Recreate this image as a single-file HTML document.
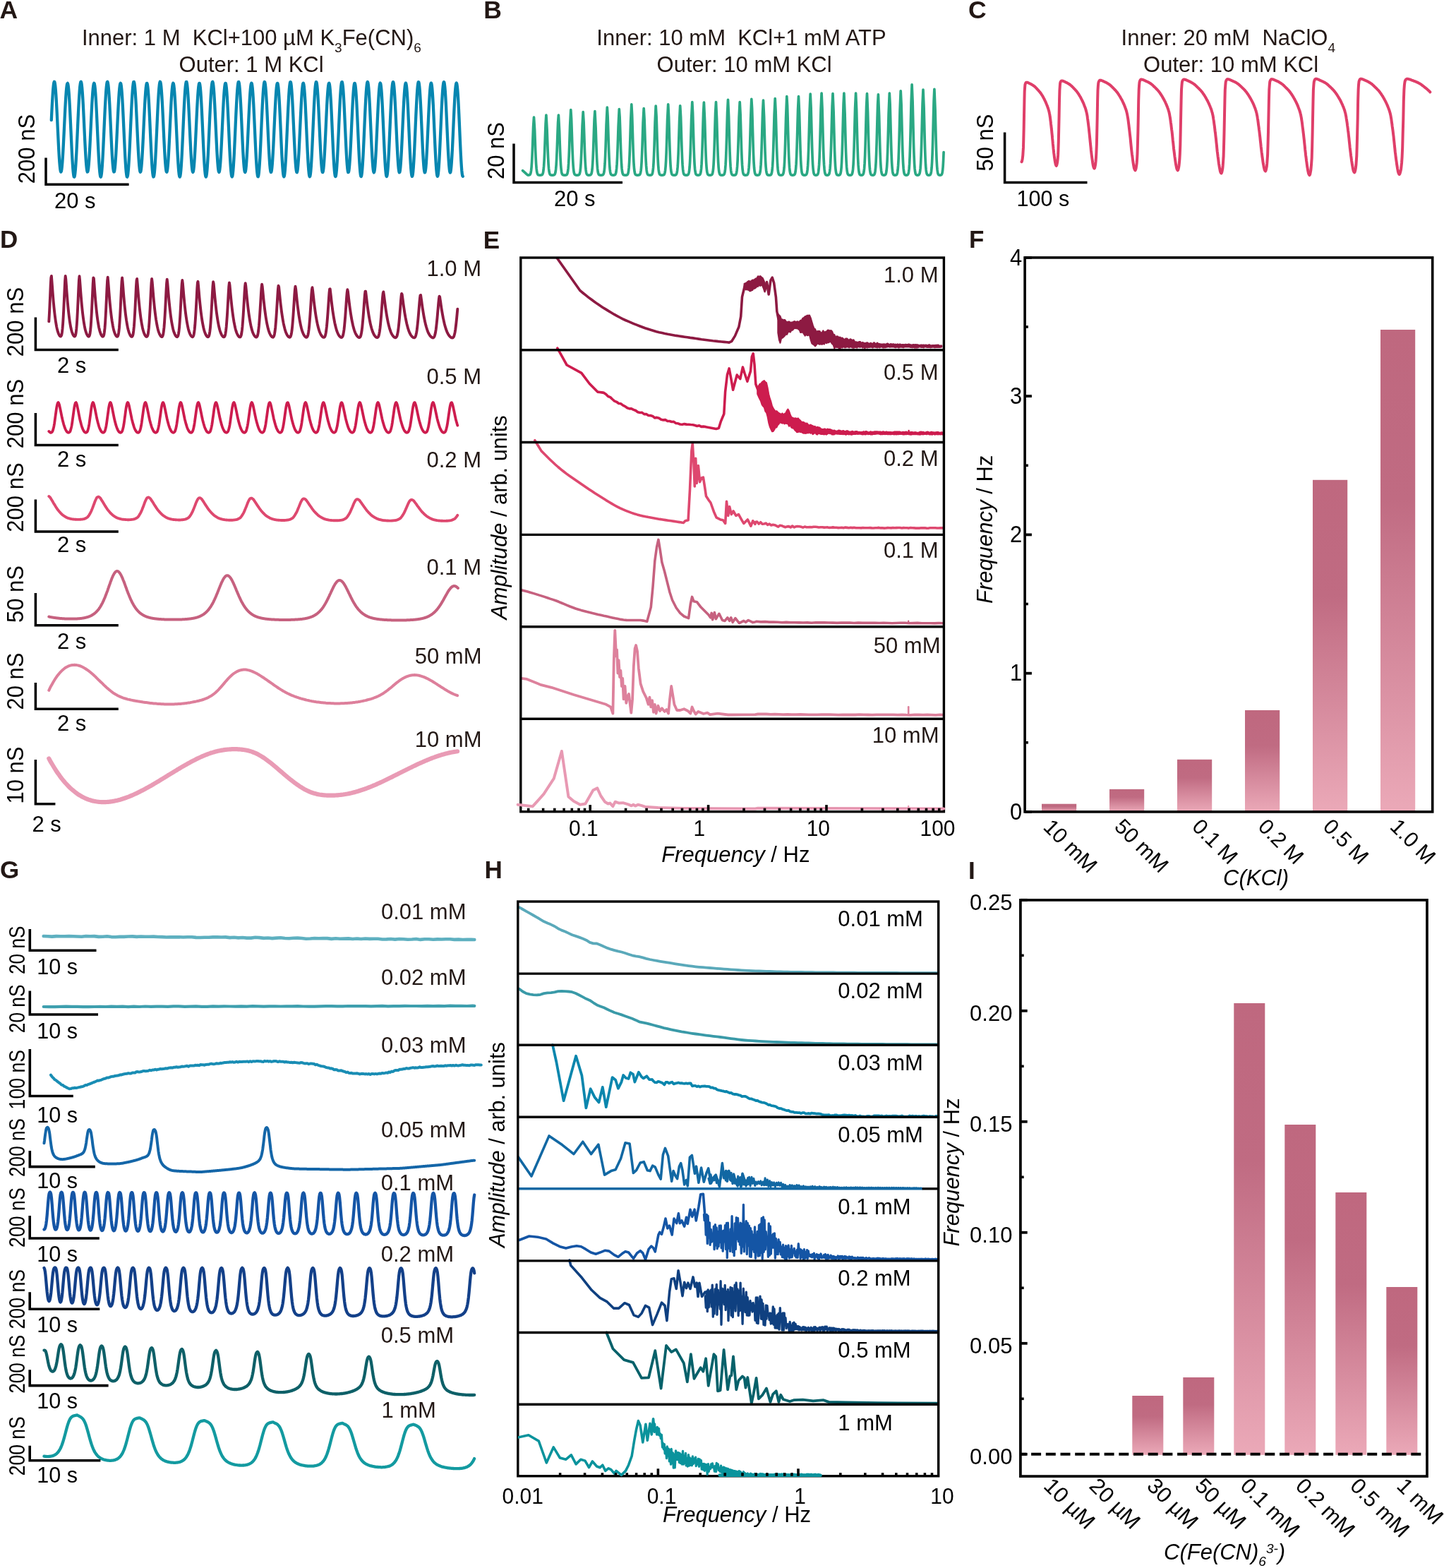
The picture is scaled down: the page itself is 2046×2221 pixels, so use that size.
<!DOCTYPE html>
<html lang="en"><head><meta charset="utf-8"><title>Figure</title>
<style>
html,body{margin:0;padding:0;background:#fff;}
svg{display:block;}
svg text{font-family:"Liberation Sans",Arial,Helvetica,sans-serif;}
</style></head><body>
<svg width="2046" height="2221" viewBox="0 0 2046 2221">
<defs>
<linearGradient id="bg" x1="0" y1="0" x2="0" y2="1"><stop offset="0" stop-color="#bf687f"/><stop offset="0.35" stop-color="#c06b82"/><stop offset="1" stop-color="#eba9b8"/></linearGradient>
</defs>
<rect width="2046" height="2221" fill="#fff"/>
<text x="-0.5" y="26.2" font-size="35.5" text-anchor="start" fill="#231815" font-weight="bold">A</text>
<text x="356.4" y="63.9" font-size="31" text-anchor="middle" fill="#231815" xml:space="preserve">Inner: 1 M  KCl+100 µM K<tspan font-size="19" dy="10.5">3</tspan><tspan dy="-10.5">Fe(CN)</tspan><tspan font-size="19" dy="10.5">6</tspan></text>
<text x="356.1" y="101.5" font-size="31" text-anchor="middle" fill="#231815">Outer: 1 M KCl</text>
<polyline points="72.8,170.1 73.3,159.4 73.8,149.4 74.3,140.3 74.8,132.3 75.3,125.7 75.8,120.7 76.3,117.4 76.8,115.8 77.3,116.0 77.8,118.1 78.3,121.8 78.8,127.2 79.3,134.1 79.8,142.3 80.3,151.5 80.8,161.4 81.3,171.9 81.8,182.6 82.3,193.2 82.8,203.4 83.3,213.0 83.8,221.6 84.3,229.1 84.8,235.1 85.3,239.6 85.8,242.4 86.3,243.5 86.8,242.8 87.3,240.4 87.8,236.2 88.3,230.5 88.8,223.4 89.3,215.0 89.8,205.7 90.3,195.7 90.8,185.3 91.3,174.7 91.8,164.3 92.3,154.3 92.8,145.1 93.3,136.9 93.8,130.0 94.3,124.5 94.8,120.6 95.3,118.4 95.8,117.9 96.3,119.3 96.8,122.4 97.3,127.3 97.8,133.7 98.3,141.5 98.8,150.4 99.3,160.3 99.8,170.9 100.3,181.8 100.8,192.9 101.3,203.6 101.8,213.9 102.3,223.3 102.8,231.7 103.3,238.8 103.8,244.3 104.3,248.3 104.8,250.4 105.3,250.7 105.8,249.2 106.3,245.9 106.8,240.9 107.3,234.4 107.8,226.4 108.3,217.2 108.8,207.2 109.3,196.4 109.8,185.4 110.3,174.2 110.8,163.3 111.3,153.0 111.8,143.5 112.3,135.1 112.8,127.9 113.3,122.3 113.8,118.4 114.3,116.2 114.8,115.8 115.3,117.2 115.8,120.4 116.3,125.3 116.8,131.7 117.3,139.5 117.8,148.4 118.3,158.2 118.8,168.6 119.3,179.3 119.8,190.0 120.3,200.4 120.8,210.2 121.3,219.2 121.8,227.0 122.3,233.5 122.8,238.5 123.3,241.9 123.8,243.5 124.3,243.3 124.8,241.3 125.3,237.6 125.8,232.3 126.3,225.5 126.8,217.4 127.3,208.3 127.8,198.4 128.3,188.0 128.8,177.4 129.3,166.9 129.8,156.8 130.3,147.3 130.8,138.8 131.3,131.5 131.8,125.6 132.3,121.3 132.8,118.7 133.3,117.8 133.8,118.8 134.3,121.6 134.8,126.1 135.3,132.2 135.8,139.7 136.3,148.5 136.8,158.2 137.3,168.7 137.8,179.6 138.3,190.7 138.8,201.6 139.3,212.0 139.8,221.6 140.3,230.2 140.8,237.6 141.3,243.4 141.8,247.6 142.3,250.1 142.8,250.7 143.3,249.5 143.8,246.5 144.3,241.7 144.8,235.4 145.3,227.6 145.8,218.5 146.3,208.6 146.8,197.9 147.3,186.8 147.8,175.6 148.3,164.7 148.8,154.2 149.3,144.6 149.8,136.0 150.3,128.7 150.8,122.9 151.3,118.7 151.8,116.3 152.3,115.8 152.8,117.0 153.3,120.1 153.8,124.8 154.3,131.1 154.8,138.8 155.3,147.7 155.8,157.5 156.3,167.9 156.8,178.6 157.3,189.3 157.8,199.8 158.3,209.7 158.8,218.8 159.3,226.7 159.8,233.3 160.3,238.4 160.8,241.8 161.3,243.5 161.8,243.4 162.3,241.4 162.8,237.8 163.3,232.5 163.8,225.7 164.3,217.6 164.8,208.5 165.3,198.6 165.8,188.2 166.3,177.5 166.8,167.0 167.3,156.8 167.8,147.3 168.3,138.8 168.8,131.5 169.3,125.6 169.8,121.2 170.3,118.6 170.8,117.8 171.3,118.8 171.8,121.7 172.3,126.2 172.8,132.4 173.3,140.0 173.8,148.8 174.3,158.6 174.8,169.2 175.3,180.2 175.8,191.2 176.3,202.1 176.8,212.5 177.3,222.2 177.8,230.7 178.3,238.0 178.8,243.7 179.3,247.8 179.8,250.2 180.3,250.6 180.8,249.3 181.3,246.1 181.8,241.1 182.3,234.6 182.8,226.6 183.3,217.5 183.8,207.4 184.3,196.6 184.8,185.4 185.3,174.3 185.8,163.3 186.3,152.9 186.8,143.4 187.3,134.9 187.8,127.8 188.3,122.2 188.8,118.3 189.3,116.1 189.8,115.9 190.3,117.4 190.8,120.7 191.3,125.8 191.8,132.4 192.3,140.3 192.8,149.4 193.3,159.3 193.8,169.8 194.3,180.6 194.8,191.4 195.3,201.8 195.8,211.6 196.3,220.5 196.8,228.2 197.3,234.5 197.8,239.3 198.3,242.4 198.8,243.7 199.3,243.2 199.8,240.9 200.3,236.8 200.8,231.1 201.3,224.0 201.8,215.7 202.3,206.3 202.8,196.2 203.3,185.6 203.8,174.9 204.3,164.4 204.8,154.3 205.3,145.0 205.8,136.8 206.3,129.8 206.8,124.3 207.3,120.4 207.8,118.2 208.3,117.9 208.8,119.4 209.3,122.7 209.8,127.8 210.3,134.4 210.8,142.4 211.3,151.6 211.8,161.7 212.3,172.4 212.8,183.5 213.3,194.6 213.8,205.4 214.3,215.6 214.8,224.9 215.3,233.1 215.8,240.0 216.3,245.2 216.8,248.7 217.3,250.5 217.8,250.3 218.3,248.3 218.8,244.5 219.3,238.9 219.8,231.9 220.3,223.4 220.8,213.9 221.3,203.5 221.8,192.5 222.3,181.3 222.8,170.1 223.3,159.3 223.8,149.1 224.3,140.0 224.8,132.0 225.3,125.4 225.8,120.4 226.3,117.2 226.8,115.8 227.3,116.3 227.8,118.6 228.3,122.7 228.8,128.4 229.3,135.6 229.8,144.1 230.3,153.6 230.8,163.8 231.3,174.5 231.8,185.4 232.3,196.1 232.8,206.3 233.3,215.7 233.8,224.2 234.3,231.3 234.8,237.0 235.3,241.0 235.8,243.3 236.3,243.8 236.8,242.4 237.3,239.2 237.8,234.4 238.3,228.0 238.8,220.2 239.3,211.3 239.8,201.5 240.3,191.1 240.8,180.4 241.3,169.7 241.8,159.3 242.3,149.6 242.8,140.7 243.3,133.0 243.8,126.7 244.3,122.0 244.8,119.0 245.3,117.8 245.8,118.4 246.3,120.9 246.8,125.2 247.3,131.1 247.8,138.5 248.3,147.2 248.8,157.0 249.3,167.5 249.8,178.5 250.3,189.6 250.8,200.6 251.3,211.2 251.8,221.0 252.3,229.7 252.8,237.2 253.3,243.1 253.8,247.4 254.3,249.9 254.8,250.5 255.3,249.3 255.8,246.2 256.3,241.3 256.8,234.8 257.3,226.8 257.8,217.7 258.3,207.5 258.8,196.7 259.3,185.5 259.8,174.3 260.3,163.2 260.8,152.8 261.3,143.2 261.8,134.7 262.3,127.6 262.8,122.0 263.3,118.2 263.8,116.1 264.3,115.9 264.8,117.6 265.3,121.1 265.8,126.3 266.3,133.1 266.8,141.2 267.3,150.4 267.8,160.5 268.3,171.1 268.8,182.0 269.3,192.8 269.8,203.3 270.3,213.0 270.8,221.8 271.3,229.4 271.8,235.5 272.3,240.1 272.8,242.9 273.3,243.9 273.8,243.0 274.3,240.4 274.8,235.9 275.3,229.9 275.8,222.5 276.3,213.8 276.8,204.2 277.3,193.9 277.8,183.2 278.3,172.4 278.8,161.9 279.3,151.9 279.8,142.8 280.3,134.8 280.8,128.1 281.3,123.0 281.8,119.5 282.3,117.9 282.8,118.1 283.3,120.2 283.8,124.1 284.3,129.7 284.8,136.8 285.3,145.3 285.8,154.9 286.3,165.3 286.8,176.2 287.3,187.4 287.8,198.5 288.3,209.2 288.8,219.2 289.3,228.2 289.8,235.9 290.3,242.1 290.8,246.7 291.3,249.5 291.8,250.5 292.3,249.5 292.8,246.7 293.3,242.1 293.8,235.8 294.3,228.0 294.8,219.0 295.3,208.9 295.8,198.2 296.3,187.0 296.8,175.7 297.3,164.6 297.8,154.0 298.3,144.3 298.8,135.6 299.3,128.3 299.8,122.6 300.3,118.5 300.8,116.3 301.3,115.9 301.8,117.4 302.3,120.8 302.8,125.8 303.3,132.5 303.8,140.5 304.3,149.7 304.8,159.8 305.3,170.4 305.8,181.3 306.3,192.2 306.8,202.7 307.3,212.6 307.8,221.4 308.3,229.1 308.8,235.4 309.3,240.0 309.8,242.9 310.3,243.9 310.8,243.2 311.3,240.5 311.8,236.1 312.3,230.1 312.8,222.7 313.3,214.0 313.8,204.3 314.3,194.0 314.8,183.3 315.3,172.5 315.8,161.9 316.3,151.9 316.8,142.7 317.3,134.7 317.8,128.0 318.3,122.9 318.8,119.5 319.3,117.9 319.8,118.1 320.3,120.3 320.8,124.2 321.3,129.9 321.8,137.1 322.3,145.6 322.8,155.3 323.3,165.8 323.8,176.8 324.3,188.0 324.8,199.1 325.3,209.8 325.8,219.8 326.3,228.7 326.8,236.3 327.3,242.5 327.8,247.0 328.3,249.6 328.8,250.4 329.3,249.3 329.8,246.3 330.3,241.5 330.8,235.0 331.3,227.1 331.8,217.9 332.3,207.7 332.8,196.8 333.3,185.6 333.8,174.2 334.3,163.2 334.8,152.7 335.3,143.0 335.8,134.5 336.3,127.4 336.8,121.9 337.3,118.1 337.8,116.1 338.3,116.0 338.8,117.8 339.3,121.5 339.8,126.9 340.3,133.8 340.8,142.1 341.3,151.5 341.8,161.7 342.3,172.4 342.8,183.4 343.3,194.3 343.8,204.7 344.3,214.4 344.8,223.1 345.3,230.6 345.8,236.5 346.3,240.8 346.8,243.3 347.3,244.0 347.8,242.8 348.3,239.8 348.8,235.0 349.3,228.6 349.8,220.8 350.3,211.9 350.8,202.0 351.3,191.5 351.8,180.6 352.3,169.8 352.8,159.3 353.3,149.5 353.8,140.5 354.3,132.8 354.8,126.5 355.3,121.8 355.8,118.8 356.3,117.7 356.8,118.5 357.3,121.2 357.8,125.6 358.3,131.8 358.8,139.4 359.3,148.4 359.8,158.3 360.3,169.0 360.8,180.2 361.3,191.4 361.8,202.5 362.3,213.0 362.8,222.7 363.3,231.2 363.8,238.5 364.3,244.1 364.8,248.0 365.3,250.0 365.8,250.2 366.3,248.4 366.8,244.7 367.3,239.3 367.8,232.3 368.3,223.9 368.8,214.3 369.3,203.8 369.8,192.7 370.3,181.3 370.8,170.0 371.3,159.1 371.8,148.9 372.3,139.6 372.8,131.6 373.3,125.0 373.8,120.2 374.3,117.1 374.8,115.9 375.3,116.6 375.8,119.2 376.3,123.5 376.8,129.6 377.3,137.2 377.8,146.0 378.3,155.8 378.8,166.3 379.3,177.2 379.8,188.3 380.3,199.0 380.8,209.2 381.3,218.5 381.8,226.7 382.3,233.5 382.8,238.8 383.3,242.3 383.8,243.9 384.3,243.7 384.8,241.7 385.3,237.8 385.8,232.2 386.3,225.1 386.8,216.7 387.3,207.2 387.8,196.9 388.3,186.2 388.8,175.3 389.3,164.5 389.8,154.3 390.3,144.8 390.8,136.4 391.3,129.4 391.8,123.8 392.3,120.0 392.8,118.0 393.3,117.9 393.8,119.7 394.3,123.3 394.8,128.7 395.3,135.7 395.8,144.1 396.3,153.7 396.8,164.1 397.3,175.1 397.8,186.4 398.3,197.6 398.8,208.4 399.3,218.6 399.8,227.7 400.3,235.5 400.8,241.9 401.3,246.5 401.8,249.3 402.3,250.3 402.8,249.3 403.3,246.4 403.8,241.6 404.3,235.2 404.8,227.3 405.3,218.1 405.8,207.9 406.3,196.9 406.8,185.6 407.3,174.2 407.8,163.1 408.3,152.5 408.8,142.8 409.3,134.3 409.8,127.2 410.3,121.7 410.8,118.0 411.3,116.1 411.8,116.1 412.3,118.1 412.8,121.9 413.3,127.4 413.8,134.5 414.3,143.0 414.8,152.6 415.3,162.9 415.8,173.8 416.3,184.9 416.8,195.8 417.3,206.2 417.8,215.9 418.3,224.5 418.8,231.7 419.3,237.5 419.8,241.5 420.3,243.7 420.8,244.1 421.3,242.5 421.8,239.1 422.3,233.9 422.8,227.2 423.3,219.1 423.8,209.8 424.3,199.7 424.8,189.0 425.3,178.1 425.8,167.2 426.3,156.8 426.8,147.0 427.3,138.3 427.8,130.9 428.3,125.0 428.8,120.7 429.3,118.3 429.8,117.7 430.3,119.1 430.8,122.3 431.3,127.4 431.8,134.1 432.3,142.2 432.8,151.6 433.3,161.9 433.8,172.9 434.3,184.2 434.8,195.5 435.3,206.4 435.8,216.7 436.3,226.1 436.8,234.2 437.3,240.8 437.8,245.8 438.3,248.9 438.8,250.2 439.3,249.5 439.8,246.9 440.3,242.4 440.8,236.2 441.3,228.4 441.8,219.4 442.3,209.2 442.8,198.4 443.3,187.0 443.8,175.6 444.3,164.4 444.8,153.7 445.3,143.9 445.8,135.2 446.3,127.9 446.8,122.2 447.3,118.3 447.8,116.2 448.3,116.1 448.8,117.9 449.3,121.5 449.8,126.9 450.3,134.0 450.8,142.4 451.3,151.9 451.8,162.2 452.3,173.1 452.8,184.2 453.3,195.2 453.8,205.7 454.3,215.4 454.8,224.1 455.3,231.5 455.8,237.3 456.3,241.5 456.8,243.8 457.3,244.1 457.8,242.6 458.3,239.3 458.8,234.1 459.3,227.4 459.8,219.3 460.3,210.0 460.8,199.8 461.3,189.1 461.8,178.1 462.3,167.2 462.8,156.7 463.3,147.0 463.8,138.2 464.3,130.8 464.8,124.9 465.3,120.6 465.8,118.2 466.3,117.7 466.8,119.1 467.3,122.5 467.8,127.6 468.3,134.3 468.8,142.6 469.3,152.0 469.8,162.4 470.3,173.4 470.8,184.8 471.3,196.1 471.8,207.1 472.3,217.3 472.8,226.6 473.3,234.7 473.8,241.2 474.3,246.0 474.8,249.1 475.3,250.1 475.8,249.3 476.3,246.4 476.8,241.8 477.3,235.4 477.8,227.5 478.3,218.2 478.8,208.0 479.3,197.0 479.8,185.6 480.3,174.2 480.8,163.0 481.3,152.3 481.8,142.6 482.3,134.1 482.8,127.0 483.3,121.5 483.8,117.9 484.3,116.1 484.8,116.2 485.3,118.4 485.8,122.3 486.3,128.0 486.8,135.3 487.3,144.0 487.8,153.7 488.3,164.2 488.8,175.2 489.3,186.4 489.8,197.3 490.3,207.7 490.8,217.3 491.3,225.8 491.8,232.9 492.3,238.4 492.8,242.2 493.3,244.1 493.8,244.0 494.3,242.1 494.8,238.3 495.3,232.8 495.8,225.7 496.3,217.2 496.8,207.7 497.3,197.3 497.8,186.5 498.3,175.4 498.8,164.6 499.3,154.2 499.8,144.6 500.3,136.2 500.8,129.1 501.3,123.6 501.8,119.8 502.3,117.9 502.8,117.9 503.3,119.9 503.8,123.7 504.3,129.3 504.8,136.6 505.3,145.2 505.8,155.0 506.3,165.7 506.8,176.9 507.3,188.3 507.8,199.5 508.3,210.3 508.8,220.4 509.3,229.3 509.8,236.9 510.3,242.9 510.8,247.2 511.3,249.6 511.8,250.0 512.3,248.4 512.8,245.0 513.3,239.6 513.8,232.7 514.3,224.2 514.8,214.6 515.3,204.0 515.8,192.8 516.3,181.3 516.8,169.9 517.3,158.8 517.8,148.5 518.3,139.2 518.8,131.1 519.3,124.6 519.8,119.9 520.3,116.9 520.8,115.9 521.3,116.9 521.8,119.8 522.3,124.5 522.8,131.0 523.3,138.9 523.8,148.0 524.3,158.2 524.8,169.0 525.3,180.1 525.8,191.3 526.3,202.1 526.8,212.2 527.3,221.4 527.8,229.3 528.3,235.7 528.8,240.4 529.3,243.4 529.8,244.4 530.3,243.4 530.8,240.6 531.3,236.0 531.8,229.6 532.3,221.8 532.8,212.8 533.3,202.7 533.8,192.0 534.3,181.0 534.8,170.0 535.3,159.3 535.8,149.2 536.3,140.2 536.8,132.3 537.3,126.0 537.8,121.3 538.3,118.5 538.8,117.6 539.3,118.7 539.8,121.7 540.3,126.5 540.8,133.0 541.3,141.1 541.8,150.4 542.3,160.8 542.8,171.8 543.3,183.2 543.8,194.6 544.3,205.7 544.8,216.1 545.3,225.6 545.8,233.8 546.3,240.5 546.8,245.6 547.3,248.8 547.8,250.0 548.3,249.2 548.8,246.5 549.3,241.9 549.8,235.6 550.3,227.6 550.8,218.4 551.3,208.1 551.8,197.1 552.3,185.6 552.8,174.1 553.3,162.8 553.8,152.2 554.3,142.4 554.8,133.9 555.3,126.8 555.8,121.4 556.3,117.8 556.8,116.1 557.3,116.4 557.8,118.6 558.3,122.8 558.8,128.7 559.3,136.2 559.8,145.0 560.3,154.9 560.8,165.5 561.3,176.7 561.8,187.9 562.3,198.9 562.8,209.3 563.3,218.8 563.8,227.1 564.3,234.0 564.8,239.3 565.3,242.8 565.8,244.3 566.3,244.0 566.8,241.7 567.3,237.5 567.8,231.6 568.3,224.1 568.8,215.3 569.3,205.5 569.8,194.9 570.3,183.8 570.8,172.7 571.3,161.9 571.8,151.6 572.3,142.2 572.8,134.1 573.3,127.3 573.8,122.2 574.3,119.0 574.8,117.6 575.3,118.3 575.8,120.8 576.3,125.3 576.8,131.5 577.3,139.3 577.8,148.4 578.3,158.6 578.8,169.5 579.3,180.9 579.8,192.4 580.3,203.6 580.8,214.2 581.3,223.9 581.8,232.4 582.3,239.4 582.8,244.8 583.3,248.3 583.8,249.9 584.3,249.4 584.8,247.0 585.3,242.7 585.8,236.5 586.3,228.8 586.8,219.7 587.3,209.5 587.8,198.5 588.3,187.1 588.8,175.5 589.3,164.1 589.8,153.4 590.3,143.5 590.8,134.7 591.3,127.5 591.8,121.8 592.3,118.0 592.8,116.2 593.3,116.3 593.8,118.4 594.3,122.4 594.8,128.2 595.3,135.6 595.8,144.3 596.3,154.2 596.8,164.9 597.3,176.0 597.8,187.2 598.3,198.3 598.8,208.8 599.3,218.4 599.8,226.8 600.3,233.8 600.8,239.2 601.3,242.7 601.8,244.4 602.3,244.1 602.8,241.8 603.3,237.7 603.8,231.8 604.3,224.3 604.8,215.5 605.3,205.6 605.8,195.0 606.3,183.9 606.8,172.8 607.3,161.9 607.8,151.5 608.3,142.1 608.8,134.0 609.3,127.2 609.8,122.2 610.3,118.9 610.8,117.6 611.3,118.3 611.8,120.9 612.3,125.5 612.8,131.8 613.3,139.6 613.8,148.8 614.3,159.1 614.8,170.1 615.3,181.6 615.8,193.0 616.3,204.3 616.8,214.9 617.3,224.5 617.8,232.9 618.3,239.9 618.8,245.1 619.3,248.4 619.8,249.8 620.3,249.2 620.8,246.6 621.3,242.0 621.8,235.7 622.3,227.8 622.8,218.6 623.3,208.2 623.8,197.1 624.3,185.6 624.8,174.0 625.3,162.7 625.8,152.0 626.3,142.2 626.8,133.6 627.3,126.6 627.8,121.2 628.3,117.7 628.8,116.1 629.3,116.5 629.8,118.9 630.3,123.3 630.8,129.3 631.3,137.0 631.8,146.0 632.3,156.1 632.8,166.9 633.3,178.1 633.8,189.4 634.3,200.4 634.8,210.8 635.3,220.2 635.8,228.4 636.3,235.1 636.8,240.2 637.3,243.3 637.8,244.6 638.3,243.8 638.8,241.1 639.3,236.5 639.8,230.2 640.3,222.4 640.8,213.3 641.3,203.1 641.8,192.3 642.3,181.2 642.8,170.0 643.3,159.2 643.8,149.0 644.3,139.9 644.8,132.0 645.3,125.7 645.8,121.1 646.3,118.3 646.8,117.6 647.3,118.8 647.8,122.0 648.3,127.1 648.8,133.9 649.3,142.2 649.8,151.8 650.3,162.3 650.8,173.6 651.3,185.1 651.8,196.6 652.3,207.7 652.8,218.0 653.3,227.3 653.8,235.3 654.3,241.7 654.8,246.4 655.3,249.1 655.8,249.8" fill="none" stroke="#0686b0" stroke-width="4.3" stroke-linejoin="round" stroke-linecap="round"/>
<path d="M65.0 223.5V261.3H182.6" fill="none" stroke="#000" stroke-width="3.5" stroke-linejoin="miter"/>
<text x="49.2" y="211.0" font-size="32.5" text-anchor="middle" fill="#000" transform="rotate(-90 49.2 211.0)" textLength="98.3" lengthAdjust="spacingAndGlyphs">200 nS</text>
<text x="77.0" y="294.6" font-size="31" text-anchor="start" fill="#000">20 s</text>
<text x="685.3" y="25.5" font-size="35.5" text-anchor="start" fill="#231815" font-weight="bold">B</text>
<text x="1050.5" y="63.9" font-size="31" text-anchor="middle" fill="#231815" xml:space="preserve">Inner: 10 mM  KCl+1 mM ATP</text>
<text x="1054.6" y="101.5" font-size="31" text-anchor="middle" fill="#231815">Outer: 10 mM KCl</text>
<polyline points="740.6,241.6 741.1,242.1 741.6,242.5 742.1,243.0 742.6,243.4 743.1,243.9 743.6,244.3 744.1,244.8 744.6,245.2 745.1,245.7 745.6,246.1 746.1,246.6 746.6,247.0 747.1,247.5 747.6,247.9 748.1,248.1 748.6,248.1 749.1,248.0 749.6,248.0 750.1,247.8 750.6,247.6 751.1,247.1 751.6,246.2 752.1,244.5 752.6,241.5 753.1,236.6 753.6,229.3 754.1,219.1 754.6,206.6 755.1,192.7 755.6,179.7 756.5,166.1 757.6,183.9 758.1,197.5 758.6,211.1 759.1,222.9 759.6,232.1 760.1,238.5 760.6,242.7 761.1,245.1 761.6,246.5 762.1,247.3 762.6,247.7 763.1,247.9 763.6,248.0 764.1,248.1 764.6,248.1 765.1,248.1 765.6,248.1 766.1,248.1 766.6,248.0 767.1,247.9 767.6,247.8 768.1,247.5 768.6,246.9 769.1,245.9 769.6,244.0 770.1,240.6 770.6,235.2 771.1,227.2 771.6,216.3 772.1,202.9 772.6,188.6 773.1,175.4 773.9,163.0 775.1,183.7 775.6,198.0 776.1,211.9 776.6,223.7 777.1,232.8 777.6,239.0 778.1,243.0 778.6,245.3 779.1,246.6 779.6,247.3 780.1,247.7 780.6,247.9 781.1,248.0 781.6,248.1 782.1,248.1 782.6,248.1 783.1,248.1 783.6,248.1 784.1,248.0 784.6,247.9 785.1,247.7 785.6,247.4 786.1,246.8 786.6,245.6 787.1,243.5 787.6,239.9 788.1,234.1 788.6,225.6 789.1,214.2 789.6,200.6 790.1,186.3 790.6,173.6 791.4,163.0 792.6,185.4 793.1,199.7 793.6,213.5 794.1,225.0 794.6,233.6 795.1,239.6 795.6,243.3 796.1,245.5 796.6,246.7 797.1,247.4 797.6,247.7 798.1,247.9 798.6,248.0 799.1,248.1 799.6,248.1 800.1,248.1 800.6,248.1 801.1,248.1 801.6,248.0 802.1,247.9 802.6,247.7 803.1,247.3 803.6,246.6 804.1,245.2 804.6,242.7 805.1,238.5 805.6,231.9 806.1,222.2 806.6,209.5 807.1,194.4 807.6,178.8 808.8,155.5 809.6,168.5 810.1,182.7 810.6,198.4 811.1,213.0 811.6,225.0 812.1,233.8 812.6,239.8 813.1,243.5 813.6,245.6 814.1,246.8 814.6,247.4 815.1,247.7 815.6,247.9 816.1,248.0 816.6,248.1 817.1,248.1 817.6,248.1 818.1,248.1 818.6,248.1 819.1,248.0 819.6,247.9 820.1,247.6 820.6,247.2 821.1,246.4 821.6,244.9 822.1,242.3 822.6,237.8 823.1,230.8 823.6,220.9 824.1,208.1 824.6,193.3 825.1,178.4 826.2,158.5 827.1,172.8 827.6,187.0 828.1,202.1 828.6,216.0 829.1,227.2 829.6,235.3 830.1,240.7 830.6,244.1 831.1,246.0 831.6,247.0 832.1,247.5 832.6,247.8 833.1,248.0 833.6,248.1 834.1,248.1 834.6,248.1 835.1,248.1 835.6,248.0 836.1,247.9 836.6,247.8 837.1,247.4 837.6,246.8 838.1,245.6 838.6,243.4 839.1,239.6 839.6,233.5 840.1,224.6 840.6,212.6 841.1,198.2 841.6,182.9 842.1,169.3 842.9,157.7 844.1,181.2 844.6,196.4 845.1,211.0 845.6,223.3 846.1,232.6 846.6,238.9 847.1,243.0 847.6,245.3 848.1,246.6 848.6,247.3 849.1,247.7 849.6,247.9 850.1,248.0 850.6,248.1 851.1,248.1 851.6,248.1 852.1,248.1 852.6,248.1 853.1,248.0 853.6,247.9 854.1,247.7 854.6,247.3 855.1,246.5 855.6,245.1 856.1,242.6 856.6,238.3 857.1,231.5 857.6,221.5 858.1,208.4 858.6,192.8 859.1,176.6 860.3,152.1 861.1,165.1 861.6,179.8 862.1,196.1 862.6,211.3 863.1,223.8 863.6,233.1 864.1,239.4 864.6,243.3 865.1,245.5 865.6,246.8 866.1,247.4 866.6,247.7 867.1,247.9 867.6,248.0 868.1,248.1 868.6,248.1 869.1,248.1 869.6,248.1 870.1,248.0 870.6,247.9 871.1,247.7 871.6,247.4 872.1,246.7 872.6,245.4 873.1,243.0 873.6,238.9 874.1,232.4 874.6,223.0 875.1,210.3 875.6,195.3 876.1,179.6 877.3,154.7 878.1,165.9 878.6,179.8 879.1,195.5 879.6,210.5 880.1,223.1 880.6,232.5 881.1,238.9 881.6,243.0 882.1,245.3 882.6,246.6 883.1,247.3 883.6,247.7 884.1,247.9 884.6,248.0 885.1,248.1 885.6,248.1 886.1,248.1 886.6,248.1 887.1,248.1 887.6,248.0 888.1,247.9 888.6,247.6 889.1,247.2 889.6,246.4 890.1,244.9 890.6,242.2 891.1,237.5 891.6,230.2 892.1,219.7 892.6,205.8 893.1,189.4 893.6,172.5 894.8,147.9 895.6,162.4 896.1,178.0 896.6,195.0 897.1,210.7 897.6,223.5 898.1,233.0 898.6,239.3 899.1,243.2 899.6,245.5 900.1,246.7 900.6,247.4 901.1,247.7 901.6,247.9 902.1,248.0 902.6,248.1 903.1,248.1 903.6,248.1 904.1,248.1 904.6,248.0 905.1,248.0 905.6,247.8 906.1,247.6 906.6,247.1 907.1,246.3 907.6,244.7 908.1,241.8 908.6,237.0 909.1,229.5 909.6,218.9 910.1,205.3 910.6,189.6 911.1,174.0 912.2,153.6 913.1,169.0 913.6,183.9 914.1,199.9 914.6,214.4 915.1,226.2 915.6,234.7 916.1,240.4 916.6,243.9 917.1,245.8 917.6,246.9 918.1,247.5 918.6,247.8 919.1,247.9 919.6,248.0 920.1,248.1 920.6,248.1 921.1,248.1 921.6,248.1 922.1,248.0 922.6,247.9 923.1,247.6 923.6,247.2 924.1,246.4 924.6,244.9 925.1,242.1 925.6,237.4 926.1,230.0 926.6,219.5 927.1,205.7 927.6,189.6 928.1,173.2 929.2,150.2 930.1,164.9 930.6,180.2 931.1,196.7 931.6,212.0 932.1,224.4 932.6,233.6 933.1,239.7 933.6,243.4 934.1,245.6 934.6,246.8 935.1,247.4 935.6,247.7 936.1,247.9 936.6,248.0 937.1,248.1 937.6,248.1 938.1,248.1 938.6,248.1 939.1,248.0 939.6,248.0 940.1,247.8 940.6,247.6 941.1,247.1 941.6,246.1 942.1,244.4 942.6,241.3 943.1,236.1 943.6,228.1 944.1,216.8 944.6,202.2 945.1,185.5 945.6,169.0 946.7,147.9 947.6,165.3 948.1,181.4 948.6,198.3 949.1,213.5 949.6,225.7 950.1,234.5 950.6,240.3 951.1,243.8 951.6,245.8 952.1,246.9 952.6,247.5 953.1,247.8 953.6,248.0 954.1,248.0 954.6,248.1 955.1,248.1 955.6,248.1 956.1,248.1 956.6,248.0 957.1,247.9 957.6,247.6 958.1,247.2 958.6,246.3 959.1,244.7 959.6,241.8 960.1,236.9 960.6,229.2 961.1,218.4 961.6,204.3 962.1,188.0 962.6,171.7 963.7,149.8 964.6,165.3 965.1,180.7 965.6,197.3 966.1,212.6 966.6,224.9 967.1,233.9 967.6,239.9 968.1,243.6 968.6,245.7 969.1,246.8 969.6,247.5 970.1,247.8 970.6,247.9 971.1,248.0 971.6,248.1 972.1,248.1 972.6,248.1 973.1,248.1 973.6,248.0 974.1,247.9 974.6,247.6 975.1,247.2 975.6,246.3 976.1,244.7 976.6,241.9 977.1,237.0 977.6,229.3 978.1,218.3 978.6,203.8 979.1,186.8 979.6,169.4 980.8,144.5 981.6,159.7 982.1,175.9 982.6,193.4 983.1,209.6 983.6,222.9 984.1,232.6 984.6,239.2 985.1,243.2 985.6,245.5 986.1,246.8 986.6,247.4 987.1,247.8 987.6,247.9 988.1,248.0 988.6,248.1 989.1,248.1 989.6,248.1 990.1,248.0 990.6,247.9 991.1,247.7 991.6,247.4 992.1,246.7 992.6,245.4 993.1,243.0 993.6,238.9 994.1,232.2 994.6,222.3 995.1,208.9 995.6,192.7 996.1,175.3 996.6,159.5 997.4,145.2 998.6,170.6 999.1,187.9 999.6,204.7 1000.1,219.0 1000.6,229.8 1001.1,237.3 1001.6,242.1 1002.1,244.8 1002.6,246.4 1003.1,247.2 1003.6,247.6 1004.1,247.9 1004.6,248.0 1005.1,248.1 1005.6,248.1 1006.1,248.1 1006.6,248.1 1007.1,248.0 1007.6,247.9 1008.1,247.7 1008.6,247.4 1009.1,246.8 1009.6,245.5 1010.1,243.2 1010.6,239.3 1011.1,232.8 1011.6,223.2 1012.1,210.1 1012.6,193.9 1013.1,176.4 1013.6,160.2 1014.5,144.5 1015.6,168.4 1016.1,185.8 1016.6,202.8 1017.1,217.5 1017.6,228.8 1018.1,236.6 1018.6,241.6 1019.1,244.6 1019.6,246.3 1020.1,247.1 1020.6,247.6 1021.1,247.9 1021.6,248.0 1022.1,248.1 1022.6,248.1 1023.1,248.1 1023.6,248.1 1024.1,248.0 1024.6,247.9 1025.1,247.8 1025.6,247.4 1026.1,246.8 1026.6,245.6 1027.1,243.4 1027.6,239.5 1028.1,233.2 1028.6,223.6 1029.1,210.4 1029.6,194.1 1030.1,176.0 1030.6,159.0 1031.5,141.4 1032.6,164.9 1033.1,182.6 1033.6,200.3 1034.1,215.7 1034.6,227.5 1035.1,235.9 1035.6,241.2 1036.1,244.4 1036.6,246.2 1037.1,247.1 1037.6,247.6 1038.1,247.9 1038.6,248.0 1039.1,248.1 1039.6,248.1 1040.1,248.1 1040.6,248.1 1041.1,248.0 1041.6,247.9 1042.1,247.6 1042.6,247.1 1043.1,246.2 1043.6,244.4 1044.1,241.2 1044.6,235.9 1045.1,227.6 1045.6,215.9 1046.1,200.9 1046.6,183.6 1047.1,166.5 1048.2,144.5 1049.1,161.7 1049.6,178.2 1050.1,195.7 1050.6,211.6 1051.1,224.4 1051.6,233.7 1052.1,239.8 1052.6,243.6 1053.1,245.7 1053.6,246.9 1054.1,247.5 1054.6,247.8 1055.1,248.0 1055.6,248.1 1056.1,248.1 1056.6,248.1 1057.1,248.1 1057.6,248.0 1058.1,247.9 1058.6,247.7 1059.1,247.3 1059.6,246.5 1060.1,245.0 1060.6,242.3 1061.1,237.7 1061.6,230.3 1062.1,219.4 1062.6,204.9 1063.1,187.6 1063.6,169.3 1064.8,140.3 1065.6,153.6 1066.1,169.7 1066.6,188.0 1067.1,205.3 1067.6,219.7 1068.1,230.5 1068.6,237.8 1069.1,242.4 1069.6,245.1 1070.1,246.5 1070.6,247.3 1071.1,247.7 1071.6,247.9 1072.1,248.0 1072.6,248.1 1073.1,248.1 1073.6,248.1 1074.1,248.0 1074.6,248.0 1075.1,247.8 1075.6,247.5 1076.1,246.8 1076.6,245.6 1077.1,243.4 1077.6,239.5 1078.1,233.2 1078.6,223.6 1079.1,210.5 1079.6,194.2 1080.1,176.3 1080.6,159.5 1081.5,142.2 1082.6,165.2 1083.1,182.8 1083.6,200.4 1084.1,215.6 1084.6,227.5 1085.1,235.8 1085.6,241.2 1086.1,244.4 1086.6,246.1 1087.1,247.1 1087.6,247.6 1088.1,247.9 1088.6,248.0 1089.1,248.1 1089.6,248.1 1090.1,248.1 1090.6,248.1 1091.1,248.0 1091.6,247.9 1092.1,247.6 1092.6,247.1 1093.1,246.1 1093.6,244.2 1094.1,240.9 1094.6,235.4 1095.1,226.8 1095.6,214.7 1096.1,198.9 1096.6,180.9 1097.1,162.9 1098.2,139.6 1099.1,157.7 1099.6,175.0 1100.1,193.3 1100.6,209.9 1101.1,223.3 1101.6,233.0 1102.1,239.4 1102.6,243.4 1103.1,245.6 1103.6,246.8 1104.1,247.5 1104.6,247.8 1105.1,248.0 1105.6,248.0 1106.1,248.1 1106.6,248.1 1107.1,248.1 1107.6,248.0 1108.1,247.9 1108.6,247.7 1109.1,247.3 1109.6,246.4 1110.1,244.9 1110.6,242.1 1111.1,237.3 1111.6,229.6 1112.1,218.3 1112.6,203.3 1113.1,185.3 1113.6,166.5 1114.8,136.5 1115.6,150.2 1116.1,166.9 1116.6,185.7 1117.1,203.7 1117.6,218.6 1118.1,229.8 1118.6,237.4 1119.1,242.2 1119.6,244.9 1120.1,246.5 1120.6,247.3 1121.1,247.7 1121.6,247.9 1122.1,248.0 1122.6,248.1 1123.1,248.1 1123.6,248.1 1124.1,248.0 1124.6,247.9 1125.1,247.8 1125.6,247.4 1126.1,246.8 1126.6,245.5 1127.1,243.2 1127.6,239.1 1128.1,232.4 1128.6,222.4 1129.1,208.6 1129.6,191.4 1130.1,172.5 1130.6,154.8 1131.5,136.5 1132.6,160.7 1133.1,179.2 1133.6,197.7 1134.1,213.9 1134.6,226.3 1135.1,235.1 1135.6,240.8 1136.1,244.2 1136.6,246.0 1137.1,247.0 1137.6,247.6 1138.1,247.8 1138.6,248.0 1139.1,248.1 1139.6,248.1 1140.1,248.1 1140.6,248.1 1141.1,248.0 1141.6,247.8 1142.1,247.6 1142.6,247.0 1143.1,246.0 1143.6,244.0 1144.1,240.5 1144.6,234.7 1145.1,225.6 1145.6,212.7 1146.1,196.0 1146.6,176.9 1147.1,157.8 1148.2,133.1 1149.1,152.4 1149.6,170.7 1150.1,190.2 1150.6,207.8 1151.1,222.0 1151.6,232.3 1152.1,239.1 1152.6,243.2 1153.1,245.6 1153.6,246.8 1154.1,247.5 1154.6,247.8 1155.1,248.0 1155.6,248.1 1156.1,248.1 1156.6,248.1 1157.1,248.0 1157.6,247.9 1158.1,247.5 1158.6,246.9 1159.1,245.8 1159.6,243.6 1160.1,239.6 1160.6,233.2 1161.1,223.3 1161.6,209.5 1162.1,192.1 1162.6,172.5 1163.1,153.6 1164.1,132.0 1165.1,154.7 1165.6,173.7 1166.1,193.2 1166.6,210.4 1167.1,224.0 1167.6,233.7 1168.1,239.9 1168.6,243.7 1169.1,245.8 1169.6,247.0 1170.1,247.6 1170.6,247.9 1171.1,248.0 1171.6,248.1 1172.1,248.1 1172.6,248.1 1173.1,248.0 1173.6,247.8 1174.1,247.5 1174.6,246.8 1175.1,245.5 1175.6,243.0 1176.1,238.7 1176.6,231.7 1177.1,221.2 1177.6,206.7 1178.1,188.9 1178.6,169.3 1179.1,151.1 1180.0,132.7 1181.1,158.4 1181.6,177.7 1182.1,196.8 1182.6,213.3 1183.1,226.1 1183.6,235.1 1184.1,240.8 1184.6,244.2 1185.1,246.1 1185.6,247.1 1186.1,247.6 1186.6,247.9 1187.1,248.0 1187.6,248.1 1188.1,248.1 1188.6,248.1 1189.1,248.0 1189.6,247.8 1190.1,247.4 1190.6,246.6 1191.1,245.1 1191.6,242.4 1192.1,237.6 1192.6,230.0 1193.1,218.7 1193.6,203.5 1194.1,185.1 1194.6,165.4 1195.1,147.6 1195.9,132.0 1197.1,161.2 1197.6,180.8 1198.1,199.7 1198.6,215.7 1199.1,227.8 1199.6,236.2 1200.1,241.4 1200.6,244.5 1201.1,246.3 1201.6,247.2 1202.1,247.6 1202.6,247.9 1203.1,248.0 1203.6,248.1 1204.1,248.1 1204.6,248.1 1205.1,248.1 1205.6,248.0 1206.1,247.8 1206.6,247.5 1207.1,246.8 1207.6,245.6 1208.1,243.4 1208.6,239.4 1209.1,232.8 1209.6,222.8 1210.1,208.9 1210.6,191.4 1211.1,171.8 1211.6,153.0 1212.6,132.0 1213.6,155.2 1214.1,174.3 1214.6,193.8 1215.1,210.9 1215.6,224.3 1216.1,233.9 1216.6,240.1 1217.1,243.8 1217.6,245.9 1218.1,247.0 1218.6,247.6 1219.1,247.9 1219.6,248.0 1220.1,248.1 1220.6,248.1 1221.1,248.1 1221.6,248.0 1222.1,247.8 1222.6,247.4 1223.1,246.7 1223.6,245.4 1224.1,242.9 1224.6,238.5 1225.1,231.4 1225.6,220.8 1226.1,206.3 1226.6,188.3 1227.1,168.7 1227.6,150.6 1228.5,132.7 1229.6,159.1 1230.1,178.4 1230.6,197.5 1231.1,213.9 1231.6,226.5 1232.1,235.3 1232.6,241.0 1233.1,244.3 1233.6,246.2 1234.1,247.1 1234.6,247.7 1235.1,247.9 1235.6,248.0 1236.1,248.1 1236.6,248.1 1237.1,248.1 1237.6,248.0 1238.1,247.8 1238.6,247.4 1239.1,246.6 1239.6,245.1 1240.1,242.3 1240.6,237.6 1241.1,230.0 1241.6,218.7 1242.1,203.6 1242.6,185.4 1243.1,166.0 1243.6,148.7 1244.4,133.9 1245.6,163.1 1246.1,182.4 1246.6,201.0 1247.1,216.6 1247.6,228.5 1248.1,236.6 1248.6,241.7 1249.1,244.7 1249.6,246.4 1250.1,247.3 1250.6,247.7 1251.1,247.9 1251.6,248.1 1252.1,248.1 1252.6,248.1 1253.1,248.1 1253.6,247.9 1254.1,247.7 1254.6,247.2 1255.1,246.4 1255.6,244.7 1256.1,241.6 1256.6,236.3 1257.1,228.0 1257.6,215.9 1258.1,199.9 1258.6,181.0 1259.1,161.4 1260.3,132.0 1261.1,147.4 1261.6,165.1 1262.1,184.8 1262.6,203.3 1263.1,218.6 1263.6,229.9 1264.1,237.5 1264.6,242.3 1265.1,245.1 1265.6,246.6 1266.1,247.4 1266.6,247.8 1267.1,248.0 1267.6,248.1 1268.1,248.1 1268.6,248.1 1269.1,248.0 1269.6,247.9 1270.1,247.6 1270.6,247.1 1271.1,246.1 1271.6,244.1 1272.1,240.6 1272.6,234.7 1273.1,225.5 1273.6,212.4 1274.1,195.3 1274.6,175.6 1275.1,155.7 1276.2,128.9 1277.1,147.5 1277.6,166.2 1278.1,186.4 1278.6,204.9 1279.1,219.9 1279.6,230.9 1280.1,238.2 1280.6,242.7 1281.1,245.3 1281.6,246.7 1282.1,247.4 1282.6,247.8 1283.1,248.0 1283.6,248.1 1284.1,248.1 1284.6,248.1 1285.1,248.0 1285.6,247.8 1286.1,247.5 1286.6,246.9 1287.1,245.7 1287.6,243.3 1288.1,239.2 1288.6,232.4 1289.1,221.8 1289.6,206.9 1290.1,187.9 1290.6,166.4 1291.1,145.3 1292.1,119.9 1293.1,144.0 1293.6,164.9 1294.1,186.6 1294.6,205.8 1295.1,220.9 1295.6,231.8 1296.1,238.9 1296.6,243.1 1297.1,245.5 1297.6,246.8 1298.1,247.5 1298.6,247.8 1299.1,248.0 1299.6,248.1 1300.1,248.1 1300.6,248.1 1301.1,248.0 1301.6,247.8 1302.1,247.4 1302.6,246.7 1303.1,245.4 1303.6,242.9 1304.1,238.5 1304.6,231.3 1305.1,220.4 1305.6,205.4 1306.1,186.8 1306.6,166.3 1307.1,147.0 1308.0,127.1 1309.1,152.8 1309.6,172.9 1310.1,193.1 1310.6,210.7 1311.1,224.3 1311.6,234.0 1312.1,240.2 1312.6,243.9 1313.1,245.9 1313.6,247.0 1314.1,247.6 1314.6,247.9 1315.1,248.0 1315.6,248.1 1316.1,248.1 1316.6,248.1 1317.1,248.0 1317.6,247.8 1318.1,247.4 1318.6,246.6 1319.1,245.1 1319.6,242.3 1320.1,237.5 1320.6,229.7 1321.1,218.1 1321.6,202.4 1322.1,183.2 1322.6,162.5 1323.1,143.6 1323.9,126.3 1325.1,155.8 1325.6,176.3 1326.1,196.3 1326.6,213.3 1327.1,226.3 1327.6,235.3 1328.1,241.0 1328.6,244.3 1329.1,246.2 1329.6,247.2 1330.1,247.7 1330.6,247.9 1331.1,248.0 1331.6,248.1 1332.1,248.1 1332.6,248.1 1333.1,247.9 1333.6,247.7 1334.1,247.3 1334.6,246.4 1335.1,244.7 1335.6,241.6 1336.1,236.3 1336.6,227.9 1337.1,215.5" fill="none" stroke="#2aa883" stroke-width="3.7" stroke-linejoin="round" stroke-linecap="round"/>
<path d="M728.0 203.5V258.6H882.0" fill="none" stroke="#000" stroke-width="3.5" stroke-linejoin="miter"/>
<text x="714.0" y="213.5" font-size="32.5" text-anchor="middle" fill="#000" transform="rotate(-90 714.0 213.5)" textLength="81.0" lengthAdjust="spacingAndGlyphs">20 nS</text>
<text x="785.0" y="291.8" font-size="31" text-anchor="start" fill="#000">20 s</text>
<text x="1372.0" y="25.6" font-size="35.5" text-anchor="start" fill="#231815" font-weight="bold">C</text>
<text x="1740.3" y="63.9" font-size="31" text-anchor="middle" fill="#231815" xml:space="preserve">Inner: 20 mM  NaClO<tspan font-size="19" dy="10.5">4</tspan></text>
<text x="1744.1" y="101.5" font-size="31" text-anchor="middle" fill="#231815">Outer: 10 mM KCl</text>
<polyline points="1447.5,229.2 1447.9,228.7 1448.2,227.4 1448.6,225.7 1448.9,223.5 1449.3,220.1 1449.6,215.2 1450.0,208.9 1450.3,197.6 1450.7,181.0 1451.0,163.8 1451.4,143.2 1451.7,129.5 1452.1,123.8 1452.4,120.1 1452.8,118.7 1453.1,117.9 1453.5,117.3 1453.8,116.9 1454.2,116.7 1454.5,116.7 1454.9,116.7 1455.3,116.7 1455.6,116.8 1456.0,116.9 1456.3,117.0 1456.7,117.2 1457.0,117.3 1457.4,117.5 1457.7,117.7 1458.1,117.8 1458.4,118.0 1458.8,118.2 1459.1,118.4 1459.5,118.5 1459.8,118.7 1460.2,118.9 1460.5,119.0 1460.9,119.2 1461.2,119.4 1461.6,119.5 1461.9,119.7 1462.3,120.1 1462.6,120.3 1463.0,120.5 1463.3,120.7 1463.7,120.9 1464.0,121.2 1464.4,121.4 1464.8,121.6 1465.1,121.9 1465.5,122.2 1465.8,122.4 1466.2,122.7 1466.5,123.0 1466.9,123.4 1467.2,123.7 1467.6,124.0 1467.9,124.4 1468.3,124.8 1468.6,125.1 1469.0,125.5 1469.3,125.9 1469.7,126.3 1470.0,126.7 1470.4,127.0 1470.7,127.4 1471.1,127.8 1471.4,128.2 1471.8,128.6 1472.1,129.0 1472.5,129.4 1472.8,129.8 1473.2,130.2 1473.5,130.6 1473.9,131.1 1474.2,131.6 1474.6,132.0 1475.0,132.5 1475.3,133.0 1475.7,133.6 1476.0,134.1 1476.4,134.7 1476.7,135.2 1477.1,135.8 1477.4,136.4 1477.8,137.0 1478.1,137.7 1478.5,138.3 1478.8,139.0 1479.2,139.6 1479.5,140.3 1479.9,141.0 1480.2,141.7 1480.6,142.4 1480.9,143.1 1481.3,143.9 1481.6,144.7 1482.0,145.5 1482.3,146.3 1482.7,147.1 1483.0,148.0 1483.4,148.9 1483.7,149.8 1484.1,150.8 1484.4,151.8 1484.8,152.8 1485.2,153.8 1485.5,154.9 1485.9,156.1 1486.2,157.4 1486.6,158.8 1486.9,160.4 1487.3,162.2 1487.6,164.4 1488.0,166.9 1488.3,169.6 1488.7,172.4 1489.0,175.4 1489.4,178.5 1489.7,181.6 1490.1,184.8 1490.4,188.2 1490.8,191.9 1491.1,195.7 1491.5,199.6 1491.8,203.4 1492.2,207.1 1492.5,210.4 1492.9,213.6 1493.2,216.7 1493.6,219.6 1493.9,222.4 1494.3,225.0 1494.6,227.2 1495.0,229.5 1495.4,231.4 1495.7,232.9 1496.1,233.8 1496.4,234.5 1496.8,234.8 1497.1,234.3 1497.5,233.0 1497.9,231.1 1498.3,228.8 1498.7,225.1 1499.1,219.9 1499.4,213.2 1499.8,201.0 1500.2,183.3 1500.6,164.9 1501.0,142.8 1501.4,128.1 1501.8,122.1 1502.1,118.1 1502.5,116.5 1502.9,115.7 1503.3,115.1 1503.7,114.7 1504.1,114.4 1504.4,114.4 1504.8,114.4 1505.2,114.5 1505.6,114.6 1506.0,114.7 1506.4,114.8 1506.7,114.9 1507.1,115.1 1507.5,115.3 1507.9,115.5 1508.3,115.6 1508.7,115.8 1509.1,116.0 1509.4,116.2 1509.8,116.4 1510.2,116.6 1510.6,116.7 1511.0,116.9 1511.4,117.1 1511.7,117.3 1512.1,117.5 1512.5,117.7 1512.9,118.0 1513.3,118.2 1513.7,118.4 1514.0,118.6 1514.4,118.9 1514.8,119.1 1515.2,119.4 1515.6,119.6 1516.0,119.9 1516.4,120.2 1516.7,120.5 1517.1,120.8 1517.5,121.1 1517.9,121.4 1518.3,121.8 1518.7,122.1 1519.0,122.5 1519.4,122.9 1519.8,123.3 1520.2,123.7 1520.6,124.1 1521.0,124.5 1521.3,124.9 1521.7,125.3 1522.1,125.7 1522.5,126.1 1522.9,126.5 1523.3,126.9 1523.7,127.3 1524.0,127.8 1524.4,128.2 1524.8,128.6 1525.2,129.1 1525.6,129.6 1526.0,130.0 1526.3,130.5 1526.7,131.1 1527.1,131.6 1527.5,132.2 1527.9,132.7 1528.3,133.3 1528.6,133.9 1529.0,134.5 1529.4,135.2 1529.8,135.8 1530.2,136.5 1530.6,137.1 1531.0,137.8 1531.3,138.5 1531.7,139.2 1532.1,140.0 1532.5,140.7 1532.9,141.5 1533.3,142.2 1533.6,143.0 1534.0,143.8 1534.4,144.7 1534.8,145.5 1535.2,146.4 1535.6,147.3 1535.9,148.3 1536.3,149.2 1536.7,150.3 1537.1,151.3 1537.5,152.3 1537.9,153.4 1538.3,154.6 1538.6,155.9 1539.0,157.2 1539.4,158.7 1539.8,160.4 1540.2,162.3 1540.6,164.6 1540.9,167.2 1541.3,170.0 1541.7,173.0 1542.1,176.2 1542.5,179.4 1542.9,182.7 1543.2,186.0 1543.6,189.6 1544.0,193.5 1544.4,197.5 1544.8,201.6 1545.2,205.6 1545.6,209.4 1545.9,213.0 1546.3,216.3 1546.7,219.5 1547.1,222.6 1547.5,225.6 1547.9,228.2 1548.2,230.6 1548.6,233.0 1549.0,235.0 1549.4,236.6 1549.8,237.5 1550.2,238.3 1550.5,238.6 1551.0,238.1 1551.4,236.7 1551.8,234.7 1552.2,232.3 1552.6,228.5 1553.0,223.1 1553.4,216.1 1553.9,203.6 1554.3,185.1 1554.7,166.0 1555.1,143.1 1555.5,127.9 1555.9,121.6 1556.3,117.5 1556.8,115.8 1557.2,115.0 1557.6,114.4 1558.0,113.9 1558.4,113.7 1558.8,113.6 1559.2,113.7 1559.7,113.7 1560.1,113.8 1560.5,113.9 1560.9,114.1 1561.3,114.2 1561.7,114.4 1562.1,114.5 1562.6,114.7 1563.0,114.9 1563.4,115.1 1563.8,115.3 1564.2,115.5 1564.6,115.7 1565.0,115.9 1565.4,116.1 1565.9,116.2 1566.3,116.4 1566.7,116.6 1567.1,116.8 1567.5,117.0 1567.9,117.3 1568.3,117.5 1568.8,117.8 1569.2,118.0 1569.6,118.2 1570.0,118.5 1570.4,118.8 1570.8,119.0 1571.2,119.3 1571.7,119.6 1572.1,119.9 1572.5,120.2 1572.9,120.5 1573.3,120.9 1573.7,121.2 1574.1,121.6 1574.6,122.0 1575.0,122.4 1575.4,122.8 1575.8,123.2 1576.2,123.6 1576.6,124.0 1577.0,124.4 1577.5,124.8 1577.9,125.3 1578.3,125.7 1578.7,126.1 1579.1,126.5 1579.5,126.9 1579.9,127.4 1580.4,127.8 1580.8,128.3 1581.2,128.7 1581.6,129.2 1582.0,129.7 1582.4,130.2 1582.8,130.8 1583.2,131.3 1583.7,131.9 1584.1,132.5 1584.5,133.1 1584.9,133.7 1585.3,134.3 1585.7,135.0 1586.1,135.6 1586.6,136.3 1587.0,137.0 1587.4,137.7 1587.8,138.4 1588.2,139.2 1588.6,139.9 1589.0,140.7 1589.5,141.4 1589.9,142.2 1590.3,143.0 1590.7,143.9 1591.1,144.7 1591.5,145.6 1591.9,146.5 1592.4,147.5 1592.8,148.4 1593.2,149.4 1593.6,150.5 1594.0,151.6 1594.4,152.6 1594.8,153.8 1595.3,155.0 1595.7,156.2 1596.1,157.6 1596.5,159.2 1596.9,160.9 1597.3,162.9 1597.7,165.2 1598.2,167.9 1598.6,170.8 1599.0,173.9 1599.4,177.1 1599.8,180.4 1600.2,183.8 1600.6,187.2 1601.0,190.9 1601.5,194.9 1601.9,199.0 1602.3,203.2 1602.7,207.3 1603.1,211.3 1603.5,214.9 1603.9,218.3 1604.4,221.6 1604.8,224.8 1605.2,227.8 1605.6,230.6 1606.0,233.1 1606.4,235.5 1606.8,237.6 1607.3,239.2 1607.7,240.1 1608.1,240.9 1608.5,241.3 1608.9,240.7 1609.4,239.3 1609.8,237.3 1610.2,234.8 1610.7,230.9 1611.1,225.3 1611.5,218.1 1611.9,205.1 1612.4,186.2 1612.8,166.5 1613.2,142.9 1613.7,127.2 1614.1,120.7 1614.5,116.5 1615.0,114.8 1615.4,113.9 1615.8,113.2 1616.2,112.8 1616.7,112.5 1617.1,112.5 1617.5,112.5 1618.0,112.6 1618.4,112.7 1618.8,112.8 1619.3,112.9 1619.7,113.1 1620.1,113.3 1620.5,113.4 1621.0,113.6 1621.4,113.8 1621.8,114.0 1622.3,114.2 1622.7,114.4 1623.1,114.6 1623.6,114.8 1624.0,115.0 1624.4,115.2 1624.8,115.4 1625.3,115.6 1625.7,115.8 1626.1,116.0 1626.6,116.2 1627.0,116.4 1627.4,116.7 1627.9,116.9 1628.3,117.2 1628.7,117.4 1629.1,117.7 1629.6,117.9 1630.0,118.2 1630.4,118.5 1630.9,118.8 1631.3,119.1 1631.7,119.4 1632.2,119.8 1632.6,120.2 1633.0,120.5 1633.5,120.9 1633.9,121.3 1634.3,121.7 1634.7,122.2 1635.2,122.6 1635.6,123.0 1636.0,123.4 1636.5,123.8 1636.9,124.2 1637.3,124.6 1637.8,125.1 1638.2,125.5 1638.6,125.9 1639.0,126.4 1639.5,126.8 1639.9,127.3 1640.3,127.7 1640.8,128.2 1641.2,128.7 1641.6,129.2 1642.1,129.8 1642.5,130.3 1642.9,130.9 1643.3,131.5 1643.8,132.1 1644.2,132.7 1644.6,133.4 1645.1,134.0 1645.5,134.7 1645.9,135.4 1646.4,136.1 1646.8,136.8 1647.2,137.5 1647.6,138.3 1648.1,139.0 1648.5,139.8 1648.9,140.6 1649.4,141.4 1649.8,142.2 1650.2,143.0 1650.7,143.9 1651.1,144.8 1651.5,145.7 1651.9,146.6 1652.4,147.6 1652.8,148.6 1653.2,149.7 1653.7,150.8 1654.1,151.8 1654.5,153.0 1655.0,154.2 1655.4,155.5 1655.8,156.9 1656.3,158.4 1656.7,160.2 1657.1,162.2 1657.5,164.5 1658.0,167.2 1658.4,170.1 1658.8,173.3 1659.3,176.5 1659.7,179.9 1660.1,183.3 1660.6,186.7 1661.0,190.5 1661.4,194.5 1661.8,198.7 1662.3,202.9 1662.7,207.0 1663.1,211.0 1663.6,214.7 1664.0,218.1 1664.4,221.5 1664.9,224.7 1665.3,227.7 1665.7,230.5 1666.1,233.0 1666.6,235.4 1667.0,237.6 1667.4,239.1 1667.9,240.1 1668.3,240.9 1668.7,241.3 1669.2,240.7 1669.6,239.3 1670.1,237.3 1670.5,234.8 1670.9,230.9 1671.4,225.3 1671.8,218.1 1672.3,205.1 1672.7,186.2 1673.1,166.5 1673.6,142.9 1674.0,127.2 1674.5,120.7 1674.9,116.5 1675.3,114.8 1675.8,113.9 1676.2,113.2 1676.7,112.8 1677.1,112.5 1677.5,112.5 1678.0,112.5 1678.4,112.6 1678.9,112.7 1679.3,112.8 1679.8,112.9 1680.2,113.1 1680.6,113.3 1681.1,113.4 1681.5,113.6 1682.0,113.8 1682.4,114.0 1682.8,114.2 1683.3,114.4 1683.7,114.6 1684.2,114.8 1684.6,115.0 1685.0,115.2 1685.5,115.4 1685.9,115.6 1686.4,115.8 1686.8,116.0 1687.2,116.3 1687.7,116.6 1688.1,116.8 1688.6,117.0 1689.0,117.3 1689.5,117.6 1689.9,117.8 1690.3,118.1 1690.8,118.4 1691.2,118.7 1691.7,119.0 1692.1,119.3 1692.5,119.7 1693.0,120.0 1693.4,120.4 1693.9,120.8 1694.3,121.2 1694.7,121.6 1695.2,122.0 1695.6,122.5 1696.1,122.9 1696.5,123.3 1697.0,123.8 1697.4,124.2 1697.8,124.6 1698.3,125.0 1698.7,125.5 1699.2,125.9 1699.6,126.3 1700.0,126.8 1700.5,127.3 1700.9,127.7 1701.4,128.2 1701.8,128.7 1702.2,129.2 1702.7,129.8 1703.1,130.3 1703.6,130.9 1704.0,131.5 1704.4,132.1 1704.9,132.7 1705.3,133.4 1705.8,134.0 1706.2,134.7 1706.7,135.4 1707.1,136.1 1707.5,136.8 1708.0,137.6 1708.4,138.3 1708.9,139.1 1709.3,139.9 1709.7,140.7 1710.2,141.5 1710.6,142.3 1711.1,143.1 1711.5,144.0 1711.9,144.9 1712.4,145.8 1712.8,146.8 1713.3,147.7 1713.7,148.8 1714.2,149.8 1714.6,150.9 1715.0,152.0 1715.5,153.1 1715.9,154.3 1716.4,155.5 1716.8,156.9 1717.2,158.3 1717.7,159.9 1718.1,161.7 1718.6,163.8 1719.0,166.2 1719.4,169.0 1719.9,172.0 1720.3,175.2 1720.8,178.6 1721.2,182.1 1721.6,185.6 1722.1,189.1 1722.5,193.0 1723.0,197.1 1723.4,201.4 1723.9,205.8 1724.3,210.1 1724.7,214.2 1725.2,218.0 1725.6,221.5 1726.1,225.0 1726.5,228.3 1726.9,231.5 1727.4,234.3 1727.8,236.9 1728.3,239.4 1728.7,241.6 1729.1,243.2 1729.6,244.3 1730.0,245.1 1730.5,245.5 1730.9,244.9 1731.4,243.4 1731.8,241.3 1732.3,238.7 1732.7,234.7 1733.1,228.9 1733.6,221.5 1734.0,208.0 1734.5,188.4 1734.9,168.0 1735.4,143.6 1735.8,127.3 1736.3,120.6 1736.7,116.2 1737.2,114.5 1737.6,113.6 1738.1,112.9 1738.5,112.4 1739.0,112.2 1739.4,112.1 1739.8,112.2 1740.3,112.2 1740.7,112.3 1741.2,112.4 1741.6,112.6 1742.1,112.7 1742.5,112.9 1743.0,113.1 1743.4,113.3 1743.9,113.5 1744.3,113.7 1744.8,113.9 1745.2,114.1 1745.6,114.3 1746.1,114.5 1746.5,114.7 1747.0,114.9 1747.4,115.1 1747.9,115.3 1748.3,115.5 1748.8,115.7 1749.2,115.9 1749.7,116.1 1750.1,116.3 1750.6,116.6 1751.0,116.8 1751.5,117.1 1751.9,117.3 1752.3,117.6 1752.8,117.9 1753.2,118.2 1753.7,118.5 1754.1,118.8 1754.6,119.1 1755.0,119.5 1755.5,119.9 1755.9,120.3 1756.4,120.6 1756.8,121.1 1757.3,121.5 1757.7,121.9 1758.1,122.3 1758.6,122.7 1759.0,123.1 1759.5,123.6 1759.9,124.0 1760.4,124.4 1760.8,124.8 1761.3,125.3 1761.7,125.7 1762.2,126.1 1762.6,126.6 1763.1,127.1 1763.5,127.5 1764.0,128.0 1764.4,128.5 1764.8,129.1 1765.3,129.6 1765.7,130.2 1766.2,130.7 1766.6,131.3 1767.1,132.0 1767.5,132.6 1768.0,133.2 1768.4,133.9 1768.9,134.6 1769.3,135.3 1769.8,136.0 1770.2,136.7 1770.6,137.4 1771.1,138.2 1771.5,138.9 1772.0,139.7 1772.4,140.5 1772.9,141.3 1773.3,142.1 1773.8,143.0 1774.2,143.9 1774.7,144.8 1775.1,145.7 1775.6,146.7 1776.0,147.7 1776.5,148.7 1776.9,149.7 1777.3,150.8 1777.8,151.9 1778.2,153.1 1778.7,154.3 1779.1,155.6 1779.6,157.0 1780.0,158.6 1780.5,160.3 1780.9,162.4 1781.4,164.8 1781.8,167.5 1782.3,170.4 1782.7,173.6 1783.1,176.9 1783.6,180.3 1784.0,183.7 1784.5,187.2 1784.9,191.0 1785.4,195.1 1785.8,199.3 1786.3,203.6 1786.7,207.8 1787.2,211.8 1787.6,215.5 1788.1,219.0 1788.5,222.4 1789.0,225.6 1789.4,228.7 1789.8,231.5 1790.3,234.0 1790.7,236.5 1791.2,238.6 1791.6,240.2 1792.1,241.3 1792.5,242.0 1793.0,242.4 1793.4,241.9 1793.9,240.4 1794.3,238.4 1794.8,235.9 1795.2,231.9 1795.6,226.3 1796.1,219.0 1796.5,205.9 1797.0,186.6 1797.4,166.7 1797.9,142.8 1798.3,127.0 1798.8,120.4 1799.2,116.1 1799.7,114.4 1800.1,113.6 1800.6,112.9 1801.0,112.4 1801.5,112.2 1801.9,112.1 1802.3,112.2 1802.8,112.2 1803.2,112.3 1803.7,112.4 1804.1,112.6 1804.6,112.7 1805.0,112.9 1805.5,113.1 1805.9,113.3 1806.4,113.5 1806.8,113.7 1807.3,113.9 1807.7,114.1 1808.1,114.3 1808.6,114.5 1809.0,114.7 1809.5,114.8 1809.9,115.0 1810.4,115.2 1810.8,115.4 1811.3,115.7 1811.7,116.0 1812.2,116.3 1812.6,116.5 1813.1,116.8 1813.5,117.0 1814.0,117.3 1814.4,117.6 1814.8,117.9 1815.3,118.1 1815.7,118.4 1816.2,118.8 1816.6,119.1 1817.1,119.4 1817.5,119.8 1818.0,120.2 1818.4,120.6 1818.9,121.0 1819.3,121.4 1819.8,121.9 1820.2,122.3 1820.6,122.8 1821.1,123.2 1821.5,123.6 1822.0,124.1 1822.4,124.5 1822.9,124.9 1823.3,125.4 1823.8,125.8 1824.2,126.3 1824.7,126.7 1825.1,127.2 1825.6,127.7 1826.0,128.2 1826.5,128.7 1826.9,129.3 1827.3,129.8 1827.8,130.4 1828.2,131.0 1828.7,131.6 1829.1,132.2 1829.6,132.8 1830.0,133.5 1830.5,134.2 1830.9,134.9 1831.4,135.6 1831.8,136.3 1832.3,137.0 1832.7,137.8 1833.1,138.5 1833.6,139.3 1834.0,140.1 1834.5,140.9 1834.9,141.7 1835.4,142.6 1835.8,143.5 1836.3,144.3 1836.7,145.3 1837.2,146.2 1837.6,147.2 1838.1,148.2 1838.5,149.2 1839.0,150.3 1839.4,151.4 1839.8,152.5 1840.3,153.7 1840.7,154.9 1841.2,156.1 1841.6,157.5 1842.1,159.0 1842.5,160.6 1843.0,162.4 1843.4,164.6 1843.9,167.1 1844.3,169.9 1844.8,173.0 1845.2,176.3 1845.6,179.7 1846.1,183.3 1846.5,186.9 1847.0,190.5 1847.4,194.4 1847.9,198.7 1848.3,203.1 1848.8,207.5 1849.2,211.9 1849.7,216.1 1850.1,220.0 1850.6,223.6 1851.0,227.2 1851.5,230.6 1851.9,233.8 1852.3,236.7 1852.8,239.4 1853.2,241.9 1853.7,244.2 1854.1,245.8 1854.6,246.9 1855.0,247.7 1855.5,248.1 1855.9,247.5 1856.4,246.0 1856.8,243.8 1857.3,241.2 1857.7,237.1 1858.2,231.2 1858.7,223.6 1859.1,209.8 1859.6,189.7 1860.0,168.9 1860.5,143.9 1860.9,127.3 1861.4,120.4 1861.8,116.0 1862.3,114.2 1862.7,113.2 1863.2,112.5 1863.7,112.0 1864.1,111.8 1864.6,111.7 1865.0,111.8 1865.5,111.8 1865.9,111.9 1866.4,112.1 1866.8,112.2 1867.3,112.4 1867.7,112.5 1868.2,112.7 1868.7,112.9 1869.1,113.2 1869.6,113.4 1870.0,113.6 1870.5,113.8 1870.9,114.0 1871.4,114.2 1871.8,114.4 1872.3,114.6 1872.7,114.8 1873.2,115.0 1873.7,115.2 1874.1,115.4 1874.6,115.6 1875.0,115.8 1875.5,116.0 1875.9,116.3 1876.4,116.5 1876.8,116.8 1877.3,117.1 1877.7,117.3 1878.2,117.6 1878.7,117.9 1879.1,118.2 1879.6,118.5 1880.0,118.9 1880.5,119.2 1880.9,119.6 1881.4,120.0 1881.8,120.4 1882.3,120.8 1882.7,121.3 1883.2,121.7 1883.7,122.1 1884.1,122.5 1884.6,123.0 1885.0,123.4 1885.5,123.8 1885.9,124.2 1886.4,124.7 1886.8,125.1 1887.3,125.5 1887.7,126.0 1888.2,126.5 1888.7,126.9 1889.1,127.4 1889.6,127.9 1890.0,128.4 1890.5,129.0 1890.9,129.5 1891.4,130.1 1891.8,130.7 1892.3,131.3 1892.7,131.9 1893.2,132.6 1893.7,133.2 1894.1,133.9 1894.6,134.6 1895.0,135.3 1895.5,136.0 1895.9,136.7 1896.4,137.5 1896.8,138.3 1897.3,139.0 1897.7,139.8 1898.2,140.6 1898.7,141.4 1899.1,142.3 1899.6,143.2 1900.0,144.0 1900.5,145.0 1900.9,145.9 1901.4,146.9 1901.8,147.9 1902.3,148.9 1902.7,150.0 1903.2,151.1 1903.7,152.2 1904.1,153.4 1904.6,154.7 1905.0,156.0 1905.5,157.4 1905.9,159.0 1906.4,160.8 1906.8,162.9 1907.3,165.3 1907.7,168.1 1908.2,171.1 1908.7,174.3 1909.1,177.7 1909.6,181.1 1910.0,184.6 1910.5,188.1 1910.9,192.0 1911.4,196.1 1911.8,200.4 1912.3,204.8 1912.7,209.0 1913.2,213.1 1913.7,216.9 1914.1,220.5 1914.6,223.9 1915.0,227.2 1915.5,230.4 1915.9,233.2 1916.4,235.8 1916.8,238.3 1917.3,240.5 1917.7,242.1 1918.2,243.1 1918.7,243.9 1919.1,244.3 1919.6,243.7 1920.0,242.3 1920.5,240.2 1920.9,237.6 1921.4,233.6 1921.8,227.9 1922.3,220.5 1922.7,207.1 1923.2,187.6 1923.7,167.3 1924.1,143.0 1924.6,126.9 1925.0,120.2 1925.5,115.8 1925.9,114.1 1926.4,113.2 1926.8,112.5 1927.3,112.0 1927.7,111.8 1928.2,111.7 1928.7,111.8 1929.1,111.8 1929.6,111.9 1930.0,112.0 1930.5,112.2 1930.9,112.3 1931.4,112.5 1931.8,112.7 1932.3,112.9 1932.7,113.1 1933.2,113.3 1933.7,113.5 1934.1,113.7 1934.6,113.9 1935.0,114.1 1935.5,114.3 1935.9,114.5 1936.4,114.7 1936.8,114.9 1937.3,115.1 1937.7,115.3 1938.2,115.6 1938.7,115.9 1939.1,116.1 1939.6,116.4 1940.0,116.6 1940.5,116.9 1940.9,117.2 1941.4,117.4 1941.8,117.7 1942.3,118.0 1942.7,118.3 1943.2,118.7 1943.7,119.0 1944.1,119.4 1944.6,119.8 1945.0,120.2 1945.5,120.6 1945.9,121.0 1946.4,121.4 1946.8,121.9 1947.3,122.3 1947.7,122.8 1948.2,123.2 1948.7,123.6 1949.1,124.1 1949.6,124.5 1950.0,124.9 1950.5,125.4 1950.9,125.8 1951.4,126.3 1951.8,126.8 1952.3,127.2 1952.7,127.7 1953.2,128.2 1953.7,128.8 1954.1,129.3 1954.6,129.9 1955.0,130.5 1955.5,131.1 1955.9,131.7 1956.4,132.3 1956.8,133.0 1957.3,133.7 1957.7,134.3 1958.2,135.0 1958.7,135.8 1959.1,136.5 1959.6,137.2 1960.0,138.0 1960.5,138.8 1960.9,139.6 1961.4,140.4 1961.8,141.2 1962.3,142.0 1962.7,142.9 1963.2,143.8 1963.7,144.7 1964.1,145.6 1964.6,146.6 1965.0,147.6 1965.5,148.6 1965.9,149.7 1966.4,150.8 1966.8,151.9 1967.3,153.1 1967.7,154.2 1968.2,155.5 1968.7,156.9 1969.1,158.4 1969.6,160.0 1970.0,161.8 1970.5,163.9 1970.9,166.4 1971.4,169.2 1971.8,172.3 1972.3,175.6 1972.7,179.0 1973.2,182.5 1973.7,186.1 1974.1,189.7 1974.6,193.6 1975.0,197.8 1975.5,202.2 1975.9,206.6 1976.4,211.0 1976.8,215.2 1977.3,219.0 1977.7,222.6 1978.2,226.2 1978.7,229.5 1979.1,232.7 1979.6,235.7 1980.0,238.3 1980.5,240.8 1980.9,243.1 1981.4,244.7 1981.8,245.8 1982.3,246.6 1982.7,247.0 1983.3,246.4 1983.8,244.9 1984.4,242.7 1985.0,240.1 1985.5,236.0 1986.1,230.2 1986.6,222.6 1987.2,209.0 1987.7,189.1 1988.3,168.4 1988.8,143.6 1989.4,127.2 1989.9,120.3 1990.5,115.9 1991.0,114.1 1991.6,113.2 1992.1,112.5 1992.7,112.0 1993.2,111.8 1993.8,111.7 1994.3,111.8 1994.9,111.8 1995.4,111.9 1996.0,112.1 1996.5,112.2 1997.1,112.4 1997.6,112.5 1998.2,112.7 1998.7,112.9 1999.3,113.1 1999.9,113.4 2000.4,113.6 2001.0,113.8 2001.5,114.0 2002.1,114.2 2002.6,114.4 2003.2,114.6 2003.7,114.8 2004.3,115.0 2004.8,115.2 2005.4,115.4 2005.9,115.6 2006.5,115.9 2007.0,116.1 2007.6,116.3 2008.1,116.6 2008.7,116.9 2009.2,117.1 2009.8,117.4 2010.3,117.7 2010.9,118.0 2011.4,118.3 2012.0,118.6 2012.5,119.0 2013.1,119.3 2013.7,119.7 2014.2,120.1 2014.8,120.5 2015.3,121.0 2015.9,121.4 2016.4,121.8 2017.0,122.3 2017.5,122.7 2018.1,123.1 2018.6,123.6 2019.2,124.0 2019.7,124.4 2020.3,124.9 2020.8,125.3 2021.4,125.7 2021.9,126.2 2022.5,126.7 2023.0,127.2 2023.6,127.6 2024.1,128.2 2024.7,128.7 2025.2,129.2 2025.8,129.8 2026.3,130.4" fill="none" stroke="#df3e69" stroke-width="4.0" stroke-linejoin="round" stroke-linecap="round"/>
<path d="M1423.6 187.5V258.6H1540.5" fill="none" stroke="#000" stroke-width="3.5" stroke-linejoin="miter"/>
<text x="1407.0" y="202.0" font-size="32.5" text-anchor="middle" fill="#000" transform="rotate(-90 1407.0 202.0)" textLength="81.0" lengthAdjust="spacingAndGlyphs">50 nS</text>
<text x="1440.6" y="291.8" font-size="30.5" text-anchor="start" fill="#000">100 s</text>
<text x="0.0" y="351.0" font-size="35" text-anchor="start" fill="#231815" font-weight="bold">D</text>
<polyline points="69.3,455.3 69.9,444.6 70.5,432.2 71.1,418.5 71.7,404.1 72.3,393.6 72.9,390.9 73.5,398.6 74.1,406.7 74.7,415.0 75.3,422.3 75.9,429.2 76.5,435.5 77.1,441.2 77.7,446.4 78.3,451.1 78.9,455.2 79.5,458.9 80.1,462.3 80.7,465.2 81.3,467.6 81.9,469.7 82.5,471.5 83.1,473.0 83.7,474.2 84.3,475.2 84.9,476.0 85.5,476.4 86.1,476.5 86.7,475.8 87.3,474.4 87.9,471.1 88.5,466.0 89.1,458.8 89.7,448.8 90.3,437.6 90.9,424.3 91.5,410.8 92.1,398.0 92.7,391.0 93.3,395.6 93.9,403.7 94.5,412.3 95.1,420.0 95.7,427.2 96.3,433.8 96.9,439.7 97.5,445.1 98.1,450.0 98.7,454.4 99.3,458.2 99.9,461.7 100.5,464.8 101.1,467.3 101.7,469.5 102.3,471.3 102.9,472.9 103.5,474.2 104.1,475.2 104.7,476.0 105.3,476.4 105.9,476.6 106.5,475.9 107.1,474.5 107.7,471.1 108.3,465.9 108.9,458.5 109.5,448.2 110.1,436.6 110.7,423.1 111.3,409.2 111.9,397.1 112.5,391.2 113.1,397.3 113.7,405.2 114.3,413.6 114.9,421.0 115.5,428.0 116.1,434.4 116.7,440.2 117.3,445.4 117.9,450.3 118.5,454.5 119.1,458.2 119.7,461.7 120.3,464.7 120.9,467.3 121.5,469.4 122.1,471.2 122.7,472.8 123.3,474.1 123.9,475.1 124.5,476.0 125.1,476.5 125.7,476.7 126.3,476.2 126.9,475.1 127.5,472.5 128.1,467.8 128.7,461.6 129.3,452.3 129.9,441.6 130.5,428.9 131.1,415.8 131.7,402.1 132.3,393.5 132.9,394.3 133.5,402.2 134.1,410.4 134.7,418.2 135.3,425.3 135.9,432.0 136.5,438.0 137.1,443.4 137.7,448.4 138.3,452.9 138.9,456.8 139.5,460.4 140.1,463.6 140.7,466.3 141.3,468.6 141.9,470.5 142.5,472.2 143.1,473.7 143.7,474.8 144.3,475.7 144.9,476.4 145.5,476.7 146.1,476.6 146.7,475.8 147.3,474.1 147.9,470.3 148.5,465.0 149.1,457.1 149.7,447.0 150.3,435.4 150.9,422.3 151.5,408.8 152.1,397.7 152.7,392.8 153.3,399.3 153.9,406.8 154.5,415.0 155.1,422.1 155.7,428.8 156.3,435.0 156.9,440.6 157.5,445.8 158.1,450.4 158.7,454.6 159.3,458.2 159.9,461.6 160.5,464.6 161.1,467.2 161.7,469.3 162.3,471.1 162.9,472.7 163.5,474.0 164.1,475.1 164.7,475.9 165.3,476.5 165.9,476.8 166.5,476.7 167.1,475.7 167.7,474.0 168.3,470.2 168.9,465.0 169.5,457.2 170.1,447.3 170.7,436.0 171.3,423.3 171.9,410.1 172.5,399.0 173.1,393.5 173.7,399.1 174.3,406.5 174.9,414.4 175.5,421.5 176.1,428.1 176.7,434.3 177.3,439.8 177.9,444.9 178.5,449.6 179.1,453.8 179.7,457.4 180.3,460.8 180.9,463.9 181.5,466.5 182.1,468.7 182.7,470.6 183.3,472.2 183.9,473.6 184.5,474.7 185.1,475.7 185.7,476.4 186.3,476.8 186.9,476.9 187.5,476.4 188.1,475.3 188.7,472.7 189.3,468.3 189.9,462.4 190.5,453.8 191.1,443.9 191.7,432.1 192.3,419.8 192.9,406.7 193.5,397.4 194.1,394.9 194.7,401.7 195.3,409.0 195.9,416.6 196.5,423.4 197.1,429.7 197.7,435.7 198.3,441.0 198.9,445.9 199.5,450.4 200.1,454.4 200.7,458.0 201.3,461.2 201.9,464.2 202.5,466.7 203.1,468.8 203.7,470.7 204.3,472.3 204.9,473.7 205.5,474.8 206.1,475.7 206.7,476.4 207.3,476.8 207.9,477.0 208.5,476.6 209.1,475.6 209.7,473.5 210.3,469.4 210.9,464.2 211.5,456.4 212.1,446.9 212.7,436.0 213.3,423.9 213.9,411.4 214.5,400.7 215.1,395.0 215.7,399.6 216.3,406.7 216.9,414.2 217.5,421.1 218.1,427.5 218.7,433.5 219.3,438.9 219.9,443.9 220.5,448.5 221.1,452.7 221.7,456.3 222.3,459.6 222.9,462.7 223.5,465.4 224.1,467.8 224.7,469.7 225.3,471.4 225.9,472.9 226.5,474.1 227.1,475.1 227.7,476.0 228.3,476.6 228.9,477.0 229.5,477.1 230.1,476.5 230.7,475.4 231.3,473.0 231.9,468.9 232.5,463.5 233.1,455.5 233.7,446.2 234.3,435.4 234.9,423.6 235.5,411.4 236.1,401.2 236.7,395.8 237.3,400.5 237.9,407.5 238.5,414.9 239.1,421.8 239.7,428.1 240.3,434.0 240.9,439.4 241.5,444.3 242.1,448.9 242.7,453.0 243.3,456.6 243.9,459.9 244.5,463.0 245.1,465.7 245.7,468.0 246.3,469.9 246.9,471.6 247.5,473.0 248.1,474.3 248.7,475.3 249.3,476.1 249.9,476.7 250.5,477.1 251.1,477.2 251.7,476.6 252.3,475.5 252.9,473.1 253.5,469.0 254.1,463.6 254.7,455.7 255.3,446.5 255.9,435.8 256.5,424.2 257.1,412.1 257.7,402.1 258.3,396.9 258.9,401.5 259.5,408.3 260.1,415.6 260.7,422.2 261.3,428.4 261.9,434.2 262.5,439.5 263.1,444.3 263.7,448.7 264.3,452.8 264.9,456.4 265.5,459.7 266.1,462.7 266.7,465.4 267.3,467.7 267.9,469.6 268.5,471.3 269.1,472.8 269.7,474.0 270.3,475.1 270.9,475.9 271.5,476.6 272.1,477.0 272.7,477.3 273.3,477.0 273.9,476.1 274.5,474.6 275.1,471.2 275.7,466.7 276.3,460.3 276.9,451.8 277.5,442.4 278.1,431.3 278.7,420.1 279.3,408.3 279.9,400.4 280.5,398.8 281.1,405.3 281.7,412.0 282.3,419.1 282.9,425.4 283.5,431.3 284.1,436.8 284.7,441.9 285.3,446.5 285.9,450.8 286.5,454.6 287.1,458.0 287.7,461.1 288.3,464.0 288.9,466.5 289.5,468.6 290.1,470.4 290.7,472.0 291.3,473.4 291.9,474.6 292.5,475.5 293.1,476.3 293.7,476.9 294.3,477.2 294.9,477.3 295.5,476.8 296.1,475.8 296.7,473.6 297.3,469.7 297.9,464.8 298.5,457.5 299.1,448.7 299.7,438.7 300.3,427.5 300.9,416.1 301.5,405.4 302.1,399.2 302.7,401.6 303.3,408.1 303.9,414.8 304.5,421.4 305.1,427.3 305.7,432.9 306.3,438.2 306.9,442.9 307.5,447.3 308.1,451.4 308.7,455.0 309.3,458.3 309.9,461.3 310.5,464.0 311.1,466.5 311.7,468.5 312.3,470.3 312.9,471.9 313.5,473.2 314.1,474.4 314.7,475.4 315.3,476.2 315.9,476.8 316.5,477.2 317.1,477.4 317.7,477.2 318.3,476.5 318.9,475.1 319.5,472.3 320.1,468.2 320.7,462.7 321.3,455.1 321.9,446.6 322.5,436.6 323.1,426.0 323.7,415.0 324.3,405.7 324.9,400.4 325.5,403.8 326.1,410.1 326.7,416.8 327.3,423.2 327.9,428.9 328.5,434.4 329.1,439.5 329.7,444.1 330.3,448.4 330.9,452.3 331.5,455.9 332.1,459.0 332.7,461.9 333.3,464.6 333.9,467.0 334.5,469.0 335.1,470.7 335.7,472.2 336.3,473.5 336.9,474.7 337.5,475.6 338.1,476.4 338.7,477.0 339.3,477.3 339.9,477.5 340.5,477.3 341.1,476.4 341.7,475.0 342.3,472.0 342.9,467.8 343.5,462.2 344.1,454.4 344.7,445.9 345.3,435.8 345.9,425.3 346.5,414.3 347.1,405.6 347.7,401.1 348.3,405.1 348.9,411.2 349.5,417.6 350.1,423.8 350.7,429.3 351.3,434.6 351.9,439.5 352.5,444.0 353.1,448.1 353.7,451.9 354.3,455.4 354.9,458.5 355.5,461.4 356.1,464.0 356.7,466.4 357.3,468.4 357.9,470.2 358.5,471.7 359.1,473.1 359.7,474.2 360.3,475.2 360.9,476.0 361.5,476.7 362.1,477.2 362.7,477.5 363.3,477.6 363.9,477.2 364.5,476.3 365.1,474.7 365.7,471.6 366.3,467.6 366.9,461.9 367.5,454.5 368.1,446.3 368.7,436.7 369.3,426.8 369.9,416.3 370.5,407.7 371.1,402.7 371.7,405.7 372.3,411.7 372.9,417.9 373.5,424.1 374.1,429.5 374.7,434.7 375.3,439.6 375.9,444.1 376.5,448.2 377.1,452.0 377.7,455.5 378.3,458.6 378.9,461.4 379.5,464.0 380.1,466.4 380.7,468.4 381.3,470.1 381.9,471.7 382.5,473.0 383.1,474.2 383.7,475.2 384.3,476.0 384.9,476.7 385.5,477.3 386.1,477.6 386.7,477.7 387.3,477.4 387.9,476.6 388.5,475.1 389.1,472.3 389.7,468.4 390.3,463.2 390.9,456.1 391.5,448.2 392.1,439.0 392.7,429.2 393.3,419.0 393.9,410.0 394.5,404.6 395.1,406.3 395.7,412.1 396.3,418.0 396.9,424.0 397.5,429.4 398.1,434.5 398.7,439.3 399.3,443.7 399.9,447.7 400.5,451.5 401.1,455.0 401.7,458.1 402.3,460.8 402.9,463.4 403.5,465.8 404.1,467.9 404.7,469.7 405.3,471.3 405.9,472.7 406.5,473.9 407.1,474.9 407.7,475.8 408.3,476.5 408.9,477.1 409.5,477.5 410.1,477.7 410.7,477.7 411.3,477.2 411.9,476.3 412.5,474.3 413.1,471.1 413.7,467.1 414.3,461.3 414.9,454.1 415.5,446.2 416.1,437.0 416.7,427.6 417.3,417.6 417.9,409.9 418.5,405.6 419.1,409.0 419.7,414.7 420.3,420.6 420.9,426.4 421.5,431.6 422.1,436.5 422.7,441.1 423.3,445.4 423.9,449.3 424.5,452.9 425.1,456.2 425.7,459.2 426.3,461.9 426.9,464.4 427.5,466.6 428.1,468.6 428.7,470.3 429.3,471.8 429.9,473.1 430.5,474.3 431.1,475.3 431.7,476.1 432.3,476.8 432.9,477.3 433.5,477.7 434.1,477.9 434.7,477.7 435.3,477.1 435.9,476.1 436.5,473.9 437.1,470.5 437.7,466.3 438.3,460.2 438.9,453.0 439.5,445.0 440.1,435.8 440.7,426.5 441.3,416.8 441.9,410.1 442.5,407.2 443.1,411.5 443.7,416.7 444.3,422.3 444.9,427.7 445.5,432.5 446.1,437.1 446.7,441.5 447.3,445.5 447.9,449.2 448.5,452.6 449.1,455.8 449.7,458.7 450.3,461.3 450.9,463.7 451.5,465.9 452.1,467.9 452.7,469.7 453.3,471.1 453.9,472.5 454.5,473.7 455.1,474.7 455.7,475.6 456.3,476.3 456.9,476.9 457.5,477.4 458.1,477.7 458.7,477.9 459.3,477.8 459.9,477.3 460.5,476.4 461.1,474.5 461.7,471.6 462.3,467.9 462.9,462.7 463.5,456.2 464.1,449.0 464.7,440.7 465.3,432.0 465.9,423.0 466.5,414.6 467.1,409.4 467.7,409.3 468.3,414.4 468.9,419.5 469.5,425.1 470.1,430.2 470.7,434.9 471.3,439.4 471.9,443.5 472.5,447.4 473.1,450.9 473.7,454.2 474.3,457.3 474.9,460.0 475.5,462.5 476.1,464.8 476.7,466.9 477.3,468.8 477.9,470.4 478.5,471.8 479.1,473.1 479.7,474.2 480.3,475.2 480.9,476.0 481.5,476.6 482.1,477.2 482.7,477.7 483.3,477.9 483.9,478.0 484.5,477.8 485.1,477.1 485.7,476.1 486.3,473.8 486.9,470.7 487.5,466.8 488.1,461.1 488.7,454.5 489.3,447.3 489.9,438.9 490.5,430.5 491.1,421.5 491.7,414.5 492.3,410.3 492.9,412.5 493.5,417.6 494.1,422.7 494.7,428.0 495.3,432.7 495.9,437.2 496.5,441.4 497.1,445.3 497.7,448.9 498.3,452.3 498.9,455.4 499.5,458.3 500.1,460.9 500.7,463.2 501.3,465.4 501.9,467.5 502.5,469.3 503.1,470.8 503.7,472.1 504.3,473.3 504.9,474.4 505.5,475.3 506.1,476.1 506.7,476.7 507.3,477.3 507.9,477.7 508.5,478.0 509.1,478.1 509.7,477.9 510.3,477.3 510.9,476.4 511.5,474.4 512.1,471.4 512.7,467.9 513.3,462.7 513.9,456.4 514.5,449.7 515.1,441.8 515.7,433.6 516.3,425.1 516.9,417.4 517.5,412.6 518.1,412.7 518.7,417.6 519.3,422.4 519.9,427.6 520.5,432.4 521.1,436.8 521.7,441.0 522.3,445.0 522.9,448.6 523.5,452.0 524.1,455.1 524.7,458.0 525.3,460.6 525.9,463.0 526.5,465.2 527.1,467.2 527.7,469.0 528.3,470.6 528.9,471.9 529.5,473.2 530.1,474.3 530.7,475.2 531.3,476.0 531.9,476.7 532.5,477.3 533.1,477.7 533.7,478.0 534.3,478.2 534.9,478.1 535.5,477.6 536.1,476.8 536.7,475.2 537.3,472.6 537.9,469.3 538.5,464.8 539.1,458.9 539.7,452.4 540.3,445.0 540.9,437.0 541.5,428.9 542.1,420.7 542.7,415.3 543.3,413.4 543.9,417.3 544.5,421.9 545.1,426.8 545.7,431.6 546.3,435.9 546.9,440.0 547.5,443.9 548.1,447.5 548.7,450.8 549.3,454.0 549.9,456.9 550.5,459.5 551.1,461.9 551.7,464.1 552.3,466.1 552.9,468.0 553.5,469.7 554.1,471.1 554.7,472.4 555.3,473.5 555.9,474.5 556.5,475.4 557.1,476.2 557.7,476.8 558.3,477.4 558.9,477.8 559.5,478.1 560.1,478.3 560.7,478.2 561.3,477.8 561.9,477.1 562.5,475.9 563.1,473.6 563.7,470.7 564.3,466.9 564.9,461.7 565.5,455.7 566.1,449.2 566.7,441.8 567.3,434.3 567.9,426.4 568.5,419.9 569.1,415.9 569.7,416.9 570.3,421.4 570.9,425.7 571.5,430.5 572.1,434.8 572.7,438.9 573.3,442.7 573.9,446.3 574.5,449.7 575.1,452.7 575.7,455.7 576.3,458.4 576.9,460.8 577.5,463.0 578.1,465.1 578.7,467.0 579.3,468.8 579.9,470.3 580.5,471.7 581.1,472.8 581.7,473.9 582.3,474.9 582.9,475.7 583.5,476.4 584.1,477.0 584.7,477.5 585.3,477.9 585.9,478.2 586.5,478.3 587.1,478.3 587.7,477.9 588.3,477.3 588.9,476.1 589.5,473.9 590.1,471.1 590.7,467.6 591.3,462.7 591.9,457.1 592.5,450.9 593.1,443.9 593.7,436.7 594.3,429.2 594.9,422.5 595.5,418.3 596.1,418.1 596.7,422.2 597.3,426.3 597.9,430.9 598.5,435.2 599.1,439.0 599.7,442.8 600.3,446.3 600.9,449.6 601.5,452.6 602.1,455.5 602.7,458.1 603.3,460.6 603.9,462.8 604.5,464.8 605.1,466.7 605.7,468.4 606.3,470.0 606.9,471.4 607.5,472.6 608.1,473.6 608.7,474.6 609.3,475.5 609.9,476.2 610.5,476.8 611.1,477.3 611.7,477.8 612.3,478.1 612.9,478.3 613.5,478.5 614.1,478.3 614.7,477.8 615.3,477.1 615.9,475.6 616.5,473.3 617.1,470.5 617.7,466.7 618.3,461.8 618.9,456.3 619.5,450.2 620.1,443.3 620.7,436.5 621.3,429.2 621.9,423.4 622.5,419.6 623.1,420.4 623.7,424.5 624.3,428.4 624.9,432.7 625.5,436.7 626.1,440.4 626.7,443.9 627.3,447.2 627.9,450.4 628.5,453.2 629.1,455.9 629.7,458.5 630.3,460.8 630.9,462.9 631.5,464.8 632.1,466.7 632.7,468.3 633.3,469.9 633.9,471.3 634.5,472.4 635.1,473.5 635.7,474.4 636.3,475.3 636.9,476.0 637.5,476.7 638.1,477.2 638.7,477.7 639.3,478.1 639.9,478.3 640.5,478.5 641.1,478.5 641.7,478.3 642.3,477.7 642.9,477.0 643.5,475.3 644.1,473.0 644.7,470.3 645.3,466.5 645.9,461.7 646.5,456.5 647.1,450.7 647.7,444.2 648.3,437.8" fill="none" stroke="#8d1a42" stroke-width="3.9" stroke-linejoin="round" stroke-linecap="round"/>
<text x="682.0" y="390.8" font-size="31" text-anchor="end" fill="#231815">1.0 M</text>
<path d="M50.4 449.5V495.4H167.8" fill="none" stroke="#000" stroke-width="3.5" stroke-linejoin="miter"/>
<text x="32.7" y="456.0" font-size="32.5" text-anchor="middle" fill="#000" transform="rotate(-90 32.7 456.0)" textLength="98.3" lengthAdjust="spacingAndGlyphs">200 nS</text>
<text x="81.0" y="528.0" font-size="31" text-anchor="start" fill="#000">2 s</text>
<polyline points="69.3,610.9 69.9,611.6 70.5,612.1 71.1,612.5 71.7,612.8 72.3,612.8 72.9,612.5 73.5,612.1 74.1,611.5 74.7,610.3 75.3,608.4 75.9,606.0 76.5,603.3 77.1,599.8 77.7,595.5 78.3,591.1 78.9,586.8 79.5,582.3 80.1,578.1 80.7,574.9 81.3,572.3 81.9,570.7 82.5,570.0 83.1,570.7 83.7,572.3 84.3,574.3 84.9,577.1 85.5,580.0 86.1,582.8 86.7,585.8 87.3,588.9 87.9,591.8 88.5,594.4 89.1,596.8 89.7,599.0 90.3,601.2 90.9,603.2 91.5,605.0 92.1,606.6 92.7,608.0 93.3,609.2 93.9,610.3 94.5,611.2 95.1,611.8 95.7,612.2 96.3,612.6 96.9,612.8 97.5,612.7 98.1,612.4 98.7,611.9 99.3,611.2 99.9,609.7 100.5,607.6 101.1,605.1 101.7,602.3 102.3,598.4 102.9,594.0 103.5,589.7 104.1,585.3 104.7,580.9 105.3,576.9 105.9,574.0 106.5,571.6 107.1,570.4 107.7,570.1 108.3,571.2 108.9,573.0 109.5,575.5 110.1,578.5 110.7,581.4 111.3,584.4 111.9,587.5 112.5,590.6 113.1,593.5 113.7,596.0 114.3,598.3 114.9,600.6 115.5,602.7 116.1,604.6 116.7,606.3 117.3,607.8 117.9,609.0 118.5,610.2 119.1,611.1 119.7,611.8 120.3,612.2 120.9,612.6 121.5,612.8 122.1,612.7 122.7,612.3 123.3,611.8 123.9,611.0 124.5,609.3 125.1,607.0 125.7,604.4 126.3,601.1 126.9,596.9 127.5,592.3 128.1,588.0 128.7,583.4 129.3,578.9 129.9,575.4 130.5,572.6 131.1,570.8 131.7,570.0 132.3,570.6 132.9,572.2 133.5,574.2 134.1,577.1 134.7,580.0 135.3,582.9 135.9,585.9 136.5,589.0 137.1,592.0 137.7,594.6 138.3,597.0 138.9,599.3 139.5,601.4 140.1,603.5 140.7,605.3 141.3,606.9 141.9,608.2 142.5,609.4 143.1,610.5 143.7,611.3 144.3,611.9 144.9,612.3 145.5,612.7 146.1,612.8 146.7,612.6 147.3,612.2 147.9,611.7 148.5,610.8 149.1,609.0 149.7,606.7 150.3,604.1 150.9,600.7 151.5,596.5 152.1,592.0 152.7,587.7 153.3,583.2 153.9,578.8 154.5,575.3 155.1,572.6 155.7,570.8 156.3,570.0 156.9,570.5 157.5,572.1 158.1,574.1 158.7,576.9 159.3,579.9 159.9,582.8 160.5,585.8 161.1,588.9 161.7,591.9 162.3,594.6 162.9,596.9 163.5,599.2 164.1,601.4 164.7,603.4 165.3,605.2 165.9,606.8 166.5,608.2 167.1,609.4 167.7,610.4 168.3,611.3 168.9,611.9 169.5,612.3 170.1,612.7 170.7,612.8 171.3,612.7 171.9,612.3 172.5,611.7 173.1,610.8 173.7,609.1 174.3,606.8 174.9,604.2 175.5,600.9 176.1,596.7 176.7,592.2 177.3,587.9 177.9,583.3 178.5,578.9 179.1,575.4 179.7,572.7 180.3,570.9 180.9,570.0 181.5,570.5 182.1,572.0 182.7,574.0 183.3,576.7 183.9,579.6 184.5,582.4 185.1,585.4 185.7,588.4 186.3,591.4 186.9,594.1 187.5,596.5 188.1,598.7 188.7,600.9 189.3,602.9 189.9,604.8 190.5,606.4 191.1,607.8 191.7,609.0 192.3,610.1 192.9,611.0 193.5,611.7 194.1,612.2 194.7,612.6 195.3,612.8 195.9,612.8 196.5,612.5 197.1,612.0 197.7,611.3 198.3,610.0 198.9,608.0 199.5,605.5 200.1,602.7 200.7,599.0 201.3,594.6 201.9,590.2 202.5,586.0 203.1,581.5 203.7,577.4 204.3,574.3 204.9,571.9 205.5,570.5 206.1,570.0 206.7,570.9 207.3,572.6 207.9,574.8 208.5,577.7 209.1,580.5 209.7,583.4 210.3,586.4 210.9,589.4 211.5,592.3 212.1,594.9 212.7,597.2 213.3,599.5 213.9,601.6 214.5,603.6 215.1,605.3 215.7,606.9 216.3,608.2 216.9,609.4 217.5,610.5 218.1,611.3 218.7,611.9 219.3,612.3 219.9,612.7 220.5,612.8 221.1,612.7 221.7,612.3 222.3,611.8 222.9,611.0 223.5,609.4 224.1,607.2 224.7,604.6 225.3,601.6 225.9,597.6 226.5,593.1 227.1,588.9 227.7,584.5 228.3,580.1 228.9,576.3 229.5,573.4 230.1,571.3 230.7,570.2 231.3,570.2 231.9,571.5 232.5,573.2 233.1,575.7 233.7,578.6 234.3,581.5 234.9,584.4 235.5,587.4 236.1,590.4 236.7,593.2 237.3,595.7 237.9,598.0 238.5,600.2 239.1,602.3 239.7,604.2 240.3,605.9 240.9,607.4 241.5,608.6 242.1,609.8 242.7,610.8 243.3,611.5 243.9,612.0 244.5,612.4 245.1,612.7 245.7,612.8 246.3,612.6 246.9,612.1 247.5,611.6 248.1,610.5 248.7,608.7 249.3,606.4 249.9,603.8 250.5,600.3 251.1,596.1 251.7,591.7 252.3,587.5 252.9,583.0 253.5,578.7 254.1,575.3 254.7,572.6 255.3,570.8 255.9,570.0 256.5,570.5 257.1,572.0 257.7,574.0 258.3,576.7 258.9,579.6 259.5,582.4 260.1,585.4 260.7,588.4 261.3,591.4 261.9,594.1 262.5,596.5 263.1,598.7 263.7,600.9 264.3,602.9 264.9,604.8 265.5,606.4 266.1,607.8 266.7,609.0 267.3,610.1 267.9,611.0 268.5,611.7 269.1,612.2 269.7,612.6 270.3,612.8 270.9,612.8 271.5,612.5 272.1,612.0 272.7,611.3 273.3,610.0 273.9,608.0 274.5,605.5 275.1,602.7 275.7,599.0 276.3,594.6 276.9,590.2 277.5,586.0 278.1,581.5 278.7,577.4 279.3,574.3 279.9,571.9 280.5,570.5 281.1,570.0 281.7,570.9 282.3,572.6 282.9,574.8 283.5,577.7 284.1,580.5 284.7,583.4 285.3,586.4 285.9,589.4 286.5,592.3 287.1,594.9 287.7,597.2 288.3,599.5 288.9,601.6 289.5,603.6 290.1,605.3 290.7,606.9 291.3,608.2 291.9,609.4 292.5,610.5 293.1,611.3 293.7,611.9 294.3,612.3 294.9,612.7 295.5,612.8 296.1,612.7 296.7,612.3 297.3,611.8 297.9,611.0 298.5,609.4 299.1,607.2 299.7,604.6 300.3,601.6 300.9,597.6 301.5,593.1 302.1,588.9 302.7,584.5 303.3,580.1 303.9,576.3 304.5,573.4 305.1,571.3 305.7,570.2 306.3,570.2 306.9,571.4 307.5,573.1 308.1,575.6 308.7,578.4 309.3,581.2 309.9,584.1 310.5,587.1 311.1,590.0 311.7,592.8 312.3,595.3 312.9,597.6 313.5,599.8 314.1,601.9 314.7,603.8 315.3,605.5 315.9,607.0 316.5,608.3 317.1,609.5 317.7,610.5 318.3,611.3 318.9,611.9 319.5,612.3 320.1,612.6 320.7,612.8 321.3,612.7 321.9,612.3 322.5,611.8 323.1,611.1 323.7,609.6 324.3,607.5 324.9,605.0 325.5,602.1 326.1,598.3 326.7,593.9 327.3,589.7 327.9,585.4 328.5,581.0 329.1,577.1 329.7,574.1 330.3,571.7 330.9,570.5 331.5,570.0 332.1,571.0 332.7,572.6 333.3,574.8 333.9,577.6 334.5,580.4 335.1,583.2 335.7,586.2 336.3,589.2 336.9,592.0 337.5,594.6 338.1,596.9 338.7,599.1 339.3,601.3 339.9,603.2 340.5,605.0 341.1,606.6 341.7,607.9 342.3,609.1 342.9,610.2 343.5,611.1 344.1,611.7 344.7,612.2 345.3,612.6 345.9,612.8 346.5,612.8 347.1,612.5 347.7,612.0 348.3,611.4 348.9,610.1 349.5,608.1 350.1,605.8 350.7,603.1 351.3,599.5 351.9,595.2 352.5,590.9 353.1,586.7 353.7,582.3 354.3,578.2 354.9,575.0 355.5,572.4 356.1,570.8 356.7,570.0 357.3,570.6 357.9,572.1 358.5,574.0 359.1,576.7 359.7,579.6 360.3,582.4 360.9,585.3 361.5,588.3 362.1,591.2 362.7,593.9 363.3,596.3 363.9,598.5 364.5,600.6 365.1,602.7 365.7,604.5 366.3,606.2 366.9,607.6 367.5,608.8 368.1,609.9 368.7,610.9 369.3,611.6 369.9,612.1 370.5,612.5 371.1,612.7 371.7,612.8 372.3,612.6 372.9,612.1 373.5,611.6 374.1,610.6 374.7,608.8 375.3,606.5 375.9,604.0 376.5,600.6 377.1,596.5 377.7,592.2 378.3,588.0 378.9,583.6 379.5,579.3 380.1,575.8 380.7,573.1 381.3,571.1 381.9,570.2 382.5,570.2 383.1,571.6 383.7,573.4 384.3,575.9 384.9,578.8 385.5,581.5 386.1,584.4 386.7,587.4 387.3,590.3 387.9,593.1 388.5,595.6 389.1,597.8 389.7,600.0 390.3,602.1 390.9,604.0 391.5,605.7 392.1,607.2 392.7,608.4 393.3,609.6 393.9,610.6 394.5,611.4 395.1,611.9 395.7,612.4 396.3,612.7 396.9,612.8 397.5,612.7 398.1,612.3 398.7,611.8 399.3,611.0 399.9,609.4 400.5,607.2 401.1,604.7 401.7,601.7 402.3,597.8 402.9,593.5 403.5,589.2 404.1,585.0 404.7,580.6 405.3,576.7 405.9,573.8 406.5,571.5 407.1,570.4 407.7,570.1 408.3,571.1 408.9,572.8 409.5,575.0 410.1,577.9 410.7,580.7 411.3,583.5 411.9,586.5 412.5,589.5 413.1,592.3 413.7,594.9 414.3,597.2 414.9,599.4 415.5,601.5 416.1,603.4 416.7,605.2 417.3,606.8 417.9,608.1 418.5,609.3 419.1,610.3 419.7,611.2 420.3,611.8 420.9,612.2 421.5,612.6 422.1,612.8 422.7,612.7 423.3,612.4 423.9,611.9 424.5,611.3 425.1,609.9 425.7,607.9 426.3,605.5 426.9,602.7 427.5,599.1 428.1,594.8 428.7,590.5 429.3,586.3 429.9,581.8 430.5,577.8 431.1,574.7 431.7,572.1 432.3,570.7 432.9,570.0 433.5,570.7 434.1,572.3 434.7,574.3 435.3,577.0 435.9,579.9 436.5,582.7 437.1,585.6 437.7,588.6 438.3,591.5 438.9,594.2 439.5,596.5 440.1,598.7 440.7,600.9 441.3,602.9 441.9,604.7 442.5,606.3 443.1,607.7 443.7,608.9 444.3,610.0 444.9,610.9 445.5,611.6 446.1,612.1 446.7,612.5 447.3,612.8 447.9,612.8 448.5,612.5 449.1,612.1 449.7,611.5 450.3,610.4 450.9,608.6 451.5,606.2 452.1,603.7 452.7,600.2 453.3,596.1 453.9,591.7 454.5,587.6 455.1,583.2 455.7,578.9 456.3,575.5 456.9,572.8 457.5,571.0 458.1,570.1 458.7,570.3 459.3,571.7 459.9,573.5 460.5,576.0 461.1,578.9 461.7,581.6 462.3,584.5 462.9,587.4 463.5,590.3 464.1,593.0 464.7,595.5 465.3,597.7 465.9,599.8 466.5,601.9 467.1,603.8 467.7,605.5 468.3,607.0 468.9,608.2 469.5,609.4 470.1,610.4 470.7,611.3 471.3,611.8 471.9,612.3 472.5,612.6 473.1,612.8 473.7,612.7 474.3,612.4 474.9,611.9 475.5,611.3 476.1,610.0 476.7,608.0 477.3,605.6 477.9,603.0 478.5,599.4 479.1,595.2 479.7,591.0 480.3,586.9 480.9,582.5 481.5,578.4 482.1,575.2 482.7,572.6 483.3,570.9 483.9,570.1 484.5,570.4 485.1,571.9 485.7,573.7 486.3,576.2 486.9,579.1 487.5,581.8 488.1,584.7 488.7,587.6 489.3,590.5 489.9,593.2 490.5,595.6 491.1,597.8 491.7,600.0 492.3,602.0 492.9,603.9 493.5,605.6 494.1,607.1 494.7,608.3 495.3,609.5 495.9,610.5 496.5,611.3 497.1,611.8 497.7,612.3 498.3,612.6 498.9,612.8 499.5,612.7 500.1,612.4 500.7,611.9 501.3,611.2 501.9,609.9 502.5,607.9 503.1,605.5 503.7,602.8 504.3,599.1 504.9,594.9 505.5,590.7 506.1,586.6 506.7,582.2 507.3,578.1 507.9,575.0 508.5,572.4 509.1,570.8 509.7,570.0 510.3,570.5 510.9,572.0 511.5,573.8 512.1,576.4 512.7,579.3 513.3,582.0 513.9,584.9 514.5,587.8 515.1,590.7 515.7,593.4 516.3,595.8 516.9,598.0 517.5,600.1 518.1,602.2 518.7,604.0 519.3,605.7 519.9,607.2 520.5,608.4 521.1,609.6 521.7,610.6 522.3,611.3 522.9,611.9 523.5,612.3 524.1,612.7 524.7,612.8 525.3,612.7 525.9,612.4 526.5,611.8 527.1,611.1 527.7,609.7 528.3,607.7 528.9,605.3 529.5,602.5 530.1,598.9 530.7,594.6 531.3,590.4 531.9,586.3 532.5,581.9 533.1,577.9 533.7,574.8 534.3,572.2 534.9,570.7 535.5,570.0 536.1,570.6 536.7,572.1 537.3,574.0 537.9,576.6 538.5,579.5 539.1,582.2 539.7,585.1 540.3,588.0 540.9,590.9 541.5,593.6 542.1,596.0 542.7,598.2 543.3,600.3 543.9,602.3 544.5,604.2 545.1,605.8 545.7,607.3 546.3,608.5 546.9,609.6 547.5,610.6 548.1,611.4 548.7,611.9 549.3,612.3 549.9,612.7 550.5,612.8 551.1,612.7 551.7,612.3 552.3,611.8 552.9,611.1 553.5,609.6 554.1,607.5 554.7,605.1 555.3,602.3 555.9,598.6 556.5,594.3 557.1,590.1 557.7,586.0 558.3,581.6 558.9,577.6 559.5,574.6 560.1,572.1 560.7,570.6 561.3,570.0 561.9,570.6 562.5,572.2 563.1,574.0 563.7,576.6 564.3,579.5 564.9,582.1 565.5,585.0 566.1,587.9 566.7,590.7 567.3,593.4 567.9,595.8 568.5,597.9 569.1,600.0 569.7,602.0 570.3,603.9 570.9,605.6 571.5,607.0 572.1,608.3 572.7,609.4 573.3,610.4 573.9,611.2 574.5,611.8 575.1,612.2 575.7,612.6 576.3,612.8 576.9,612.7 577.5,612.5 578.1,612.0 578.7,611.4 579.3,610.2 579.9,608.4 580.5,606.1 581.1,603.6 581.7,600.2 582.3,596.2 582.9,592.0 583.5,587.9 584.1,583.7 584.7,579.5 585.3,576.0 585.9,573.3 586.5,571.3 587.1,570.3 587.7,570.1 588.3,571.3 588.9,572.9 589.5,575.1 590.1,577.9 590.7,580.6 591.3,583.4 591.9,586.3 592.5,589.1 593.1,591.9 593.7,594.5 594.3,596.7 594.9,598.9 595.5,600.9 596.1,602.9 596.7,604.7 597.3,606.2 597.9,607.6 598.5,608.8 599.1,609.9 599.7,610.8 600.3,611.5 600.9,612.0 601.5,612.4 602.1,612.7 602.7,612.8 603.3,612.6 603.9,612.3 604.5,611.7 605.1,611.0 605.7,609.5 606.3,607.4 606.9,605.0 607.5,602.2 608.1,598.5 608.7,594.3 609.3,590.2 609.9,586.1 610.5,581.8 611.1,577.8 611.7,574.8 612.3,572.3 612.9,570.8 613.5,570.0 614.1,570.5 614.7,572.0 615.3,573.8 615.9,576.3 616.5,579.1 617.1,581.8 617.7,584.6 618.3,587.5 618.9,590.4 619.5,593.1 620.1,595.5 620.7,597.7 621.3,599.8 621.9,601.8 622.5,603.7 623.1,605.4 623.7,606.9 624.3,608.1 624.9,609.3 625.5,610.3 626.1,611.2 626.7,611.7 627.3,612.2 627.9,612.6 628.5,612.8 629.1,612.8 629.7,612.5 630.3,612.1 630.9,611.5 631.5,610.4 632.1,608.6 632.7,606.4 633.3,603.9 633.9,600.7 634.5,596.7 635.1,592.5 635.7,588.4 636.3,584.2 636.9,580.0 637.5,576.4 638.1,573.6 638.7,571.4 639.3,570.4 639.9,570.1 640.5,571.1 641.1,572.7 641.7,574.8 642.3,577.5 642.9,580.3 643.5,583.0 644.1,585.9 644.7,588.8 645.3,591.6 645.9,594.2 646.5,596.5 647.1,598.6 647.7,600.7 648.3,602.6" fill="none" stroke="#cd1c4e" stroke-width="3.8" stroke-linejoin="round" stroke-linecap="round"/>
<text x="682.0" y="543.5" font-size="31" text-anchor="end" fill="#231815">0.5 M</text>
<path d="M50.4 585.0V630.6H167.8" fill="none" stroke="#000" stroke-width="3.5" stroke-linejoin="miter"/>
<text x="32.7" y="586.0" font-size="32.5" text-anchor="middle" fill="#000" transform="rotate(-90 32.7 586.0)" textLength="98.3" lengthAdjust="spacingAndGlyphs">200 nS</text>
<text x="81.0" y="661.0" font-size="31" text-anchor="start" fill="#000">2 s</text>
<polyline points="69.3,703.0 69.9,703.5 70.5,704.0 71.1,704.7 71.7,705.6 72.3,706.6 72.9,707.6 73.5,708.5 74.1,709.5 74.7,710.6 75.3,711.6 75.9,712.7 76.5,713.7 77.1,714.6 77.7,715.6 78.3,716.6 78.9,717.6 79.5,718.5 80.1,719.4 80.7,720.3 81.3,721.2 81.9,722.0 82.5,722.8 83.1,723.5 83.7,724.2 84.3,724.9 84.9,725.6 85.5,726.3 86.1,726.9 86.7,727.5 87.3,728.1 87.9,728.7 88.5,729.2 89.1,729.7 89.7,730.1 90.3,730.5 90.9,730.9 91.5,731.3 92.1,731.7 92.7,732.1 93.3,732.4 93.9,732.8 94.5,733.1 95.1,733.3 95.7,733.6 96.3,733.8 96.9,734.0 97.5,734.2 98.1,734.4 98.7,734.5 99.3,734.7 99.9,734.9 100.5,735.0 101.1,735.1 101.7,735.2 102.3,735.3 102.9,735.4 103.5,735.5 104.1,735.5 104.7,735.6 105.3,735.6 105.9,735.7 106.5,735.7 107.1,735.8 107.7,735.8 108.3,735.8 108.9,735.9 109.5,735.9 110.1,735.9 110.7,735.9 111.3,735.9 111.9,735.9 112.5,735.9 113.1,735.8 113.7,735.8 114.3,735.8 114.9,735.7 115.5,735.6 116.1,735.6 116.7,735.5 117.3,735.4 117.9,735.3 118.5,735.2 119.1,735.1 119.7,734.9 120.3,734.6 120.9,734.4 121.5,734.1 122.1,733.7 122.7,733.4 123.3,733.0 123.9,732.6 124.5,732.0 125.1,731.3 125.7,730.5 126.3,729.6 126.9,728.6 127.5,727.5 128.1,726.4 128.7,725.3 129.3,724.0 129.9,722.6 130.5,721.1 131.1,719.6 131.7,718.0 132.3,716.4 132.9,714.8 133.5,713.2 134.1,711.5 134.7,709.9 135.3,708.5 135.9,707.3 136.5,706.0 137.1,705.0 137.7,704.4 138.3,704.0 138.9,703.8 139.5,703.7 140.1,703.9 140.7,704.3 141.3,704.7 141.9,705.2 142.5,706.0 143.1,706.9 143.7,707.9 144.3,708.9 144.9,709.8 145.5,710.8 146.1,711.8 146.7,712.8 147.3,713.8 147.9,714.8 148.5,715.8 149.1,716.7 149.7,717.7 150.3,718.6 150.9,719.5 151.5,720.4 152.1,721.3 152.7,722.1 153.3,722.9 153.9,723.6 154.5,724.3 155.1,725.0 155.7,725.7 156.3,726.4 156.9,727.0 157.5,727.6 158.1,728.2 158.7,728.8 159.3,729.3 159.9,729.8 160.5,730.2 161.1,730.7 161.7,731.1 162.3,731.5 162.9,731.9 163.5,732.2 164.1,732.6 164.7,732.9 165.3,733.2 165.9,733.5 166.5,733.8 167.1,734.0 167.7,734.2 168.3,734.4 168.9,734.6 169.5,734.7 170.1,734.9 170.7,735.1 171.3,735.2 171.9,735.3 172.5,735.5 173.1,735.6 173.7,735.7 174.3,735.7 174.9,735.8 175.5,735.8 176.1,735.9 176.7,735.9 177.3,736.0 177.9,736.0 178.5,736.1 179.1,736.1 179.7,736.1 180.3,736.2 180.9,736.2 181.5,736.2 182.1,736.2 182.7,736.2 183.3,736.2 183.9,736.1 184.5,736.1 185.1,736.1 185.7,736.0 186.3,735.9 186.9,735.9 187.5,735.8 188.1,735.7 188.7,735.6 189.3,735.5 189.9,735.4 190.5,735.2 191.1,735.0 191.7,734.7 192.3,734.5 192.9,734.1 193.5,733.8 194.1,733.4 194.7,733.0 195.3,732.5 195.9,731.8 196.5,731.0 197.1,730.1 197.7,729.1 198.3,728.1 198.9,727.0 199.5,725.9 200.1,724.7 200.7,723.3 201.3,721.9 201.9,720.3 202.5,718.8 203.1,717.2 203.7,715.6 204.3,714.0 204.9,712.3 205.5,710.8 206.1,709.3 206.7,708.1 207.3,706.9 207.9,705.8 208.5,705.2 209.1,704.8 209.7,704.6 210.3,704.5 210.9,704.6 211.5,705.0 212.1,705.4 212.7,705.9 213.3,706.6 213.9,707.4 214.5,708.4 215.1,709.3 215.7,710.2 216.3,711.1 216.9,712.1 217.5,713.1 218.1,714.1 218.7,715.0 219.3,715.9 219.9,716.8 220.5,717.7 221.1,718.7 221.7,719.6 222.3,720.4 222.9,721.3 223.5,722.1 224.1,722.9 224.7,723.6 225.3,724.3 225.9,725.0 226.5,725.6 227.1,726.3 227.7,726.9 228.3,727.5 228.9,728.1 229.5,728.7 230.1,729.2 230.7,729.7 231.3,730.2 231.9,730.6 232.5,731.0 233.1,731.4 233.7,731.8 234.3,732.2 234.9,732.5 235.5,732.9 236.1,733.2 236.7,733.5 237.3,733.8 237.9,734.0 238.5,734.3 239.1,734.5 239.7,734.6 240.3,734.8 240.9,735.0 241.5,735.1 242.1,735.3 242.7,735.4 243.3,735.6 243.9,735.7 244.5,735.8 245.1,735.9 245.7,736.0 246.3,736.0 246.9,736.1 247.5,736.1 248.1,736.2 248.7,736.2 249.3,736.3 249.9,736.3 250.5,736.4 251.1,736.4 251.7,736.4 252.3,736.4 252.9,736.5 253.5,736.5 254.1,736.5 254.7,736.5 255.3,736.5 255.9,736.4 256.5,736.4 257.1,736.3 257.7,736.3 258.3,736.2 258.9,736.2 259.5,736.1 260.1,736.0 260.7,735.9 261.3,735.8 261.9,735.7 262.5,735.6 263.1,735.4 263.7,735.1 264.3,734.9 264.9,734.6 265.5,734.3 266.1,733.9 266.7,733.5 267.3,733.1 267.9,732.5 268.5,731.9 269.1,731.0 269.7,730.2 270.3,729.2 270.9,728.2 271.5,727.1 272.1,726.0 272.7,724.9 273.3,723.5 273.9,722.1 274.5,720.6 275.1,719.1 275.7,717.6 276.3,716.1 276.9,714.5 277.5,712.9 278.1,711.4 278.7,710.1 279.3,708.9 279.9,707.7 280.5,706.7 281.1,706.0 281.7,705.6 282.3,705.3 282.9,705.2 283.5,705.3 284.1,705.6 284.7,706.0 285.3,706.5 285.9,707.1 286.5,707.9 287.1,708.8 287.7,709.7 288.3,710.6 288.9,711.5 289.5,712.5 290.1,713.4 290.7,714.4 291.3,715.3 291.9,716.2 292.5,717.1 293.1,718.0 293.7,718.9 294.3,719.8 294.9,720.7 295.5,721.5 296.1,722.3 296.7,723.1 297.3,723.8 297.9,724.5 298.5,725.2 299.1,725.8 299.7,726.5 300.3,727.1 300.9,727.7 301.5,728.3 302.1,728.8 302.7,729.4 303.3,729.9 303.9,730.3 304.5,730.8 305.1,731.2 305.7,731.6 306.3,732.0 306.9,732.3 307.5,732.7 308.1,733.0 308.7,733.4 309.3,733.7 309.9,734.0 310.5,734.2 311.1,734.5 311.7,734.7 312.3,734.9 312.9,735.0 313.5,735.2 314.1,735.4 314.7,735.5 315.3,735.7 315.9,735.8 316.5,735.9 317.1,736.0 317.7,736.1 318.3,736.2 318.9,736.3 319.5,736.4 320.1,736.4 320.7,736.5 321.3,736.5 321.9,736.6 322.5,736.6 323.1,736.6 323.7,736.7 324.3,736.7 324.9,736.7 325.5,736.7 326.1,736.8 326.7,736.8 327.3,736.8 327.9,736.7 328.5,736.7 329.1,736.7 329.7,736.7 330.3,736.6 330.9,736.6 331.5,736.5 332.1,736.4 332.7,736.4 333.3,736.3 333.9,736.2 334.5,736.1 335.1,736.0 335.7,735.8 336.3,735.6 336.9,735.4 337.5,735.1 338.1,734.8 338.7,734.5 339.3,734.1 339.9,733.7 340.5,733.3 341.1,732.7 341.7,731.9 342.3,731.1 342.9,730.2 343.5,729.2 344.1,728.2 344.7,727.2 345.3,726.1 345.9,724.9 346.5,723.5 347.1,722.1 347.7,720.6 348.3,719.1 348.9,717.7 349.5,716.1 350.1,714.6 350.7,713.0 351.3,711.5 351.9,710.2 352.5,709.0 353.1,707.9 353.7,706.9 354.3,706.3 354.9,706.0 355.5,705.7 356.1,705.6 356.7,705.7 357.3,706.1 357.9,706.5 358.5,706.9 359.1,707.5 359.7,708.3 360.3,709.2 360.9,710.1 361.5,711.0 362.1,711.9 362.7,712.8 363.3,713.7 363.9,714.7 364.5,715.6 365.1,716.5 365.7,717.3 366.3,718.2 366.9,719.1 367.5,719.9 368.1,720.8 368.7,721.6 369.3,722.4 369.9,723.2 370.5,723.9 371.1,724.6 371.7,725.3 372.3,725.9 372.9,726.5 373.5,727.2 374.1,727.8 374.7,728.3 375.3,728.9 375.9,729.4 376.5,729.9 377.1,730.4 377.7,730.9 378.3,731.3 378.9,731.7 379.5,732.0 380.1,732.4 380.7,732.8 381.3,733.1 381.9,733.4 382.5,733.8 383.1,734.0 383.7,734.3 384.3,734.6 384.9,734.8 385.5,735.0 386.1,735.2 386.7,735.4 387.3,735.5 387.9,735.7 388.5,735.8 389.1,736.0 389.7,736.1 390.3,736.2 390.9,736.3 391.5,736.4 392.1,736.5 392.7,736.6 393.3,736.6 393.9,736.7 394.5,736.7 395.1,736.8 395.7,736.8 396.3,736.9 396.9,736.9 397.5,736.9 398.1,737.0 398.7,737.0 399.3,737.0 399.9,737.0 400.5,737.0 401.1,737.0 401.7,737.0 402.3,737.0 402.9,737.0 403.5,737.0 404.1,736.9 404.7,736.9 405.3,736.8 405.9,736.8 406.5,736.7 407.1,736.6 407.7,736.5 408.3,736.5 408.9,736.3 409.5,736.2 410.1,736.0 410.7,735.8 411.3,735.6 411.9,735.3 412.5,735.0 413.1,734.7 413.7,734.3 414.3,734.0 414.9,733.5 415.5,732.9 416.1,732.2 416.7,731.4 417.3,730.5 417.9,729.6 418.5,728.6 419.1,727.6 419.7,726.5 420.3,725.4 420.9,724.1 421.5,722.7 422.1,721.2 422.7,719.8 423.3,718.4 423.9,716.9 424.5,715.4 425.1,713.9 425.7,712.5 426.3,711.1 426.9,710.0 427.5,708.8 428.1,707.9 428.7,707.2 429.3,706.8 429.9,706.5 430.5,706.4 431.1,706.4 431.7,706.7 432.3,707.0 432.9,707.4 433.5,708.0 434.1,708.7 434.7,709.5 435.3,710.4 435.9,711.2 436.5,712.1 437.1,713.0 437.7,713.9 438.3,714.8 438.9,715.7 439.5,716.5 440.1,717.4 440.7,718.2 441.3,719.1 441.9,719.9 442.5,720.8 443.1,721.6 443.7,722.4 444.3,723.2 444.9,723.9 445.5,724.6 446.1,725.2 446.7,725.9 447.3,726.5 447.9,727.1 448.5,727.7 449.1,728.3 449.7,728.8 450.3,729.4 450.9,729.9 451.5,730.4 452.1,730.8 452.7,731.3 453.3,731.7 453.9,732.0 454.5,732.4 455.1,732.8 455.7,733.1 456.3,733.5 456.9,733.8 457.5,734.1 458.1,734.4 458.7,734.6 459.3,734.9 459.9,735.1 460.5,735.3 461.1,735.5 461.7,735.6 462.3,735.8 462.9,736.0 463.5,736.1 464.1,736.2 464.7,736.4 465.3,736.5 465.9,736.6 466.5,736.7 467.1,736.8 467.7,736.9 468.3,736.9 468.9,737.0 469.5,737.0 470.1,737.1 470.7,737.1 471.3,737.1 471.9,737.2 472.5,737.2 473.1,737.2 473.7,737.3 474.3,737.3 474.9,737.3 475.5,737.3 476.1,737.3 476.7,737.3 477.3,737.3 477.9,737.3 478.5,737.3 479.1,737.2 479.7,737.2 480.3,737.1 480.9,737.1 481.5,737.0 482.1,736.9 482.7,736.9 483.3,736.8 483.9,736.7 484.5,736.6 485.1,736.5 485.7,736.3 486.3,736.1 486.9,735.8 487.5,735.6 488.1,735.3 488.7,735.0 489.3,734.6 489.9,734.2 490.5,733.8 491.1,733.2 491.7,732.5 492.3,731.7 492.9,730.8 493.5,729.9 494.1,728.9 494.7,728.0 495.3,727.0 495.9,725.8 496.5,724.6 497.1,723.2 497.7,721.8 498.3,720.4 498.9,719.1 499.5,717.7 500.1,716.2 500.7,714.7 501.3,713.3 501.9,712.0 502.5,710.9 503.1,709.8 503.7,708.8 504.3,708.0 504.9,707.6 505.5,707.3 506.1,707.1 506.7,707.1 507.3,707.3 507.9,707.7 508.5,708.1 509.1,708.5 509.7,709.1 510.3,709.9 510.9,710.8 511.5,711.6 512.1,712.4 512.7,713.3 513.3,714.1 513.9,715.0 514.5,715.9 515.1,716.7 515.7,717.6 516.3,718.4 516.9,719.2 517.5,720.0 518.1,720.9 518.7,721.7 519.3,722.5 519.9,723.2 520.5,723.9 521.1,724.6 521.7,725.3 522.3,725.9 522.9,726.5 523.5,727.1 524.1,727.7 524.7,728.3 525.3,728.9 525.9,729.4 526.5,729.9 527.1,730.4 527.7,730.9 528.3,731.3 528.9,731.7 529.5,732.1 530.1,732.5 530.7,732.8 531.3,733.2 531.9,733.5 532.5,733.8 533.1,734.1 533.7,734.4 534.3,734.7 534.9,735.0 535.5,735.2 536.1,735.4 536.7,735.6 537.3,735.8 537.9,735.9 538.5,736.1 539.1,736.2 539.7,736.4 540.3,736.5 540.9,736.6 541.5,736.8 542.1,736.9 542.7,737.0 543.3,737.1 543.9,737.1 544.5,737.2 545.1,737.2 545.7,737.3 546.3,737.3 546.9,737.4 547.5,737.4 548.1,737.5 548.7,737.5 549.3,737.5 549.9,737.5 550.5,737.6 551.1,737.6 551.7,737.6 552.3,737.6 552.9,737.6 553.5,737.6 554.1,737.6 554.7,737.6 555.3,737.5 555.9,737.5 556.5,737.4 557.1,737.4 557.7,737.3 558.3,737.3 558.9,737.2 559.5,737.1 560.1,737.1 560.7,737.0 561.3,736.9 561.9,736.7 562.5,736.5 563.1,736.3 563.7,736.1 564.3,735.8 564.9,735.5 565.5,735.2 566.1,734.8 566.7,734.5 567.3,734.0 567.9,733.4 568.5,732.7 569.1,731.9 569.7,731.1 570.3,730.2 570.9,729.2 571.5,728.3 572.1,727.3 572.7,726.2 573.3,724.9 573.9,723.6 574.5,722.3 575.1,720.9 575.7,719.6 576.3,718.2 576.9,716.8 577.5,715.4 578.1,714.0 578.7,712.7 579.3,711.6 579.9,710.6 580.5,709.6 581.1,708.8 581.7,708.4 582.3,708.1 582.9,707.9 583.5,707.9 584.1,708.1 584.7,708.3 585.3,708.7 585.9,709.1 586.5,709.7 587.1,710.4 587.7,711.3 588.3,712.1 588.9,712.9 589.5,713.7 590.1,714.5 590.7,715.4 591.3,716.3 591.9,717.1 592.5,717.9 593.1,718.7 593.7,719.5 594.3,720.3 594.9,721.1 595.5,721.9 596.1,722.7 596.7,723.4 597.3,724.2 597.9,724.9 598.5,725.5 599.1,726.1 599.7,726.7 600.3,727.3 600.9,727.9 601.5,728.5 602.1,729.0 602.7,729.6 603.3,730.1 603.9,730.6 604.5,731.0 605.1,731.5 605.7,731.9 606.3,732.3 606.9,732.6 607.5,733.0 608.1,733.3 608.7,733.7 609.3,734.0 609.9,734.3 610.5,734.6 611.1,734.9 611.7,735.1 612.3,735.4 612.9,735.6 613.5,735.8 614.1,736.0 614.7,736.1 615.3,736.3 615.9,736.5 616.5,736.6 617.1,736.7 617.7,736.9 618.3,737.0 618.9,737.1 619.5,737.2 620.1,737.3 620.7,737.4 621.3,737.4 621.9,737.5 622.5,737.5 623.1,737.6 623.7,737.6 624.3,737.7 624.9,737.7 625.5,737.7 626.1,737.8 626.7,737.8 627.3,737.8 627.9,737.9 628.5,737.9 629.1,737.9 629.7,737.9 630.3,737.9 630.9,737.9 631.5,737.9 632.1,737.8 632.7,737.8 633.3,737.8 633.9,737.7 634.5,737.7 635.1,737.6 635.7,737.6 636.3,737.5 636.9,737.4 637.5,737.4 638.1,737.3 638.7,737.2 639.3,737.0 639.9,736.8 640.5,736.6 641.1,736.4 641.7,736.1 642.3,735.9 642.9,735.5 643.5,735.2 644.1,734.9 644.7,734.4 645.3,733.8 645.9,733.2 646.5,732.4 647.1,731.6 647.7,730.7 648.3,729.8" fill="none" stroke="#de486f" stroke-width="3.9" stroke-linejoin="round" stroke-linecap="round"/>
<text x="682.0" y="662.0" font-size="31" text-anchor="end" fill="#231815">0.2 M</text>
<path d="M50.4 707.5V753.0H167.8" fill="none" stroke="#000" stroke-width="3.5" stroke-linejoin="miter"/>
<text x="32.7" y="704.5" font-size="32.5" text-anchor="middle" fill="#000" transform="rotate(-90 32.7 704.5)" textLength="98.3" lengthAdjust="spacingAndGlyphs">200 nS</text>
<text x="81.0" y="782.4" font-size="31" text-anchor="start" fill="#000">2 s</text>
<polyline points="69.3,873.5 69.7,873.6 70.1,873.7 70.5,873.8 70.8,873.9 71.2,873.9 71.6,874.0 72.0,874.1 72.3,874.2 72.7,874.2 73.1,874.3 73.5,874.4 73.9,874.4 74.2,874.5 74.6,874.6 75.0,874.6 75.4,874.7 75.8,874.7 76.1,874.8 76.5,874.9 76.9,874.9 77.3,875.0 77.7,875.0 78.0,875.1 78.4,875.1 78.8,875.2 79.2,875.2 79.5,875.3 79.9,875.3 80.3,875.4 80.7,875.4 81.1,875.5 81.4,875.5 81.8,875.6 82.2,875.6 82.6,875.6 83.0,875.7 83.3,875.7 83.7,875.8 84.1,875.8 84.5,875.8 84.8,875.9 85.2,875.9 85.6,875.9 86.0,876.0 86.4,876.0 86.7,876.0 87.1,876.1 87.5,876.1 87.9,876.1 88.3,876.2 88.6,876.2 89.0,876.2 89.4,876.2 89.8,876.3 90.2,876.3 90.5,876.3 90.9,876.3 91.3,876.4 91.7,876.4 92.0,876.4 92.4,876.4 92.8,876.4 93.2,876.4 93.6,876.5 93.9,876.5 94.3,876.5 94.7,876.5 95.1,876.5 95.5,876.5 95.8,876.5 96.2,876.6 96.6,876.6 97.0,876.6 97.3,876.6 97.7,876.6 98.1,876.6 98.5,876.6 98.9,876.6 99.2,876.6 99.6,876.6 100.0,876.6 100.4,876.6 100.8,876.6 101.1,876.6 101.5,876.6 101.9,876.6 102.3,876.6 102.7,876.6 103.0,876.6 103.4,876.6 103.8,876.6 104.2,876.6 104.5,876.6 104.9,876.6 105.3,876.6 105.7,876.6 106.1,876.5 106.4,876.5 106.8,876.5 107.2,876.5 107.6,876.5 108.0,876.5 108.3,876.5 108.7,876.4 109.1,876.4 109.5,876.4 109.8,876.4 110.2,876.3 110.6,876.3 111.0,876.3 111.4,876.3 111.7,876.2 112.1,876.2 112.5,876.2 112.9,876.1 113.3,876.1 113.6,876.0 114.0,876.0 114.4,876.0 114.8,875.9 115.2,875.9 115.5,875.8 115.9,875.8 116.3,875.7 116.7,875.7 117.0,875.6 117.4,875.5 117.8,875.5 118.2,875.4 118.6,875.4 118.9,875.3 119.3,875.2 119.7,875.1 120.1,875.1 120.5,875.0 120.8,874.9 121.2,874.8 121.6,874.7 122.0,874.6 122.3,874.5 122.7,874.4 123.1,874.3 123.5,874.2 123.9,874.1 124.2,874.0 124.6,873.9 125.0,873.7 125.4,873.6 125.8,873.5 126.1,873.3 126.5,873.2 126.9,873.0 127.3,872.9 127.7,872.7 128.0,872.5 128.4,872.4 128.8,872.2 129.2,872.0 129.5,871.8 129.9,871.6 130.3,871.4 130.7,871.2 131.1,870.9 131.4,870.7 131.8,870.5 132.2,870.2 132.6,869.9 133.0,869.7 133.3,869.4 133.7,869.1 134.1,868.8 134.5,868.5 134.8,868.2 135.2,867.8 135.6,867.5 136.0,867.1 136.4,866.8 136.7,866.4 137.1,866.0 137.5,865.6 137.9,865.2 138.3,864.7 138.6,864.3 139.0,863.8 139.4,863.4 139.8,862.9 140.2,862.4 140.5,861.8 140.9,861.3 141.3,860.7 141.7,860.2 142.0,859.6 142.4,859.0 142.8,858.3 143.2,857.7 143.6,857.0 143.9,856.3 144.3,855.6 144.7,854.9 145.1,854.2 145.5,853.4 145.8,852.6 146.2,851.8 146.6,851.0 147.0,850.2 147.3,849.3 147.7,848.4 148.1,847.5 148.5,846.6 148.9,845.7 149.2,844.8 149.6,843.8 150.0,842.8 150.4,841.8 150.8,840.8 151.1,839.8 151.5,838.8 151.9,837.7 152.3,836.7 152.7,835.6 153.0,834.5 153.4,833.4 153.8,832.4 154.2,831.3 154.5,830.2 154.9,829.1 155.3,828.0 155.7,827.0 156.1,825.9 156.4,824.8 156.8,823.8 157.2,822.8 157.6,821.7 158.0,820.8 158.3,819.8 158.7,818.8 159.1,817.9 159.5,817.1 159.8,816.2 160.2,815.4 160.6,814.6 161.0,813.9 161.4,813.2 161.7,812.5 162.1,811.9 162.5,811.4 162.9,810.9 163.3,810.5 163.6,810.1 164.0,809.7 164.4,809.5 164.8,809.3 165.2,809.1 165.5,809.0 165.9,809.0 166.3,809.0 166.7,809.1 167.0,809.2 167.4,809.4 167.8,809.7 168.2,810.0 168.6,810.3 168.9,810.7 169.3,811.2 169.7,811.7 170.1,812.2 170.5,812.8 170.8,813.5 171.2,814.1 171.6,814.8 172.0,815.6 172.3,816.4 172.7,817.2 173.1,818.0 173.5,818.9 173.9,819.8 174.2,820.7 174.6,821.7 175.0,822.6 175.4,823.6 175.8,824.6 176.1,825.6 176.5,826.6 176.9,827.6 177.3,828.7 177.7,829.7 178.0,830.7 178.4,831.8 178.8,832.8 179.2,833.8 179.5,834.9 179.9,835.9 180.3,836.9 180.7,837.9 181.1,838.9 181.4,839.9 181.8,840.9 182.2,841.8 182.6,842.8 183.0,843.7 183.3,844.6 183.7,845.5 184.1,846.4 184.5,847.3 184.8,848.2 185.2,849.0 185.6,849.8 186.0,850.6 186.4,851.4 186.7,852.2 187.1,853.0 187.5,853.7 187.9,854.4 188.3,855.1 188.6,855.8 189.0,856.5 189.4,857.1 189.8,857.8 190.2,858.4 190.5,859.0 190.9,859.6 191.3,860.1 191.7,860.7 192.0,861.2 192.4,861.7 192.8,862.3 193.2,862.7 193.6,863.2 193.9,863.7 194.3,864.1 194.7,864.6 195.1,865.0 195.5,865.4 195.8,865.8 196.2,866.2 196.6,866.6 197.0,866.9 197.3,867.3 197.7,867.6 198.1,868.0 198.5,868.3 198.9,868.6 199.2,868.9 199.6,869.2 200.0,869.5 200.4,869.7 200.8,870.0 201.1,870.2 201.5,870.5 201.9,870.7 202.3,871.0 202.7,871.2 203.0,871.4 203.4,871.6 203.8,871.8 204.2,872.0 204.5,872.2 204.9,872.4 205.3,872.5 205.7,872.7 206.1,872.9 206.4,873.0 206.8,873.2 207.2,873.4 207.6,873.5 208.0,873.6 208.3,873.8 208.7,873.9 209.1,874.0 209.5,874.2 209.8,874.3 210.2,874.4 210.6,874.5 211.0,874.6 211.4,874.7 211.7,874.8 212.1,874.9 212.5,875.0 212.9,875.1 213.3,875.2 213.6,875.3 214.0,875.4 214.4,875.4 214.8,875.5 215.2,875.6 215.5,875.7 215.9,875.7 216.3,875.8 216.7,875.9 217.0,875.9 217.4,876.0 217.8,876.1 218.2,876.1 218.6,876.2 218.9,876.2 219.3,876.3 219.7,876.3 220.1,876.4 220.5,876.4 220.8,876.5 221.2,876.5 221.6,876.6 222.0,876.6 222.3,876.6 222.7,876.7 223.1,876.7 223.5,876.8 223.9,876.8 224.2,876.8 224.6,876.9 225.0,876.9 225.4,876.9 225.8,877.0 226.1,877.0 226.5,877.0 226.9,877.0 227.3,877.1 227.7,877.1 228.0,877.1 228.4,877.1 228.8,877.2 229.2,877.2 229.5,877.2 229.9,877.2 230.3,877.3 230.7,877.3 231.1,877.3 231.4,877.3 231.8,877.3 232.2,877.3 232.6,877.4 233.0,877.4 233.3,877.4 233.7,877.4 234.1,877.4 234.5,877.4 234.8,877.4 235.2,877.5 235.6,877.5 236.0,877.5 236.4,877.5 236.7,877.5 237.1,877.5 237.5,877.5 237.9,877.5 238.3,877.5 238.6,877.6 239.0,877.6 239.4,877.6 239.8,877.6 240.2,877.6 240.5,877.6 240.9,877.6 241.3,877.6 241.7,877.6 242.0,877.6 242.4,877.6 242.8,877.6 243.2,877.6 243.6,877.6 243.9,877.6 244.3,877.6 244.7,877.6 245.1,877.6 245.5,877.6 245.8,877.6 246.2,877.6 246.6,877.6 247.0,877.6 247.3,877.6 247.7,877.6 248.1,877.6 248.5,877.6 248.9,877.6 249.2,877.6 249.6,877.6 250.0,877.6 250.4,877.6 250.8,877.6 251.1,877.6 251.5,877.6 251.9,877.6 252.3,877.5 252.7,877.5 253.0,877.5 253.4,877.5 253.8,877.5 254.2,877.5 254.5,877.5 254.9,877.5 255.3,877.5 255.7,877.5 256.1,877.4 256.4,877.4 256.8,877.4 257.2,877.4 257.6,877.4 258.0,877.4 258.3,877.3 258.7,877.3 259.1,877.3 259.5,877.3 259.8,877.3 260.2,877.3 260.6,877.2 261.0,877.2 261.4,877.2 261.7,877.2 262.1,877.1 262.5,877.1 262.9,877.1 263.3,877.1 263.6,877.0 264.0,877.0 264.4,877.0 264.8,876.9 265.2,876.9 265.5,876.9 265.9,876.8 266.3,876.8 266.7,876.8 267.0,876.7 267.4,876.7 267.8,876.6 268.2,876.6 268.6,876.6 268.9,876.5 269.3,876.5 269.7,876.4 270.1,876.4 270.5,876.3 270.8,876.3 271.2,876.2 271.6,876.1 272.0,876.1 272.3,876.0 272.7,876.0 273.1,875.9 273.5,875.8 273.9,875.8 274.2,875.7 274.6,875.6 275.0,875.5 275.4,875.4 275.8,875.4 276.1,875.3 276.5,875.2 276.9,875.1 277.3,875.0 277.7,874.9 278.0,874.8 278.4,874.7 278.8,874.6 279.2,874.5 279.5,874.4 279.9,874.2 280.3,874.1 280.7,874.0 281.1,873.9 281.4,873.7 281.8,873.6 282.2,873.4 282.6,873.3 283.0,873.1 283.3,873.0 283.7,872.8 284.1,872.6 284.5,872.4 284.8,872.2 285.2,872.0 285.6,871.8 286.0,871.6 286.4,871.4 286.7,871.2 287.1,871.0 287.5,870.7 287.9,870.5 288.3,870.3 288.6,870.0 289.0,869.7 289.4,869.4 289.8,869.2 290.2,868.9 290.5,868.6 290.9,868.2 291.3,867.9 291.7,867.6 292.0,867.2 292.4,866.9 292.8,866.5 293.2,866.1 293.6,865.7 293.9,865.3 294.3,864.9 294.7,864.5 295.1,864.0 295.5,863.6 295.8,863.1 296.2,862.6 296.6,862.1 297.0,861.6 297.3,861.0 297.7,860.5 298.1,859.9 298.5,859.4 298.9,858.8 299.2,858.2 299.6,857.5 300.0,856.9 300.4,856.2 300.8,855.6 301.1,854.9 301.5,854.2 301.9,853.5 302.3,852.7 302.7,852.0 303.0,851.2 303.4,850.4 303.8,849.6 304.2,848.8 304.5,848.0 304.9,847.1 305.3,846.3 305.7,845.4 306.1,844.5 306.4,843.6 306.8,842.7 307.2,841.8 307.6,840.9 308.0,840.0 308.3,839.0 308.7,838.1 309.1,837.1 309.5,836.2 309.8,835.2 310.2,834.3 310.6,833.3 311.0,832.4 311.4,831.5 311.7,830.5 312.1,829.6 312.5,828.7 312.9,827.8 313.3,826.9 313.6,826.0 314.0,825.2 314.4,824.3 314.8,823.5 315.2,822.8 315.5,822.0 315.9,821.3 316.3,820.6 316.7,819.9 317.0,819.3 317.4,818.7 317.8,818.2 318.2,817.7 318.6,817.2 318.9,816.8 319.3,816.4 319.7,816.1 320.1,815.8 320.5,815.6 320.8,815.4 321.2,815.3 321.6,815.2 322.0,815.2 322.3,815.2 322.7,815.3 323.1,815.4 323.5,815.6 323.9,815.8 324.2,816.0 324.6,816.3 325.0,816.7 325.4,817.0 325.8,817.5 326.1,817.9 326.5,818.4 326.9,819.0 327.3,819.5 327.7,820.1 328.0,820.8 328.4,821.4 328.8,822.1 329.2,822.9 329.5,823.6 329.9,824.4 330.3,825.2 330.7,826.0 331.1,826.8 331.4,827.7 331.8,828.5 332.2,829.4 332.6,830.3 333.0,831.1 333.3,832.0 333.7,832.9 334.1,833.8 334.5,834.8 334.8,835.7 335.2,836.6 335.6,837.5 336.0,838.4 336.4,839.3 336.7,840.2 337.1,841.0 337.5,841.9 337.9,842.8 338.3,843.7 338.6,844.5 339.0,845.4 339.4,846.2 339.8,847.0 340.2,847.8 340.5,848.6 340.9,849.4 341.3,850.2 341.7,850.9 342.0,851.7 342.4,852.4 342.8,853.1 343.2,853.8 343.6,854.5 343.9,855.1 344.3,855.8 344.7,856.4 345.1,857.1 345.5,857.7 345.8,858.3 346.2,858.8 346.6,859.4 347.0,860.0 347.3,860.5 347.7,861.0 348.1,861.5 348.5,862.0 348.9,862.5 349.2,863.0 349.6,863.4 350.0,863.9 350.4,864.3 350.8,864.7 351.1,865.2 351.5,865.6 351.9,865.9 352.3,866.3 352.7,866.7 353.0,867.0 353.4,867.4 353.8,867.7 354.2,868.0 354.5,868.3 354.9,868.7 355.3,868.9 355.7,869.2 356.1,869.5 356.4,869.8 356.8,870.0 357.2,870.3 357.6,870.5 358.0,870.8 358.3,871.0 358.7,871.2 359.1,871.4 359.5,871.7 359.8,871.9 360.2,872.1 360.6,872.2 361.0,872.4 361.4,872.6 361.7,872.8 362.1,872.9 362.5,873.1 362.9,873.3 363.3,873.4 363.6,873.6 364.0,873.7 364.4,873.8 364.8,874.0 365.2,874.1 365.5,874.2 365.9,874.4 366.3,874.5 366.7,874.6 367.0,874.7 367.4,874.8 367.8,874.9 368.2,875.0 368.6,875.1 368.9,875.2 369.3,875.3 369.7,875.4 370.1,875.5 370.5,875.6 370.8,875.6 371.2,875.7 371.6,875.8 372.0,875.9 372.3,875.9 372.7,876.0 373.1,876.1 373.5,876.1 373.9,876.2 374.2,876.3 374.6,876.3 375.0,876.4 375.4,876.4 375.8,876.5 376.1,876.6 376.5,876.6 376.9,876.7 377.3,876.7 377.7,876.7 378.0,876.8 378.4,876.8 378.8,876.9 379.2,876.9 379.5,877.0 379.9,877.0 380.3,877.0 380.7,877.1 381.1,877.1 381.4,877.1 381.8,877.2 382.2,877.2 382.6,877.2 383.0,877.3 383.3,877.3 383.7,877.3 384.1,877.4 384.5,877.4 384.8,877.4 385.2,877.4 385.6,877.5 386.0,877.5 386.4,877.5 386.7,877.5 387.1,877.5 387.5,877.6 387.9,877.6 388.3,877.6 388.6,877.6 389.0,877.6 389.4,877.7 389.8,877.7 390.2,877.7 390.5,877.7 390.9,877.7 391.3,877.7 391.7,877.8 392.0,877.8 392.4,877.8 392.8,877.8 393.2,877.8 393.6,877.8 393.9,877.8 394.3,877.8 394.7,877.8 395.1,877.9 395.5,877.9 395.8,877.9 396.2,877.9 396.6,877.9 397.0,877.9 397.3,877.9 397.7,877.9 398.1,877.9 398.5,877.9 398.9,877.9 399.2,877.9 399.6,877.9 400.0,877.9 400.4,877.9 400.8,877.9 401.1,878.0 401.5,878.0 401.9,878.0 402.3,878.0 402.7,878.0 403.0,878.0 403.4,878.0 403.8,878.0 404.2,878.0 404.5,878.0 404.9,878.0 405.3,878.0 405.7,878.0 406.1,878.0 406.4,878.0 406.8,877.9 407.2,877.9 407.6,877.9 408.0,877.9 408.3,877.9 408.7,877.9 409.1,877.9 409.5,877.9 409.8,877.9 410.2,877.9 410.6,877.9 411.0,877.9 411.4,877.9 411.7,877.9 412.1,877.9 412.5,877.8 412.9,877.8 413.3,877.8 413.6,877.8 414.0,877.8 414.4,877.8 414.8,877.8 415.2,877.8 415.5,877.7 415.9,877.7 416.3,877.7 416.7,877.7 417.0,877.7 417.4,877.7 417.8,877.6 418.2,877.6 418.6,877.6 418.9,877.6 419.3,877.6 419.7,877.5 420.1,877.5 420.5,877.5 420.8,877.5 421.2,877.5 421.6,877.4 422.0,877.4 422.3,877.4 422.7,877.3 423.1,877.3 423.5,877.3 423.9,877.2 424.2,877.2 424.6,877.2 425.0,877.1 425.4,877.1 425.8,877.1 426.1,877.0 426.5,877.0 426.9,876.9 427.3,876.9 427.7,876.9 428.0,876.8 428.4,876.8 428.8,876.7 429.2,876.7 429.5,876.6 429.9,876.6 430.3,876.5 430.7,876.4 431.1,876.4 431.4,876.3 431.8,876.3 432.2,876.2 432.6,876.1 433.0,876.0 433.3,876.0 433.7,875.9 434.1,875.8 434.5,875.7 434.8,875.7 435.2,875.6 435.6,875.5 436.0,875.4 436.4,875.3 436.7,875.2 437.1,875.1 437.5,875.0 437.9,874.9 438.3,874.8 438.6,874.6 439.0,874.5 439.4,874.4 439.8,874.3 440.2,874.1 440.5,874.0 440.9,873.9 441.3,873.7 441.7,873.6 442.0,873.4 442.4,873.3 442.8,873.1 443.2,872.9 443.6,872.7 443.9,872.6 444.3,872.4 444.7,872.2 445.1,872.0 445.5,871.8 445.8,871.5 446.2,871.3 446.6,871.1 447.0,870.9 447.3,870.6 447.7,870.4 448.1,870.1 448.5,869.8 448.9,869.6 449.2,869.3 449.6,869.0 450.0,868.7 450.4,868.4 450.8,868.0 451.1,867.7 451.5,867.4 451.9,867.0 452.3,866.7 452.7,866.3 453.0,865.9 453.4,865.5 453.8,865.1 454.2,864.7 454.5,864.3 454.9,863.8 455.3,863.4 455.7,862.9 456.1,862.4 456.4,861.9 456.8,861.4 457.2,860.9 457.6,860.4 458.0,859.8 458.3,859.3 458.7,858.7 459.1,858.1 459.5,857.5 459.8,856.9 460.2,856.3 460.6,855.6 461.0,855.0 461.4,854.3 461.7,853.6 462.1,853.0 462.5,852.2 462.9,851.5 463.3,850.8 463.6,850.1 464.0,849.3 464.4,848.6 464.8,847.8 465.2,847.0 465.5,846.2 465.9,845.4 466.3,844.6 466.7,843.8 467.0,843.0 467.4,842.2 467.8,841.4 468.2,840.6 468.6,839.7 468.9,838.9 469.3,838.1 469.7,837.3 470.1,836.5 470.5,835.7 470.8,834.9 471.2,834.1 471.6,833.3 472.0,832.5 472.3,831.8 472.7,831.0 473.1,830.3 473.5,829.6 473.9,828.9 474.2,828.3 474.6,827.6 475.0,827.0 475.4,826.5 475.8,825.9 476.1,825.4 476.5,824.9 476.9,824.4 477.3,824.0 477.7,823.6 478.0,823.3 478.4,823.0 478.8,822.7 479.2,822.5 479.5,822.3 479.9,822.1 480.3,822.0 480.7,822.0 481.1,822.0 481.4,822.0 481.8,822.0 482.2,822.1 482.6,822.3 483.0,822.4 483.3,822.7 483.7,822.9 484.1,823.2 484.5,823.5 484.8,823.9 485.2,824.2 485.6,824.7 486.0,825.1 486.4,825.6 486.7,826.1 487.1,826.6 487.5,827.2 487.9,827.8 488.3,828.4 488.6,829.0 489.0,829.7 489.4,830.3 489.8,831.0 490.2,831.7 490.5,832.4 490.9,833.2 491.3,833.9 491.7,834.7 492.0,835.4 492.4,836.2 492.8,837.0 493.2,837.7 493.6,838.5 493.9,839.3 494.3,840.1 494.7,840.9 495.1,841.7 495.5,842.4 495.8,843.2 496.2,844.0 496.6,844.8 497.0,845.5 497.3,846.3 497.7,847.0 498.1,847.8 498.5,848.5 498.9,849.3 499.2,850.0 499.6,850.7 500.0,851.4 500.4,852.1 500.8,852.7 501.1,853.4 501.5,854.1 501.9,854.7 502.3,855.3 502.7,856.0 503.0,856.6 503.4,857.2 503.8,857.7 504.2,858.3 504.5,858.9 504.9,859.4 505.3,859.9 505.7,860.5 506.1,861.0 506.4,861.5 506.8,862.0 507.2,862.4 507.6,862.9 508.0,863.4 508.3,863.8 508.7,864.2 509.1,864.6 509.5,865.0 509.8,865.4 510.2,865.8 510.6,866.2 511.0,866.6 511.4,866.9 511.7,867.3 512.1,867.6 512.5,867.9 512.9,868.2 513.3,868.6 513.6,868.9 514.0,869.1 514.4,869.4 514.8,869.7 515.2,870.0 515.5,870.2 515.9,870.5 516.3,870.7 516.7,871.0 517.0,871.2 517.4,871.4 517.8,871.6 518.2,871.9 518.6,872.1 518.9,872.3 519.3,872.4 519.7,872.6 520.1,872.8 520.5,873.0 520.8,873.2 521.2,873.3 521.6,873.5 522.0,873.6 522.3,873.8 522.7,873.9 523.1,874.1 523.5,874.2 523.9,874.4 524.2,874.5 524.6,874.6 525.0,874.7 525.4,874.9 525.8,875.0 526.1,875.1 526.5,875.2 526.9,875.3 527.3,875.4 527.7,875.5 528.0,875.6 528.4,875.7 528.8,875.8 529.2,875.9 529.5,875.9 529.9,876.0 530.3,876.1 530.7,876.2 531.1,876.3 531.4,876.3 531.8,876.4 532.2,876.5 532.6,876.5 533.0,876.6 533.3,876.7 533.7,876.7 534.1,876.8 534.5,876.9 534.8,876.9 535.2,877.0 535.6,877.0 536.0,877.1 536.4,877.1 536.7,877.2 537.1,877.2 537.5,877.3 537.9,877.3 538.3,877.3 538.6,877.4 539.0,877.4 539.4,877.5 539.8,877.5 540.2,877.5 540.5,877.6 540.9,877.6 541.3,877.6 541.7,877.7 542.0,877.7 542.4,877.7 542.8,877.8 543.2,877.8 543.6,877.8 543.9,877.9 544.3,877.9 544.7,877.9 545.1,877.9 545.5,878.0 545.8,878.0 546.2,878.0 546.6,878.0 547.0,878.1 547.3,878.1 547.7,878.1 548.1,878.1 548.5,878.1 548.9,878.2 549.2,878.2 549.6,878.2 550.0,878.2 550.4,878.2 550.8,878.2 551.1,878.2 551.5,878.3 551.9,878.3 552.3,878.3 552.7,878.3 553.0,878.3 553.4,878.3 553.8,878.3 554.2,878.4 554.5,878.4 554.9,878.4 555.3,878.4 555.7,878.4 556.1,878.4 556.4,878.4 556.8,878.4 557.2,878.4 557.6,878.4 558.0,878.4 558.3,878.5 558.7,878.5 559.1,878.5 559.5,878.5 559.8,878.5 560.2,878.5 560.6,878.5 561.0,878.5 561.4,878.5 561.7,878.5 562.1,878.5 562.5,878.5 562.9,878.5 563.3,878.5 563.6,878.5 564.0,878.5 564.4,878.5 564.8,878.5 565.2,878.5 565.5,878.5 565.9,878.5 566.3,878.5 566.7,878.5 567.0,878.5 567.4,878.5 567.8,878.5 568.2,878.5 568.6,878.5 568.9,878.5 569.3,878.5 569.7,878.5 570.1,878.5 570.5,878.5 570.8,878.5 571.2,878.5 571.6,878.5 572.0,878.5 572.3,878.5 572.7,878.4 573.1,878.4 573.5,878.4 573.9,878.4 574.2,878.4 574.6,878.4 575.0,878.4 575.4,878.4 575.8,878.4 576.1,878.4 576.5,878.3 576.9,878.3 577.3,878.3 577.7,878.3 578.0,878.3 578.4,878.3 578.8,878.3 579.2,878.2 579.5,878.2 579.9,878.2 580.3,878.2 580.7,878.2 581.1,878.2 581.4,878.1 581.8,878.1 582.2,878.1 582.6,878.1 583.0,878.0 583.3,878.0 583.7,878.0 584.1,878.0 584.5,877.9 584.8,877.9 585.2,877.9 585.6,877.9 586.0,877.8 586.4,877.8 586.7,877.8 587.1,877.7 587.5,877.7 587.9,877.7 588.3,877.6 588.6,877.6 589.0,877.5 589.4,877.5 589.8,877.5 590.2,877.4 590.5,877.4 590.9,877.3 591.3,877.3 591.7,877.2 592.0,877.2 592.4,877.1 592.8,877.1 593.2,877.0 593.6,877.0 593.9,876.9 594.3,876.8 594.7,876.8 595.1,876.7 595.5,876.6 595.8,876.6 596.2,876.5 596.6,876.4 597.0,876.3 597.3,876.3 597.7,876.2 598.1,876.1 598.5,876.0 598.9,875.9 599.2,875.8 599.6,875.7 600.0,875.6 600.4,875.5 600.8,875.4 601.1,875.3 601.5,875.2 601.9,875.1 602.3,874.9 602.7,874.8 603.0,874.7 603.4,874.6 603.8,874.4 604.2,874.3 604.5,874.1 604.9,874.0 605.3,873.8 605.7,873.7 606.1,873.5 606.4,873.3 606.8,873.1 607.2,873.0 607.6,872.8 608.0,872.6 608.3,872.4 608.7,872.2 609.1,872.0 609.5,871.7 609.8,871.5 610.2,871.3 610.6,871.0 611.0,870.8 611.4,870.5 611.7,870.3 612.1,870.0 612.5,869.7 612.9,869.5 613.3,869.2 613.6,868.9 614.0,868.5 614.4,868.2 614.8,867.9 615.2,867.6 615.5,867.2 615.9,866.9 616.3,866.5 616.7,866.1 617.0,865.7 617.4,865.3 617.8,864.9 618.2,864.5 618.6,864.1 618.9,863.6 619.3,863.2 619.7,862.7 620.1,862.3 620.5,861.8 620.8,861.3 621.2,860.8 621.6,860.3 622.0,859.8 622.3,859.2 622.7,858.7 623.1,858.1 623.5,857.6 623.9,857.0 624.2,856.4 624.6,855.8 625.0,855.2 625.4,854.6 625.8,854.0 626.1,853.3 626.5,852.7 626.9,852.0 627.3,851.4 627.7,850.7 628.0,850.1 628.4,849.4 628.8,848.7 629.2,848.0 629.5,847.3 629.9,846.7 630.3,846.0 630.7,845.3 631.1,844.6 631.4,843.9 631.8,843.2 632.2,842.6 632.6,841.9 633.0,841.2 633.3,840.6 633.7,839.9 634.1,839.3 634.5,838.6 634.8,838.0 635.2,837.4 635.6,836.8 636.0,836.3 636.4,835.7 636.7,835.2 637.1,834.7 637.5,834.2 637.9,833.7 638.3,833.2 638.6,832.8 639.0,832.4 639.4,832.1 639.8,831.7 640.2,831.4 640.5,831.1 640.9,830.9 641.3,830.7 641.7,830.5 642.0,830.3 642.4,830.2 642.8,830.1 643.2,830.1 643.6,830.1 643.9,830.1 644.3,830.1 644.7,830.2 645.1,830.3 645.5,830.5 645.8,830.6 646.2,830.8 646.6,831.1 647.0,831.3 647.3,831.6 647.7,831.9 648.1,832.3 648.5,832.6 648.9,833.0" fill="none" stroke="#c6617f" stroke-width="4.0" stroke-linejoin="round" stroke-linecap="round"/>
<text x="682.0" y="814.0" font-size="31" text-anchor="end" fill="#231815">0.1 M</text>
<path d="M50.4 840.0V885.8H167.8" fill="none" stroke="#000" stroke-width="3.5" stroke-linejoin="miter"/>
<text x="32.7" y="841.5" font-size="32.5" text-anchor="middle" fill="#000" transform="rotate(-90 32.7 841.5)" textLength="81.0" lengthAdjust="spacingAndGlyphs">50 nS</text>
<text x="81.0" y="918.6" font-size="31" text-anchor="start" fill="#000">2 s</text>
<polyline points="69.3,977.8 70.8,974.7 72.3,971.7 73.9,968.9 75.4,966.2 76.9,963.7 78.4,961.3 79.9,959.1 81.4,957.0 83.0,955.1 84.5,953.3 86.0,951.6 87.5,950.1 89.0,948.7 90.5,947.5 92.0,946.3 93.6,945.3 95.1,944.5 96.6,943.7 98.1,943.1 99.6,942.6 101.1,942.3 102.7,942.0 104.2,941.9 105.7,941.8 107.2,941.9 108.7,942.1 110.2,942.4 111.7,942.8 113.3,943.2 114.8,943.8 116.3,944.5 117.8,945.2 119.3,946.1 120.8,947.0 122.3,948.0 123.9,949.0 125.4,950.1 126.9,951.3 128.4,952.5 129.9,953.8 131.4,955.1 133.0,956.5 134.5,957.9 136.0,959.3 137.5,960.8 139.0,962.3 140.5,963.8 142.0,965.2 143.6,966.7 145.1,968.2 146.6,969.7 148.1,971.1 149.6,972.5 151.1,973.9 152.7,975.3 154.2,976.6 155.7,977.8 157.2,979.0 158.7,980.2 160.2,981.3 161.7,982.3 163.3,983.2 164.8,984.1 166.3,984.9 167.8,985.7 169.3,986.4 170.8,987.1 172.3,987.7 173.9,988.3 175.4,988.8 176.9,989.3 178.4,989.7 179.9,990.2 181.4,990.6 183.0,990.9 184.5,991.3 186.0,991.6 187.5,991.9 189.0,992.2 190.5,992.5 192.0,992.8 193.6,993.0 195.1,993.3 196.6,993.5 198.1,993.8 199.6,994.0 201.1,994.2 202.7,994.5 204.2,994.7 205.7,994.9 207.2,995.1 208.7,995.3 210.2,995.5 211.7,995.7 213.3,995.9 214.8,996.0 216.3,996.2 217.8,996.4 219.3,996.5 220.8,996.6 222.3,996.8 223.9,996.9 225.4,997.0 226.9,997.1 228.4,997.2 229.9,997.3 231.4,997.3 233.0,997.4 234.5,997.4 236.0,997.5 237.5,997.5 239.0,997.5 240.5,997.5 242.0,997.5 243.6,997.5 245.1,997.4 246.6,997.4 248.1,997.3 249.6,997.3 251.1,997.2 252.7,997.1 254.2,997.0 255.7,996.9 257.2,996.7 258.7,996.6 260.2,996.4 261.7,996.2 263.3,996.1 264.8,995.9 266.3,995.6 267.8,995.4 269.3,995.2 270.8,994.9 272.3,994.6 273.9,994.3 275.4,994.0 276.9,993.7 278.4,993.4 279.9,993.0 281.4,992.7 283.0,992.3 284.5,991.9 286.0,991.5 287.5,991.0 289.0,990.5 290.5,989.9 292.0,989.3 293.6,988.7 295.1,987.9 296.6,987.1 298.1,986.3 299.6,985.4 301.1,984.3 302.7,983.2 304.2,982.0 305.7,980.7 307.2,979.3 308.7,977.8 310.2,976.3 311.7,974.6 313.3,972.9 314.8,971.1 316.3,969.4 317.8,967.6 319.3,965.8 320.8,964.1 322.3,962.4 323.9,960.7 325.4,959.2 326.9,957.7 328.4,956.3 329.9,955.0 331.4,953.9 333.0,952.9 334.5,951.9 336.0,951.1 337.5,950.4 339.0,949.8 340.5,949.4 342.0,949.0 343.6,948.8 345.1,948.6 346.6,948.6 348.1,948.6 349.6,948.8 351.1,949.1 352.7,949.4 354.2,949.9 355.7,950.4 357.2,950.9 358.7,951.6 360.2,952.3 361.7,953.0 363.3,953.8 364.8,954.6 366.3,955.5 367.8,956.4 369.3,957.4 370.8,958.3 372.3,959.3 373.9,960.3 375.4,961.3 376.9,962.4 378.4,963.4 379.9,964.5 381.4,965.5 383.0,966.6 384.5,967.7 386.0,968.7 387.5,969.8 389.0,970.9 390.5,971.9 392.0,972.9 393.6,974.0 395.1,975.0 396.6,975.9 398.1,976.9 399.6,977.8 401.1,978.7 402.7,979.6 404.2,980.4 405.7,981.2 407.2,982.0 408.7,982.7 410.2,983.4 411.7,984.1 413.3,984.8 414.8,985.4 416.3,986.0 417.8,986.6 419.3,987.1 420.8,987.7 422.3,988.2 423.9,988.7 425.4,989.1 426.9,989.6 428.4,990.0 429.9,990.4 431.4,990.8 433.0,991.2 434.5,991.6 436.0,991.9 437.5,992.2 439.0,992.6 440.5,992.9 442.0,993.2 443.6,993.4 445.1,993.7 446.6,993.9 448.1,994.2 449.6,994.4 451.1,994.6 452.7,994.8 454.2,995.0 455.7,995.2 457.2,995.3 458.7,995.5 460.2,995.6 461.7,995.8 463.3,995.9 464.8,996.0 466.3,996.1 467.8,996.1 469.3,996.2 470.8,996.3 472.3,996.3 473.9,996.4 475.4,996.4 476.9,996.4 478.4,996.4 479.9,996.4 481.4,996.4 483.0,996.3 484.5,996.3 486.0,996.2 487.5,996.2 489.0,996.1 490.5,996.0 492.0,995.9 493.6,995.8 495.1,995.7 496.6,995.5 498.1,995.4 499.6,995.2 501.1,995.0 502.7,994.9 504.2,994.6 505.7,994.4 507.2,994.2 508.7,993.9 510.2,993.7 511.7,993.4 513.3,993.1 514.8,992.8 516.3,992.4 517.8,992.1 519.3,991.7 520.8,991.3 522.3,990.9 523.9,990.5 525.4,990.1 526.9,989.6 528.4,989.1 529.9,988.5 531.4,987.9 533.0,987.3 534.5,986.7 536.0,986.0 537.5,985.2 539.0,984.4 540.5,983.6 542.0,982.7 543.6,981.7 545.1,980.7 546.6,979.6 548.1,978.5 549.6,977.4 551.1,976.1 552.7,974.9 554.2,973.7 555.7,972.4 557.2,971.1 558.7,969.9 560.2,968.6 561.7,967.4 563.3,966.2 564.8,965.0 566.3,963.9 567.8,962.9 569.3,961.9 570.8,961.0 572.3,960.2 573.9,959.4 575.4,958.7 576.9,958.1 578.4,957.6 579.9,957.1 581.4,956.8 583.0,956.5 584.5,956.3 586.0,956.2 587.5,956.1 589.0,956.2 590.5,956.3 592.0,956.6 593.6,956.8 595.1,957.2 596.6,957.6 598.1,958.1 599.6,958.6 601.1,959.2 602.7,959.9 604.2,960.6 605.7,961.3 607.2,962.1 608.7,962.9 610.2,963.8 611.7,964.6 613.3,965.5 614.8,966.5 616.3,967.4 617.8,968.4 619.3,969.3 620.8,970.3 622.3,971.3 623.9,972.3 625.4,973.3 626.9,974.2 628.4,975.2 629.9,976.2 631.4,977.1 633.0,978.0 634.5,978.9 636.0,979.7 637.5,980.6 639.0,981.4 640.5,982.1 642.0,982.8 643.6,983.5 645.1,984.1 646.6,984.6 648.1,985.2" fill="none" stroke="#dd7f9b" stroke-width="4.0" stroke-linejoin="round" stroke-linecap="round"/>
<text x="682.5" y="939.5" font-size="31" text-anchor="end" fill="#231815">50 mM</text>
<path d="M50.4 967.0V1004.3H167.8" fill="none" stroke="#000" stroke-width="3.5" stroke-linejoin="miter"/>
<text x="32.7" y="965.0" font-size="32.5" text-anchor="middle" fill="#000" transform="rotate(-90 32.7 965.0)" textLength="81.0" lengthAdjust="spacingAndGlyphs">20 nS</text>
<text x="81.0" y="1035.1" font-size="31" text-anchor="start" fill="#000">2 s</text>
<polyline points="69.3,1074.4 70.8,1077.2 72.3,1079.9 73.9,1082.5 75.4,1085.0 76.9,1087.5 78.4,1089.9 79.9,1092.2 81.4,1094.5 83.0,1096.6 84.5,1098.8 86.0,1100.8 87.5,1102.8 89.0,1104.7 90.5,1106.5 92.0,1108.3 93.6,1110.0 95.1,1111.6 96.6,1113.2 98.1,1114.7 99.6,1116.2 101.1,1117.6 102.7,1118.9 104.2,1120.2 105.7,1121.4 107.2,1122.6 108.7,1123.7 110.2,1124.8 111.7,1125.8 113.3,1126.7 114.8,1127.6 116.3,1128.5 117.8,1129.3 119.3,1130.0 120.8,1130.7 122.3,1131.4 123.9,1132.0 125.4,1132.6 126.9,1133.1 128.4,1133.5 129.9,1134.0 131.4,1134.4 133.0,1134.7 134.5,1135.0 136.0,1135.3 137.5,1135.5 139.0,1135.7 140.5,1135.9 142.0,1136.0 143.6,1136.1 145.1,1136.1 146.6,1136.1 148.1,1136.1 149.6,1136.1 151.1,1136.0 152.7,1135.9 154.2,1135.8 155.7,1135.6 157.2,1135.4 158.7,1135.2 160.2,1134.9 161.7,1134.7 163.3,1134.3 164.8,1134.0 166.3,1133.7 167.8,1133.3 169.3,1132.9 170.8,1132.5 172.3,1132.0 173.9,1131.5 175.4,1131.0 176.9,1130.5 178.4,1130.0 179.9,1129.4 181.4,1128.9 183.0,1128.3 184.5,1127.6 186.0,1127.0 187.5,1126.4 189.0,1125.7 190.5,1125.0 192.0,1124.3 193.6,1123.6 195.1,1122.9 196.6,1122.1 198.1,1121.4 199.6,1120.6 201.1,1119.8 202.7,1119.1 204.2,1118.3 205.7,1117.4 207.2,1116.6 208.7,1115.8 210.2,1114.9 211.7,1114.1 213.3,1113.2 214.8,1112.4 216.3,1111.5 217.8,1110.6 219.3,1109.7 220.8,1108.8 222.3,1107.9 223.9,1107.0 225.4,1106.1 226.9,1105.2 228.4,1104.2 229.9,1103.3 231.4,1102.4 233.0,1101.5 234.5,1100.5 236.0,1099.6 237.5,1098.7 239.0,1097.7 240.5,1096.8 242.0,1095.9 243.6,1095.0 245.1,1094.0 246.6,1093.1 248.1,1092.2 249.6,1091.3 251.1,1090.3 252.7,1089.4 254.2,1088.5 255.7,1087.6 257.2,1086.7 258.7,1085.8 260.2,1085.0 261.7,1084.1 263.3,1083.2 264.8,1082.4 266.3,1081.5 267.8,1080.7 269.3,1079.9 270.8,1079.0 272.3,1078.2 273.9,1077.4 275.4,1076.7 276.9,1075.9 278.4,1075.1 279.9,1074.4 281.4,1073.7 283.0,1073.0 284.5,1072.3 286.0,1071.6 287.5,1070.9 289.0,1070.3 290.5,1069.7 292.0,1069.1 293.6,1068.5 295.1,1067.9 296.6,1067.4 298.1,1066.8 299.6,1066.3 301.1,1065.9 302.7,1065.4 304.2,1065.0 305.7,1064.6 307.2,1064.2 308.7,1063.8 310.2,1063.5 311.7,1063.2 313.3,1062.9 314.8,1062.6 316.3,1062.4 317.8,1062.1 319.3,1061.9 320.8,1061.8 322.3,1061.6 323.9,1061.5 325.4,1061.4 326.9,1061.3 328.4,1061.2 329.9,1061.2 331.4,1061.1 333.0,1061.1 334.5,1061.2 336.0,1061.2 337.5,1061.3 339.0,1061.3 340.5,1061.5 342.0,1061.6 343.6,1061.8 345.1,1062.0 346.6,1062.2 348.1,1062.5 349.6,1062.8 351.1,1063.1 352.7,1063.5 354.2,1063.9 355.7,1064.4 357.2,1064.9 358.7,1065.5 360.2,1066.1 361.7,1066.7 363.3,1067.4 364.8,1068.1 366.3,1068.9 367.8,1069.8 369.3,1070.7 370.8,1071.6 372.3,1072.5 373.9,1073.5 375.4,1074.6 376.9,1075.7 378.4,1076.8 379.9,1077.9 381.4,1079.0 383.0,1080.2 384.5,1081.4 386.0,1082.7 387.5,1083.9 389.0,1085.2 390.5,1086.4 392.0,1087.7 393.6,1089.0 395.1,1090.3 396.6,1091.6 398.1,1092.9 399.6,1094.2 401.1,1095.5 402.7,1096.8 404.2,1098.1 405.7,1099.3 407.2,1100.6 408.7,1101.8 410.2,1103.1 411.7,1104.3 413.3,1105.5 414.8,1106.7 416.3,1107.8 417.8,1109.0 419.3,1110.1 420.8,1111.2 422.3,1112.2 423.9,1113.3 425.4,1114.3 426.9,1115.2 428.4,1116.2 429.9,1117.1 431.4,1117.9 433.0,1118.7 434.5,1119.5 436.0,1120.2 437.5,1120.9 439.0,1121.6 440.5,1122.2 442.0,1122.7 443.6,1123.3 445.1,1123.7 446.6,1124.1 448.1,1124.5 449.6,1124.9 451.1,1125.2 452.7,1125.5 454.2,1125.7 455.7,1125.9 457.2,1126.1 458.7,1126.3 460.2,1126.4 461.7,1126.5 463.3,1126.6 464.8,1126.6 466.3,1126.7 467.8,1126.7 469.3,1126.7 470.8,1126.7 472.3,1126.6 473.9,1126.6 475.4,1126.5 476.9,1126.4 478.4,1126.3 479.9,1126.2 481.4,1126.0 483.0,1125.8 484.5,1125.7 486.0,1125.5 487.5,1125.2 489.0,1125.0 490.5,1124.7 492.0,1124.5 493.6,1124.2 495.1,1123.9 496.6,1123.5 498.1,1123.2 499.6,1122.8 501.1,1122.4 502.7,1122.1 504.2,1121.6 505.7,1121.2 507.2,1120.8 508.7,1120.3 510.2,1119.8 511.7,1119.3 513.3,1118.8 514.8,1118.3 516.3,1117.8 517.8,1117.2 519.3,1116.7 520.8,1116.1 522.3,1115.5 523.9,1114.9 525.4,1114.3 526.9,1113.7 528.4,1113.0 529.9,1112.4 531.4,1111.8 533.0,1111.1 534.5,1110.4 536.0,1109.7 537.5,1109.1 539.0,1108.4 540.5,1107.7 542.0,1107.0 543.6,1106.2 545.1,1105.5 546.6,1104.8 548.1,1104.1 549.6,1103.3 551.1,1102.6 552.7,1101.8 554.2,1101.1 555.7,1100.4 557.2,1099.6 558.7,1098.8 560.2,1098.1 561.7,1097.3 563.3,1096.6 564.8,1095.8 566.3,1095.0 567.8,1094.3 569.3,1093.5 570.8,1092.8 572.3,1092.0 573.9,1091.2 575.4,1090.5 576.9,1089.7 578.4,1089.0 579.9,1088.2 581.4,1087.5 583.0,1086.8 584.5,1086.0 586.0,1085.3 587.5,1084.6 589.0,1083.9 590.5,1083.1 592.0,1082.4 593.6,1081.7 595.1,1081.0 596.6,1080.4 598.1,1079.7 599.6,1079.0 601.1,1078.4 602.7,1077.7 604.2,1077.1 605.7,1076.4 607.2,1075.8 608.7,1075.2 610.2,1074.6 611.7,1074.0 613.3,1073.4 614.8,1072.9 616.3,1072.3 617.8,1071.8 619.3,1071.2 620.8,1070.7 622.3,1070.2 623.9,1069.7 625.4,1069.3 626.9,1068.8 628.4,1068.4 629.9,1068.0 631.4,1067.6 633.0,1067.2 634.5,1066.8 636.0,1066.4 637.5,1066.1 639.0,1065.8 640.5,1065.5 642.0,1065.2 643.6,1064.9 645.1,1064.7 646.6,1064.5 648.1,1064.3" fill="none" stroke="#e99bb5" stroke-width="6.2" stroke-linejoin="round" stroke-linecap="round"/>
<text x="682.5" y="1057.5" font-size="31" text-anchor="end" fill="#231815">10 mM</text>
<path d="M50.4 1076.0V1138.8H78.4" fill="none" stroke="#000" stroke-width="3.5" stroke-linejoin="miter"/>
<text x="32.7" y="1098.0" font-size="32.5" text-anchor="middle" fill="#000" transform="rotate(-90 32.7 1098.0)" textLength="81.0" lengthAdjust="spacingAndGlyphs">10 nS</text>
<text x="45.5" y="1177.6" font-size="31" text-anchor="start" fill="#000">2 s</text>
<text x="684.7" y="351.8" font-size="35" text-anchor="start" fill="#231815" font-weight="bold">E</text>
<clipPath id="clipE"><rect x="737.8" y="365.0" width="599.6000000000001" height="786.7"/></clipPath>
<g clip-path="url(#clipE)">
<polyline points="786.1,359.8 788.7,364.7 822.0,411.7 826.0,415.0 830.0,418.2 834.0,421.3 838.0,424.3 842.0,427.2 846.0,430.1 850.0,432.8 854.0,435.4 858.0,437.9 862.0,440.4 866.0,442.8 870.0,445.2 874.0,447.4 878.0,449.5 882.0,451.6 886.0,453.5 890.0,455.2 894.0,456.9 898.0,458.6 902.0,460.2 906.0,461.7 910.0,463.2 914.0,464.7 918.0,466.0 922.0,467.3 926.0,468.5 930.0,469.7 934.0,470.7 938.0,471.6 942.0,472.5 946.0,473.3 950.0,474.0 954.0,474.7 958.0,475.4 962.0,476.0 966.0,476.6 970.0,477.2 974.0,477.8 978.0,478.4 982.0,478.9 986.0,479.5 990.0,480.1 994.0,480.7 998.0,481.2 1002.0,481.7 1006.0,482.2 1010.0,482.7 1014.0,483.1 1018.0,483.6 1022.0,484.0 1026.0,484.4 1030.0,484.8 1033.1,485.1 1036.8,483.3 1041.4,475.9 1046.9,463.0 1049.7,448.3 1051.5,420.7 1055.2,405.1" fill="none" stroke="#8d1a42" stroke-width="3.6" stroke-linejoin="round" stroke-linecap="round"/>
<path d="M1054.8 402.0L1056.4 401.4L1058.0 400.6L1059.6 399.0L1061.2 398.0L1062.8 399.2L1064.4 398.3L1066.0 396.8L1067.6 397.1L1069.2 396.1L1070.8 394.8L1072.4 394.4L1074.0 391.5L1075.6 392.2L1077.2 391.2L1078.8 392.6L1080.4 393.9L1082.0 397.3L1083.6 400.9L1083.6 413.2L1082.0 408.3L1080.4 404.5L1078.8 403.5L1077.2 404.6L1075.6 402.9L1074.0 405.6L1072.4 405.7L1070.8 407.3L1069.2 408.6L1067.6 408.3L1066.0 410.8L1064.4 411.4L1062.8 412.2L1061.2 410.8L1059.6 410.3L1058.0 409.9L1056.4 410.1L1054.8 407.5Z" fill="#8d1a42" stroke="#8d1a42" stroke-width="2.5" stroke-linejoin="round"/>
<polyline points="1083.7,411.5 1086.5,399.6 1089.2,417.0 1092.0,396.8 1094.2,393.1 1096.6,400.5 1099.4,420.7 1100.8,441.0 1103.0,452.0" fill="none" stroke="#8d1a42" stroke-width="3.6" stroke-linejoin="round" stroke-linecap="round"/>
<path d="M1102.3 444.3L1103.9 446.4L1105.5 447.8L1107.1 452.4L1108.7 452.4L1110.3 453.5L1111.9 452.8L1113.5 454.9L1115.1 456.4L1116.7 455.7L1118.3 455.6L1119.9 457.1L1121.5 456.4L1123.1 456.3L1124.7 455.4L1126.3 455.1L1127.9 456.8L1129.5 455.1L1131.1 455.8L1132.7 455.6L1134.3 453.7L1135.9 453.4L1137.5 450.6L1139.1 449.9L1140.7 448.1L1142.3 447.6L1143.9 446.7L1145.5 446.7L1147.1 446.6L1148.7 450.4L1150.3 455.9L1151.9 461.0L1153.5 465.4L1155.1 466.1L1156.7 470.6L1158.3 469.0L1159.9 469.0L1161.5 469.1L1163.1 471.6L1164.7 471.2L1166.3 468.2L1167.9 471.0L1169.5 469.7L1171.1 469.7L1172.7 467.6L1174.3 467.7L1175.9 468.6L1177.5 467.9L1179.1 469.4L1180.7 473.5L1182.3 473.9L1183.9 478.2L1185.5 476.2L1187.1 476.4L1188.7 478.2L1190.3 477.5L1191.9 478.9L1193.5 478.4L1195.1 480.1L1196.7 481.1L1198.3 479.5L1199.9 479.4L1201.5 480.7L1203.1 482.0L1204.7 480.2L1206.3 481.0L1207.9 481.9L1209.5 481.3L1211.1 484.0L1212.7 484.3L1214.3 484.6L1215.9 484.8L1217.5 483.9L1219.1 484.1L1220.7 486.1L1222.3 484.7L1223.9 485.9L1225.5 485.9L1227.1 485.8L1228.7 485.2L1230.3 486.2L1231.9 486.9L1233.5 485.8L1235.1 486.4L1236.7 487.0L1238.3 485.0L1239.9 486.5L1241.5 487.0L1243.1 485.6L1244.7 487.0L1246.3 487.1L1247.9 487.4L1249.5 487.5L1251.1 487.4L1252.7 487.2L1254.3 487.9L1255.9 487.2L1257.5 486.4L1259.1 487.5L1260.7 488.0L1262.3 486.9L1263.9 487.9L1265.5 487.0L1267.1 487.9L1268.7 487.6L1270.3 488.0L1271.9 487.3L1273.5 488.2L1275.1 487.3L1276.7 488.4L1278.3 487.9L1279.9 488.1L1281.5 488.3L1283.1 487.8L1284.7 488.0L1286.3 487.8L1287.9 487.5L1289.5 488.1L1291.1 488.4L1292.7 488.3L1294.3 488.0L1295.9 488.3L1297.5 488.1L1299.1 488.2L1300.7 488.3L1302.3 489.1L1303.9 488.7L1305.5 488.4L1307.1 488.7L1308.7 488.5L1310.3 489.0L1311.9 488.5L1313.5 489.0L1315.1 488.8L1316.7 488.2L1318.3 489.1L1319.9 489.2L1321.5 488.9L1323.1 488.9L1324.7 489.0L1326.3 488.7L1327.9 488.8L1329.5 488.5L1331.1 489.7L1332.7 489.6L1334.3 489.5L1334.3 491.5L1332.7 491.9L1331.1 491.9L1329.5 491.8L1327.9 491.9L1326.3 491.9L1324.7 492.4L1323.1 491.8L1321.5 491.5L1319.9 492.0L1318.3 492.4L1316.7 491.9L1315.1 492.1L1313.5 492.0L1311.9 491.6L1310.3 491.3L1308.7 492.4L1307.1 491.9L1305.5 492.0L1303.9 491.5L1302.3 491.4L1300.7 492.3L1299.1 492.5L1297.5 492.4L1295.9 492.6L1294.3 491.8L1292.7 492.4L1291.1 492.0L1289.5 491.9L1287.9 491.3L1286.3 491.4L1284.7 491.4L1283.1 491.6L1281.5 491.5L1279.9 492.3L1278.3 491.7L1276.7 491.6L1275.1 491.7L1273.5 492.5L1271.9 491.7L1270.3 491.7L1268.7 492.3L1267.1 491.7L1265.5 491.2L1263.9 491.5L1262.3 491.5L1260.7 491.8L1259.1 491.1L1257.5 491.5L1255.9 491.7L1254.3 492.2L1252.7 492.2L1251.1 492.5L1249.5 491.2L1247.9 491.6L1246.3 492.5L1244.7 491.6L1243.1 492.5L1241.5 491.9L1239.9 491.8L1238.3 491.4L1236.7 492.5L1235.1 491.8L1233.5 491.6L1231.9 492.0L1230.3 491.8L1228.7 492.6L1227.1 491.5L1225.5 493.1L1223.9 492.0L1222.3 492.7L1220.7 490.8L1219.1 491.8L1217.5 491.7L1215.9 490.8L1214.3 492.7L1212.7 491.9L1211.1 492.1L1209.5 492.8L1207.9 492.6L1206.3 491.6L1204.7 491.3L1203.1 492.4L1201.5 491.4L1199.9 491.2L1198.3 492.3L1196.7 492.3L1195.1 490.8L1193.5 492.6L1191.9 491.9L1190.3 493.4L1188.7 493.3L1187.1 491.6L1185.5 492.2L1183.9 491.4L1182.3 493.5L1180.7 488.5L1179.1 487.1L1177.5 484.6L1175.9 483.7L1174.3 485.2L1172.7 485.2L1171.1 486.2L1169.5 484.6L1167.9 487.6L1166.3 486.7L1164.7 487.9L1163.1 487.4L1161.5 487.8L1159.9 487.2L1158.3 486.5L1156.7 488.5L1155.1 490.4L1153.5 488.8L1151.9 487.7L1150.3 486.5L1148.7 481.4L1147.1 475.3L1145.5 474.6L1143.9 475.3L1142.3 473.4L1140.7 475.7L1139.1 473.3L1137.5 470.5L1135.9 470.7L1134.3 471.1L1132.7 467.4L1131.1 466.3L1129.5 465.0L1127.9 465.3L1126.3 464.8L1124.7 465.6L1123.1 467.7L1121.5 467.6L1119.9 470.5L1118.3 469.8L1116.7 470.4L1115.1 473.8L1113.5 473.7L1111.9 475.5L1110.3 477.3L1108.7 478.6L1107.1 479.3L1105.5 485.8L1103.9 481.4L1102.3 471.3Z" fill="#8d1a42" stroke="#8d1a42" stroke-width="2.0" stroke-linejoin="round"/>
<polyline points="789.8,493.1 803.1,517.0 823.9,528.3 835.3,543.5 846.7,555.1 849.7,555.5 852.7,555.9 855.7,556.4 858.7,558.4 861.7,561.5 864.7,562.6 867.7,565.5 870.7,568.1 873.7,569.3 876.7,571.5 879.7,571.8 882.7,574.2 885.7,575.6 888.7,577.8 891.7,578.9 894.7,578.9 897.7,580.3 900.7,581.5 903.7,583.7 906.7,584.5 909.7,584.4 912.7,586.6 915.7,586.5 918.7,588.4 921.7,588.6 924.7,589.4 927.7,591.9 930.7,591.4 933.7,592.2 936.7,594.3 939.7,594.9 942.7,594.6 945.7,596.5 948.7,596.5 951.7,597.5 954.7,597.4 957.7,599.5 960.7,599.8 963.7,601.0 966.7,601.3 969.7,600.6 972.7,601.1 975.7,601.2 978.7,601.5 981.7,601.7 984.7,602.5 987.7,603.5 990.7,602.8 993.7,604.4 996.7,604.1 999.7,604.5 1000.1,604.8 1014.7,607.5 1018.4,606.6 1021.2,597.4 1025.8,586.3 1027.6,555.0 1030.4,531.1 1033.1,521.9 1035.9,536.6 1038.6,552.3 1044.2,531.1 1048.8,536.6 1052.4,520.1 1055.2,529.3 1058.9,540.3 1063.5,525.6 1065.3,505.4 1067.2,500.8 1069.0,516.4 1070.8,544.0 1073.6,551.4" fill="none" stroke="#cd1c4e" stroke-width="3.6" stroke-linejoin="round" stroke-linecap="round"/>
<path d="M1073.2 550.2L1074.8 546.7L1076.4 544.0L1078.0 543.3L1079.6 541.3L1081.2 540.0L1082.8 539.1L1084.4 541.2L1086.0 542.1L1087.6 549.3L1089.2 558.2L1090.8 564.4L1092.4 568.9L1094.0 575.2L1095.6 578.3L1097.2 580.7L1098.8 582.9L1100.4 582.1L1102.0 583.8L1103.6 585.3L1105.2 585.7L1106.8 587.3L1108.4 585.4L1110.0 587.6L1111.6 586.0L1113.2 585.3L1114.8 581.9L1116.4 579.5L1118.0 582.3L1119.6 586.9L1121.2 590.7L1122.8 591.7L1124.4 592.3L1126.0 592.4L1127.6 592.3L1129.2 593.2L1130.8 592.4L1132.4 594.4L1134.0 595.6L1135.6 597.6L1137.2 597.8L1138.8 598.0L1140.4 599.3L1142.0 599.7L1143.6 599.6L1145.2 601.7L1146.8 602.6L1148.4 601.5L1150.0 602.4L1151.6 603.1L1153.2 604.4L1154.8 603.8L1156.4 605.9L1158.0 604.7L1159.6 605.3L1161.2 605.6L1162.8 607.1L1164.4 607.7L1166.0 608.2L1167.6 607.6L1169.2 607.5L1170.8 609.0L1172.4 607.5L1174.0 608.1L1175.6 608.0L1177.2 608.4L1178.8 609.3L1180.4 609.9L1182.0 609.5L1183.6 610.2L1185.2 610.7L1186.8 610.2L1188.4 609.5L1190.0 609.8L1191.6 610.4L1193.2 610.5L1194.8 610.0L1196.4 610.7L1198.0 610.9L1199.6 610.3L1201.2 610.2L1202.8 611.6L1204.4 611.4L1206.0 611.4L1207.6 610.7L1209.2 611.6L1210.8 611.5L1212.4 611.0L1214.0 610.9L1215.6 611.9L1217.2 611.8L1218.8 611.9L1220.4 612.1L1222.0 611.9L1223.6 611.2L1225.2 611.8L1226.8 611.0L1228.4 611.3L1230.0 612.3L1231.6 612.3L1233.2 611.3L1234.8 611.8L1236.4 611.7L1238.0 611.5L1239.6 611.2L1241.2 611.2L1242.8 611.2L1244.4 611.4L1246.0 611.5L1247.6 611.5L1249.2 612.2L1250.8 611.3L1252.4 611.5L1254.0 612.1L1255.6 611.4L1257.2 611.7L1258.8 611.9L1260.4 612.0L1262.0 612.1L1263.6 612.2L1265.2 612.2L1266.8 611.6L1268.4 611.6L1270.0 611.5L1271.6 611.6L1273.2 611.4L1274.8 611.4L1276.4 612.2L1278.0 612.2L1279.6 611.7L1281.2 612.3L1282.8 611.7L1284.4 611.5L1286.0 612.4L1287.6 612.6L1289.2 612.3L1290.8 612.1L1292.4 611.9L1294.0 612.5L1295.6 612.3L1297.2 612.1L1298.8 612.5L1300.4 612.7L1302.0 612.4L1303.6 611.7L1305.2 611.6L1306.8 611.9L1308.4 611.8L1310.0 612.6L1311.6 612.4L1313.2 611.7L1314.8 611.6L1316.4 612.4L1318.0 612.2L1319.6 611.8L1321.2 612.1L1322.8 612.2L1324.4 612.4L1326.0 612.2L1327.6 612.0L1329.2 612.0L1330.8 612.6L1332.4 612.9L1334.0 612.2L1335.6 612.4L1335.6 615.4L1334.0 615.1L1332.4 615.4L1330.8 615.1L1329.2 615.4L1327.6 615.2L1326.0 615.1L1324.4 615.7L1322.8 614.7L1321.2 615.7L1319.6 615.2L1318.0 615.4L1316.4 615.4L1314.8 614.7L1313.2 615.4L1311.6 615.0L1310.0 615.0L1308.4 615.4L1306.8 615.3L1305.2 615.1L1303.6 615.8L1302.0 615.6L1300.4 615.4L1298.8 615.1L1297.2 615.2L1295.6 615.1L1294.0 615.2L1292.4 615.2L1290.8 615.7L1289.2 615.4L1287.6 615.3L1286.0 614.8L1284.4 615.3L1282.8 615.1L1281.2 615.4L1279.6 615.5L1278.0 615.1L1276.4 615.0L1274.8 615.1L1273.2 615.2L1271.6 615.1L1270.0 615.6L1268.4 615.1L1266.8 615.6L1265.2 614.8L1263.6 615.1L1262.0 615.4L1260.4 615.0L1258.8 615.3L1257.2 615.3L1255.6 614.8L1254.0 615.2L1252.4 614.7L1250.8 615.2L1249.2 615.1L1247.6 615.4L1246.0 614.9L1244.4 614.5L1242.8 614.6L1241.2 614.8L1239.6 615.0L1238.0 614.7L1236.4 615.4L1234.8 615.5L1233.2 615.4L1231.6 614.8L1230.0 615.3L1228.4 614.4L1226.8 615.5L1225.2 615.2L1223.6 615.3L1222.0 615.6L1220.4 615.0L1218.8 614.8L1217.2 614.6L1215.6 615.0L1214.0 614.6L1212.4 614.9L1210.8 614.9L1209.2 614.9L1207.6 615.5L1206.0 615.8L1204.4 614.9L1202.8 615.6L1201.2 614.6L1199.6 615.4L1198.0 615.7L1196.4 614.8L1194.8 615.3L1193.2 615.0L1191.6 615.1L1190.0 615.0L1188.4 614.5L1186.8 614.7L1185.2 614.6L1183.6 614.5L1182.0 615.4L1180.4 615.5L1178.8 615.5L1177.2 613.9L1175.6 614.2L1174.0 613.5L1172.4 614.7L1170.8 615.7L1169.2 614.7L1167.6 615.5L1166.0 614.9L1164.4 614.9L1162.8 614.9L1161.2 614.4L1159.6 613.9L1158.0 615.7L1156.4 614.8L1154.8 612.5L1153.2 614.2L1151.6 615.3L1150.0 612.9L1148.4 613.8L1146.8 612.3L1145.2 613.4L1143.6 613.1L1142.0 614.0L1140.4 613.6L1138.8 613.7L1137.2 613.1L1135.6 612.0L1134.0 612.1L1132.4 611.4L1130.8 612.0L1129.2 612.3L1127.6 610.4L1126.0 608.9L1124.4 606.5L1122.8 606.4L1121.2 605.4L1119.6 602.1L1118.0 603.8L1116.4 600.4L1114.8 600.0L1113.2 599.5L1111.6 600.5L1110.0 599.1L1108.4 599.7L1106.8 598.9L1105.2 598.1L1103.6 600.5L1102.0 602.1L1100.4 605.4L1098.8 605.4L1097.2 608.5L1095.6 611.0L1094.0 611.3L1092.4 608.1L1090.8 604.6L1089.2 598.9L1087.6 590.3L1086.0 584.6L1084.4 582.7L1082.8 577.1L1081.2 575.3L1079.6 573.1L1078.0 568.1L1076.4 565.0L1074.8 561.7L1073.2 558.0Z" fill="#cd1c4e" stroke="#cd1c4e" stroke-width="2.0" stroke-linejoin="round"/>
<polyline points="1287.6,613.0 1287.6,609.9" fill="none" stroke="#cd1c4e" stroke-width="2.5" stroke-linejoin="round" stroke-linecap="round"/>
<polyline points="757.8,623.7 766.8,638.4 770.8,642.6 774.8,646.6 778.8,650.5 782.8,654.3 786.8,658.0 790.8,661.5 794.8,664.8 798.8,668.0 802.8,671.1 806.8,674.0 810.8,676.7 814.8,679.5 818.8,682.2 822.8,685.0 826.8,687.7 830.8,690.5 834.8,693.2 838.8,695.8 842.8,698.5 846.8,701.0 850.8,703.5 854.8,706.0 858.8,708.6 862.8,711.0 866.8,713.4 870.8,715.7 874.8,717.9 878.8,719.9 882.8,721.7 886.8,723.3 890.8,724.9 894.8,726.4 898.8,727.7 902.8,728.9 906.8,730.0 910.8,730.9 914.8,731.8 918.8,732.6 922.8,733.3 926.8,734.0 930.8,734.7 934.8,735.4 938.8,736.0 942.8,736.6 946.8,737.2 950.8,737.8 954.8,738.4 958.8,739.0 962.8,739.6 966.8,740.3 968.3,740.5 971.0,737.8 975.1,736.8 977.5,693.6 979.9,638.4 981.3,628.3 983.0,656.8 984.3,689.0 985.7,649.4 987.2,684.4 989.4,659.6 991.6,682.6 994.0,677.0 996.4,676.1 998.6,689.9 1000.5,702.8 1004.1,708.3 1006.9,712.0 1011.5,724.9 1015.2,733.2 1020.7,735.9 1024.4,736.8 1027.7,741.4 1029.5,710.2 1031.7,730.4 1033.6,717.5 1036.3,728.6 1039.1,724.0 1042.8,730.4 1046.5,728.6 1051.1,736.8 1053.8,741.4 1059.3,735.9 1063.9,745.1 1066.7,737.8 1070.0,742.4 1070.2,739.5 1072.7,739.1 1075.2,742.0 1077.7,739.7 1080.2,742.3 1082.7,742.0 1085.2,741.1 1087.7,743.4 1090.2,742.1 1092.7,744.0 1095.2,743.2 1097.7,743.7 1100.2,744.9 1102.7,746.2 1105.2,744.2 1107.7,744.7 1110.2,745.8 1112.7,746.7 1115.2,745.9 1117.7,745.6 1120.2,747.0 1122.7,745.0 1125.2,746.9 1127.7,745.8 1130.2,745.6 1132.7,745.7 1135.2,746.2 1137.7,747.1 1140.2,746.1 1142.7,746.7 1145.2,746.8 1147.7,746.5 1150.2,746.8 1152.7,746.2 1155.2,746.3 1157.7,746.5 1160.2,747.0 1162.7,746.8 1165.2,746.8 1167.7,747.1 1170.2,747.0 1172.7,746.9 1175.2,747.4 1177.7,747.3 1180.2,746.9 1182.7,747.3 1185.2,747.3 1187.7,747.6 1190.2,747.5 1192.7,747.2 1195.2,747.8 1197.7,747.1 1200.2,747.4 1202.7,747.7 1205.2,747.2 1207.7,747.6 1210.2,747.2 1212.7,747.7 1215.2,747.8 1217.7,747.7 1220.2,747.9 1222.7,747.5 1225.2,747.8 1227.7,747.7 1230.2,747.7 1232.7,747.6 1235.2,747.9 1237.7,748.0 1240.2,747.7 1242.7,747.8 1245.2,747.4 1247.7,747.9 1250.2,747.8 1252.7,748.1 1255.2,748.0 1257.7,747.6 1260.2,747.7 1262.7,747.9 1265.2,747.5 1267.7,747.8 1270.2,747.6 1272.7,747.5 1275.2,747.5 1277.7,748.0 1280.2,747.6 1282.7,747.7 1285.2,747.8 1287.7,748.1 1290.2,747.6 1292.7,747.8 1295.2,747.9 1297.7,748.1 1300.2,748.1 1302.7,748.1 1305.2,747.8 1307.7,747.9 1310.2,747.8 1312.7,748.1 1315.2,748.2 1317.7,747.8 1320.2,747.8 1322.7,747.8 1325.2,747.8 1327.7,748.0 1330.2,748.0 1332.7,747.9 1335.2,747.8 1337.2,748.0" fill="none" stroke="#de486f" stroke-width="3.6" stroke-linejoin="round" stroke-linecap="round"/>
<polyline points="735.5,834.9 739.5,835.9 743.5,837.0 747.5,838.1 751.5,839.2 755.5,840.4 759.5,841.6 763.5,842.9 767.5,844.1 771.5,845.4 775.5,846.7 779.5,848.1 783.5,849.4 787.5,850.8 791.5,852.3 795.5,854.0 799.5,855.6 803.5,857.3 807.5,859.0 811.5,860.5 815.5,862.0 819.5,863.2 823.5,864.4 827.5,865.5 831.5,866.6 835.5,867.6 839.5,868.6 843.5,869.5 847.5,870.5 851.5,871.3 855.5,872.2 859.5,873.0 863.5,874.0 867.5,874.9 871.5,875.8 875.5,876.6 879.5,877.4 883.5,878.0 887.5,878.4 891.5,878.5 895.5,878.5 899.5,878.5 903.5,878.5 907.5,878.5 911.5,879.1 915.5,880.0 916.8,880.3 922.3,860.1 925.0,831.6 927.8,794.8 930.6,774.6 932.9,764.4 935.2,778.2 937.9,796.6 941.6,809.5 945.3,824.2 949.0,839.0 952.6,850.0 958.2,861.0 963.7,868.4 969.2,873.0 975.6,875.7 978.4,855.5 980.6,845.4 983.0,851.8 987.6,852.8 993.1,860.1 998.6,865.6 1004.1,871.1 1006.9,874.8 1008.2,868.4 1009.7,877.6 1012.4,867.5 1014.3,876.7 1018.9,869.3 1023.5,878.5 1027.1,879.4 1030.8,874.8 1033.6,879.4 1035.8,874.8 1038.2,881.3 1041.9,875.7 1047.4,882.7 1053.8,879.4 1056.6,881.3 1060.3,878.5 1066.7,881.6 1070.0,880.9 1072.0,880.3 1078.0,880.9 1084.0,880.6 1090.0,881.1 1096.0,881.0 1102.0,881.2 1108.0,881.7 1114.0,881.4 1120.0,881.8 1126.0,881.8 1132.0,881.9 1138.0,882.0 1144.0,881.9 1150.0,882.2 1156.0,881.8 1162.0,881.9 1168.0,881.9 1174.0,882.0 1180.0,882.1 1186.0,882.4 1192.0,882.1 1198.0,882.0 1204.0,882.1 1210.0,882.5 1216.0,882.1 1222.0,882.4 1228.0,882.3 1234.0,882.4 1240.0,882.3 1246.0,882.5 1252.0,882.4 1258.0,882.5 1264.0,882.7 1270.0,882.5 1276.0,882.3 1282.0,882.3 1288.0,882.8 1294.0,882.6 1300.0,882.4 1306.0,882.8 1312.0,882.7 1318.0,882.8 1324.0,882.9 1330.0,882.6 1336.0,882.7 1337.2,882.7" fill="none" stroke="#c6617f" stroke-width="3.6" stroke-linejoin="round" stroke-linecap="round"/>
<polyline points="1287.2,882.3 1287.2,879.7" fill="none" stroke="#c6617f" stroke-width="2.2" stroke-linejoin="round" stroke-linecap="round"/>
<polyline points="731.8,960.0 746.6,961.9 766.8,970.2 781.5,973.8 812.8,984.0 840.4,992.2 858.8,997.8 865.2,1001.4 868.4,1010.6 869.8,935.2 871.3,892.9 873.1,929.7 874.1,920.5 875.4,953.6 876.6,935.2 878.1,959.1 879.4,949.9 880.9,972.0 882.2,961.0 883.6,990.4 885.5,972.0 887.3,995.9 889.2,986.7 891.0,983.0 892.8,997.8 894.3,1009.7 896.1,990.4 897.8,944.4 899.6,918.6 901.1,914.0 903.0,922.3 904.8,946.2 907.6,968.3 911.2,979.4 915.8,988.6 918.6,997.8 920.4,987.6 922.3,1001.4 924.1,992.2 926.0,1008.8 927.8,997.8 929.6,1010.6 932.4,999.6 935.2,1007.0 937.9,1003.3 941.6,1007.9 944.4,1005.1 947.1,1010.6 949.0,990.4 951.2,972.0 953.0,983.0 955.4,997.8 959.1,1006.0 963.7,1006.0 969.2,1004.2 974.7,1007.0 978.4,1010.6 980.6,1001.4 983.0,1007.0 985.7,1011.6 989.4,1007.9 996.8,1011.0 1002.3,1009.7 1006.0,1012.1 1017.0,1010.6 1031.7,1012.5 1070.0,1012.1 1073.9,1011.5 1079.9,1011.5 1085.9,1011.5 1091.9,1011.9 1097.9,1011.6 1103.9,1011.9 1109.9,1012.2 1115.9,1011.8 1121.9,1012.1 1127.9,1012.2 1133.9,1012.0 1139.9,1012.2 1145.9,1012.4 1151.9,1012.3 1157.9,1012.4 1163.9,1012.2 1169.9,1012.2 1175.9,1012.2 1181.9,1012.4 1187.9,1012.6 1193.9,1012.4 1199.9,1012.5 1205.9,1012.3 1211.9,1012.5 1217.9,1012.2 1223.9,1012.3 1229.9,1012.5 1235.9,1012.6 1241.9,1012.4 1247.9,1012.3 1253.9,1012.4 1259.9,1012.4 1265.9,1012.4 1271.9,1012.7 1277.9,1012.4 1283.9,1012.7 1289.9,1012.8 1295.9,1012.4 1301.9,1012.5 1307.9,1012.6 1313.9,1012.4 1319.9,1012.6 1325.9,1012.8 1331.9,1012.4 1337.2,1012.7" fill="none" stroke="#dd819c" stroke-width="3.8" stroke-linejoin="round" stroke-linecap="round"/>
<polyline points="1287.2,1012.3 1287.2,1001.3" fill="none" stroke="#dd819c" stroke-width="2.6" stroke-linejoin="round" stroke-linecap="round"/>
</g>
<line x1="737.8" y1="495.7" x2="1337.4" y2="495.7" stroke="#000" stroke-width="3.4"/>
<line x1="737.8" y1="626.5" x2="1337.4" y2="626.5" stroke="#000" stroke-width="3.4"/>
<line x1="737.8" y1="757.4" x2="1337.4" y2="757.4" stroke="#000" stroke-width="3.4"/>
<line x1="737.8" y1="887.8" x2="1337.4" y2="887.8" stroke="#000" stroke-width="3.4"/>
<line x1="737.8" y1="1018.2" x2="1337.4" y2="1018.2" stroke="#000" stroke-width="3.4"/>
<rect x="737.8" y="365.0" width="599.6" height="784.7" fill="none" stroke="#000" stroke-width="3.4"/>
<polyline points="733.7,1139.8 754.8,1142.2 770.5,1124.7 784.8,1102.6 795.9,1064.0 805.4,1128.4 812.8,1134.8 822.0,1139.8 829.4,1138.5 840.4,1119.2 846.3,1116.4 851.4,1127.5 857.0,1135.7 861.6,1138.5 864.3,1137.6 868.4,1142.2 871.7,1135.7 877.2,1137.6 882.7,1137.2 890.1,1139.4 894.7,1141.3 897.4,1139.8 900.2,1141.6 903.9,1139.8 908.5,1140.9 914.0,1142.7 932.4,1144.0 969.2,1144.9 1070.0,1145.5 1073.9,1144.8 1337.2,1145.4" fill="none" stroke="#e899b3" stroke-width="4.0" stroke-linejoin="round" stroke-linecap="round"/>
<polyline points="1287.2,1144.5 1287.2,1141.8" fill="none" stroke="#e899b3" stroke-width="2.2" stroke-linejoin="round" stroke-linecap="round"/>
<line x1="748.7" y1="1149.7" x2="748.7" y2="1144.7" stroke="#000" stroke-width="3.6"/>
<line x1="769.6" y1="1149.7" x2="769.6" y2="1144.7" stroke="#000" stroke-width="3.6"/>
<line x1="785.8" y1="1149.7" x2="785.8" y2="1144.7" stroke="#000" stroke-width="3.6"/>
<line x1="799.1" y1="1149.7" x2="799.1" y2="1144.7" stroke="#000" stroke-width="3.6"/>
<line x1="810.3" y1="1149.7" x2="810.3" y2="1144.7" stroke="#000" stroke-width="3.6"/>
<line x1="820.0" y1="1149.7" x2="820.0" y2="1144.7" stroke="#000" stroke-width="3.6"/>
<line x1="828.5" y1="1149.7" x2="828.5" y2="1144.7" stroke="#000" stroke-width="3.6"/>
<line x1="836.2" y1="1149.7" x2="836.2" y2="1140.1" stroke="#000" stroke-width="3.6"/>
<line x1="886.6" y1="1149.7" x2="886.6" y2="1144.7" stroke="#000" stroke-width="3.6"/>
<line x1="916.1" y1="1149.7" x2="916.1" y2="1144.7" stroke="#000" stroke-width="3.6"/>
<line x1="937.0" y1="1149.7" x2="937.0" y2="1144.7" stroke="#000" stroke-width="3.6"/>
<line x1="953.2" y1="1149.7" x2="953.2" y2="1144.7" stroke="#000" stroke-width="3.6"/>
<line x1="966.5" y1="1149.7" x2="966.5" y2="1144.7" stroke="#000" stroke-width="3.6"/>
<line x1="977.7" y1="1149.7" x2="977.7" y2="1144.7" stroke="#000" stroke-width="3.6"/>
<line x1="987.4" y1="1149.7" x2="987.4" y2="1144.7" stroke="#000" stroke-width="3.6"/>
<line x1="995.9" y1="1149.7" x2="995.9" y2="1144.7" stroke="#000" stroke-width="3.6"/>
<line x1="1003.6" y1="1149.7" x2="1003.6" y2="1140.1" stroke="#000" stroke-width="3.6"/>
<line x1="1054.0" y1="1149.7" x2="1054.0" y2="1144.7" stroke="#000" stroke-width="3.6"/>
<line x1="1083.5" y1="1149.7" x2="1083.5" y2="1144.7" stroke="#000" stroke-width="3.6"/>
<line x1="1104.4" y1="1149.7" x2="1104.4" y2="1144.7" stroke="#000" stroke-width="3.6"/>
<line x1="1120.6" y1="1149.7" x2="1120.6" y2="1144.7" stroke="#000" stroke-width="3.6"/>
<line x1="1133.9" y1="1149.7" x2="1133.9" y2="1144.7" stroke="#000" stroke-width="3.6"/>
<line x1="1145.1" y1="1149.7" x2="1145.1" y2="1144.7" stroke="#000" stroke-width="3.6"/>
<line x1="1154.8" y1="1149.7" x2="1154.8" y2="1144.7" stroke="#000" stroke-width="3.6"/>
<line x1="1163.3" y1="1149.7" x2="1163.3" y2="1144.7" stroke="#000" stroke-width="3.6"/>
<line x1="1171.0" y1="1149.7" x2="1171.0" y2="1140.1" stroke="#000" stroke-width="3.6"/>
<line x1="1221.4" y1="1149.7" x2="1221.4" y2="1144.7" stroke="#000" stroke-width="3.6"/>
<line x1="1250.9" y1="1149.7" x2="1250.9" y2="1144.7" stroke="#000" stroke-width="3.6"/>
<line x1="1271.8" y1="1149.7" x2="1271.8" y2="1144.7" stroke="#000" stroke-width="3.6"/>
<line x1="1288.0" y1="1149.7" x2="1288.0" y2="1144.7" stroke="#000" stroke-width="3.6"/>
<line x1="1301.3" y1="1149.7" x2="1301.3" y2="1144.7" stroke="#000" stroke-width="3.6"/>
<line x1="1312.5" y1="1149.7" x2="1312.5" y2="1144.7" stroke="#000" stroke-width="3.6"/>
<line x1="1322.2" y1="1149.7" x2="1322.2" y2="1144.7" stroke="#000" stroke-width="3.6"/>
<line x1="1330.7" y1="1149.7" x2="1330.7" y2="1144.7" stroke="#000" stroke-width="3.6"/>
<text x="1329.5" y="400.3" font-size="31" text-anchor="end" fill="#231815">1.0 M</text>
<text x="1329.5" y="537.8" font-size="31" text-anchor="end" fill="#231815">0.5 M</text>
<text x="1329.5" y="659.8" font-size="31" text-anchor="end" fill="#231815">0.2 M</text>
<text x="1329.5" y="790.3" font-size="31" text-anchor="end" fill="#231815">0.1 M</text>
<text x="1332.5" y="924.8" font-size="31" text-anchor="end" fill="#231815">50 mM</text>
<text x="1330.5" y="1051.7" font-size="31" text-anchor="end" fill="#231815">10 mM</text>
<text x="826.9" y="1184.3" font-size="32" text-anchor="middle" fill="#000" textLength="41.6" lengthAdjust="spacingAndGlyphs">0.1</text>
<text x="990.8" y="1184.3" font-size="32" text-anchor="middle" fill="#000" textLength="16.6" lengthAdjust="spacingAndGlyphs">1</text>
<text x="1159.3" y="1184.3" font-size="32" text-anchor="middle" fill="#000" textLength="33.3" lengthAdjust="spacingAndGlyphs">10</text>
<text x="1328.5" y="1184.3" font-size="32" text-anchor="middle" fill="#000" textLength="49.9" lengthAdjust="spacingAndGlyphs">100</text>
<text x="1042.3" y="1220.6" font-size="31" text-anchor="middle" fill="#000"><tspan font-style="italic">Frequency</tspan> / Hz</text>
<text x="718.0" y="732.9" font-size="30.8" text-anchor="middle" fill="#000" transform="rotate(-90 718.0 732.9)"><tspan font-style="italic">Amplitude</tspan> / arb. units</text>
<text x="1373.0" y="351.0" font-size="35" text-anchor="start" fill="#231815" font-weight="bold">F</text>
<rect x="1476.0" y="1138.7" width="49.2" height="11.2" fill="url(#bg)"/>
<rect x="1572.0" y="1117.9" width="49.2" height="32.0" fill="url(#bg)"/>
<rect x="1668.0" y="1075.8" width="49.2" height="74.1" fill="url(#bg)"/>
<rect x="1764.0" y="1006.0" width="49.2" height="143.9" fill="url(#bg)"/>
<rect x="1860.0" y="679.8" width="49.2" height="470.1" fill="url(#bg)"/>
<rect x="1956.0" y="467.0" width="49.2" height="682.9" fill="url(#bg)"/>
<line x1="1452.1" y1="1149.9" x2="1461.9" y2="1149.9" stroke="#000" stroke-width="3.8"/>
<text x="1448.3" y="1160.5" font-size="32.5" text-anchor="end" fill="#000" textLength="17.2" lengthAdjust="spacingAndGlyphs">0</text>
<line x1="1452.1" y1="1051.8" x2="1456.9" y2="1051.8" stroke="#000" stroke-width="3.6"/>
<line x1="1452.1" y1="953.7" x2="1461.9" y2="953.7" stroke="#000" stroke-width="3.8"/>
<text x="1448.3" y="964.3" font-size="32.5" text-anchor="end" fill="#000" textLength="17.2" lengthAdjust="spacingAndGlyphs">1</text>
<line x1="1452.1" y1="855.5" x2="1456.9" y2="855.5" stroke="#000" stroke-width="3.6"/>
<line x1="1452.1" y1="757.4" x2="1461.9" y2="757.4" stroke="#000" stroke-width="3.8"/>
<text x="1448.3" y="768.0" font-size="32.5" text-anchor="end" fill="#000" textLength="17.2" lengthAdjust="spacingAndGlyphs">2</text>
<line x1="1452.1" y1="659.3" x2="1456.9" y2="659.3" stroke="#000" stroke-width="3.6"/>
<line x1="1452.1" y1="561.1" x2="1461.9" y2="561.1" stroke="#000" stroke-width="3.8"/>
<text x="1448.3" y="571.8" font-size="32.5" text-anchor="end" fill="#000" textLength="17.2" lengthAdjust="spacingAndGlyphs">3</text>
<line x1="1452.1" y1="463.0" x2="1456.9" y2="463.0" stroke="#000" stroke-width="3.6"/>
<line x1="1452.1" y1="364.9" x2="1461.9" y2="364.9" stroke="#000" stroke-width="3.8"/>
<text x="1448.3" y="375.5" font-size="32.5" text-anchor="end" fill="#000" textLength="17.2" lengthAdjust="spacingAndGlyphs">4</text>
<rect x="1452.1" y="364.9" width="577.6" height="785.0" fill="none" stroke="#000" stroke-width="3.6"/>
<text x="1476.7" y="1172.9" font-size="30.3" text-anchor="start" fill="#000" transform="rotate(45 1476.7 1172.9)">10 mM</text>
<text x="1577.6" y="1172.6" font-size="30.3" text-anchor="start" fill="#000" transform="rotate(45 1577.6 1172.6)">50 mM</text>
<text x="1687.6" y="1172.6" font-size="30.3" text-anchor="start" fill="#000" transform="rotate(45 1687.6 1172.6)">0.1 M</text>
<text x="1781.0" y="1172.6" font-size="30.3" text-anchor="start" fill="#000" transform="rotate(45 1781.0 1172.6)">0.2 M</text>
<text x="1873.0" y="1172.6" font-size="30.3" text-anchor="start" fill="#000" transform="rotate(45 1873.0 1172.6)">0.5 M</text>
<text x="1968.1" y="1172.6" font-size="30.3" text-anchor="start" fill="#000" transform="rotate(45 1968.1 1172.6)">1.0 M</text>
<text x="1779.5" y="1253.5" font-size="31" text-anchor="middle" fill="#000" font-style="italic">C(KCl)</text>
<text x="1406.0" y="749.8" font-size="31" text-anchor="middle" fill="#000" transform="rotate(-90 1406.0 749.8)"><tspan font-style="italic">Frequency</tspan> / Hz</text>
<text x="1372.0" y="1245.0" font-size="35" text-anchor="start" fill="#231815" font-weight="bold">I</text>
<rect x="1604.3" y="1977.0" width="44.0" height="83.8" fill="url(#bg)"/>
<rect x="1676.3" y="1951.0" width="44.0" height="109.8" fill="url(#bg)"/>
<rect x="1748.3" y="1421.0" width="44.0" height="639.8" fill="url(#bg)"/>
<rect x="1820.3" y="1593.0" width="44.0" height="467.8" fill="url(#bg)"/>
<rect x="1892.3" y="1689.0" width="44.0" height="371.8" fill="url(#bg)"/>
<rect x="1964.3" y="1823.0" width="44.0" height="237.8" fill="url(#bg)"/>
<line x1="1445.9" y1="2059.8" x2="1455.7" y2="2059.8" stroke="#000" stroke-width="3.8"/>
<text x="1434.4" y="2074.1" font-size="32" text-anchor="end" fill="#000" textLength="60.3" lengthAdjust="spacingAndGlyphs">0.00</text>
<line x1="1445.9" y1="1981.3" x2="1450.7" y2="1981.3" stroke="#000" stroke-width="3.6"/>
<line x1="1445.9" y1="1902.8" x2="1455.7" y2="1902.8" stroke="#000" stroke-width="3.8"/>
<text x="1434.4" y="1917.1" font-size="32" text-anchor="end" fill="#000" textLength="60.3" lengthAdjust="spacingAndGlyphs">0.05</text>
<line x1="1445.9" y1="1824.3" x2="1450.7" y2="1824.3" stroke="#000" stroke-width="3.6"/>
<line x1="1445.9" y1="1745.8" x2="1455.7" y2="1745.8" stroke="#000" stroke-width="3.8"/>
<text x="1434.4" y="1760.1" font-size="32" text-anchor="end" fill="#000" textLength="60.3" lengthAdjust="spacingAndGlyphs">0.10</text>
<line x1="1445.9" y1="1667.3" x2="1450.7" y2="1667.3" stroke="#000" stroke-width="3.6"/>
<line x1="1445.9" y1="1588.8" x2="1455.7" y2="1588.8" stroke="#000" stroke-width="3.8"/>
<text x="1434.4" y="1603.1" font-size="32" text-anchor="end" fill="#000" textLength="60.3" lengthAdjust="spacingAndGlyphs">0.15</text>
<line x1="1445.9" y1="1510.3" x2="1450.7" y2="1510.3" stroke="#000" stroke-width="3.6"/>
<line x1="1445.9" y1="1431.8" x2="1455.7" y2="1431.8" stroke="#000" stroke-width="3.8"/>
<text x="1434.4" y="1446.1" font-size="32" text-anchor="end" fill="#000" textLength="60.3" lengthAdjust="spacingAndGlyphs">0.20</text>
<line x1="1445.9" y1="1353.3" x2="1450.7" y2="1353.3" stroke="#000" stroke-width="3.6"/>
<line x1="1445.9" y1="1274.8" x2="1455.7" y2="1274.8" stroke="#000" stroke-width="3.8"/>
<text x="1434.4" y="1289.1" font-size="32" text-anchor="end" fill="#000" textLength="60.3" lengthAdjust="spacingAndGlyphs">0.25</text>
<line x1="1445.9" y1="2059.8" x2="2022.0" y2="2059.8" stroke="#000" stroke-width="3.9" stroke-dasharray="14 6.7" stroke-dashoffset="5.5"/>
<rect x="1445.9" y="1274.9" width="576.1" height="816.2" fill="none" stroke="#000" stroke-width="3.7"/>
<text x="1477.3" y="2106.5" font-size="31" text-anchor="start" fill="#000" transform="rotate(45 1477.3 2106.5)">10 µM</text>
<text x="1541.7" y="2106.5" font-size="31" text-anchor="start" fill="#000" transform="rotate(45 1541.7 2106.5)">20 µM</text>
<text x="1623.6" y="2106.5" font-size="31" text-anchor="start" fill="#000" transform="rotate(45 1623.6 2106.5)">30 µM</text>
<text x="1691.4" y="2106.5" font-size="31" text-anchor="start" fill="#000" transform="rotate(45 1691.4 2106.5)">50 µM</text>
<text x="1755.8" y="2106.5" font-size="31" text-anchor="start" fill="#000" transform="rotate(45 1755.8 2106.5)">0.1 mM</text>
<text x="1833.9" y="2106.5" font-size="31" text-anchor="start" fill="#000" transform="rotate(45 1833.9 2106.5)">0.2 mM</text>
<text x="1911.2" y="2106.5" font-size="31" text-anchor="start" fill="#000" transform="rotate(45 1911.2 2106.5)">0.5 mM</text>
<text x="1977.5" y="2106.5" font-size="31" text-anchor="start" fill="#000" transform="rotate(45 1977.5 2106.5)">1 mM</text>
<text x="1649.0" y="2208.6" font-size="31" text-anchor="start" fill="#000" font-style="italic">C(Fe(CN)<tspan font-size="19" dy="9">6</tspan><tspan font-size="19" dy="-18">3-</tspan><tspan dy="9">)</tspan></text>
<text x="1359.2" y="1660.5" font-size="31" text-anchor="middle" fill="#000" transform="rotate(-90 1359.2 1660.5)"><tspan font-style="italic">Frequency</tspan> / Hz</text>
<text x="0.0" y="1243.5" font-size="35" text-anchor="start" fill="#231815" font-weight="bold">G</text>
<polyline points="61.7,1326.0 67.7,1326.2 73.7,1326.6 79.7,1326.1 85.7,1326.2 91.7,1326.3 97.7,1326.0 103.7,1326.3 109.7,1326.5 115.7,1326.7 121.7,1326.0 127.7,1326.3 133.7,1326.1 139.7,1326.9 145.7,1326.8 151.7,1326.2 157.7,1327.1 163.7,1327.2 169.7,1326.9 175.7,1326.9 181.7,1326.5 187.7,1326.4 193.7,1326.9 199.7,1326.5 205.7,1326.7 211.7,1326.7 217.7,1326.6 223.7,1327.0 229.7,1327.1 235.7,1327.5 241.7,1327.2 247.7,1327.4 253.7,1327.3 259.7,1327.5 265.7,1327.3 271.7,1327.2 277.7,1327.9 283.7,1328.0 289.7,1327.8 295.7,1327.7 301.7,1327.4 307.7,1327.4 313.7,1327.5 319.7,1327.4 325.7,1328.1 331.7,1327.8 337.7,1328.4 343.7,1328.0 349.7,1328.6 355.7,1328.6 361.7,1327.8 367.7,1328.1 373.7,1328.9 379.7,1328.5 385.7,1329.1 391.7,1328.6 397.7,1328.3 403.7,1329.0 409.7,1329.2 415.7,1328.8 421.7,1328.6 427.7,1329.0 433.7,1329.7 439.7,1329.5 445.7,1329.0 451.7,1329.2 457.7,1329.1 463.7,1329.1 469.7,1329.9 475.7,1329.3 481.7,1329.7 487.7,1329.6 493.7,1329.4 499.7,1330.0 505.7,1329.5 511.7,1330.0 517.7,1329.5 523.7,1329.9 529.7,1329.7 535.7,1329.8 541.7,1330.5 547.7,1330.4 553.7,1330.0 559.7,1330.6 565.7,1330.0 571.7,1330.2 577.7,1330.7 583.7,1330.5 589.7,1330.0 595.7,1330.9 601.7,1330.2 607.7,1330.3 613.7,1330.8 619.7,1330.4 625.7,1330.5 631.7,1330.3 637.7,1330.3 643.7,1330.9 649.7,1330.6 655.7,1331.0 661.7,1330.8 667.7,1330.9 672.3,1331.0" fill="none" stroke="#5eb0c0" stroke-width="4.6" stroke-linejoin="round" stroke-linecap="round"/>
<text x="539.9" y="1302.4" font-size="31" text-anchor="start" fill="#231815">0.01 mM</text>
<path d="M42.3 1316.0V1346.2H136.5" fill="none" stroke="#000" stroke-width="3.6" stroke-linejoin="miter"/>
<text x="35.2" y="1345.8" font-size="31" text-anchor="middle" fill="#000" transform="rotate(-90 35.2 1345.8)" textLength="68.5" lengthAdjust="spacingAndGlyphs">20 nS</text>
<text x="52.3" y="1379.5" font-size="30.6" text-anchor="start" fill="#000">10 s</text>
<polyline points="61.7,1426.0 69.7,1426.1 77.7,1426.1 85.7,1425.8 93.7,1425.7 101.7,1425.9 109.7,1425.8 117.7,1426.1 125.7,1426.1 133.7,1426.0 141.7,1425.9 149.7,1426.0 157.7,1425.7 165.7,1425.8 173.7,1425.6 181.7,1426.1 189.7,1425.6 197.7,1426.0 205.7,1425.5 213.7,1425.9 221.7,1425.7 229.7,1425.7 237.7,1425.9 245.7,1425.4 253.7,1425.4 261.7,1425.9 269.7,1425.7 277.7,1425.4 285.7,1425.9 293.7,1425.9 301.7,1425.4 309.7,1425.6 317.7,1425.4 325.7,1425.5 333.7,1425.6 341.7,1425.3 349.7,1425.6 357.7,1425.2 365.7,1425.3 373.7,1425.7 381.7,1425.4 389.7,1425.4 397.7,1425.5 405.7,1425.4 413.7,1425.3 421.7,1425.1 429.7,1425.5 437.7,1425.6 445.7,1425.6 453.7,1425.4 461.7,1425.2 469.7,1425.2 477.7,1425.4 485.7,1425.4 493.7,1425.0 501.7,1425.1 509.7,1425.1 517.7,1425.2 525.7,1425.4 533.7,1425.2 541.7,1424.9 549.7,1425.3 557.7,1425.1 565.7,1425.1 573.7,1424.9 581.7,1425.0 589.7,1425.0 597.7,1425.2 605.7,1424.8 613.7,1425.1 621.7,1424.8 629.7,1425.1 637.7,1424.7 645.7,1424.8 653.7,1424.9 661.7,1425.0 669.7,1424.7 672.3,1424.9" fill="none" stroke="#3e9fae" stroke-width="4.2" stroke-linejoin="round" stroke-linecap="round"/>
<text x="539.9" y="1395.2" font-size="31" text-anchor="start" fill="#231815">0.02 mM</text>
<path d="M42.3 1403.4V1437.0H139.0" fill="none" stroke="#000" stroke-width="3.6" stroke-linejoin="miter"/>
<text x="35.2" y="1428.9" font-size="31" text-anchor="middle" fill="#000" transform="rotate(-90 35.2 1428.9)" textLength="68.6" lengthAdjust="spacingAndGlyphs">20 nS</text>
<text x="52.3" y="1471.4" font-size="30.6" text-anchor="start" fill="#000">10 s</text>
<polyline points="72.0,1522.7 73.9,1525.3 75.8,1527.2 77.7,1529.3 79.5,1530.2 81.4,1531.9 83.3,1533.3 85.2,1534.7 87.1,1536.6 89.0,1537.0 90.9,1538.7 92.8,1539.5 94.7,1540.6 96.6,1541.5 98.5,1542.3 100.4,1542.1 102.3,1541.2 104.2,1541.2 106.1,1540.7 108.0,1541.1 109.8,1540.6 111.7,1540.1 113.6,1539.7 115.5,1539.2 117.4,1538.9 119.3,1538.2 121.2,1536.9 123.1,1537.0 125.0,1535.9 126.9,1535.5 128.8,1534.6 130.7,1533.8 132.6,1533.0 134.5,1532.3 136.4,1531.5 138.3,1530.5 140.2,1530.7 142.0,1530.0 143.9,1529.6 145.8,1528.6 147.7,1527.9 149.6,1527.6 151.5,1526.4 153.4,1526.6 155.3,1525.9 157.2,1525.1 159.1,1524.7 161.0,1524.7 162.9,1524.0 164.8,1523.8 166.7,1523.6 168.6,1523.0 170.5,1522.3 172.3,1522.4 174.2,1521.7 176.1,1521.3 178.0,1520.9 179.9,1520.8 181.8,1520.1 183.7,1520.5 185.6,1520.5 187.5,1519.5 189.4,1519.6 191.3,1519.6 193.2,1518.2 195.1,1518.1 197.0,1518.6 198.9,1518.3 200.8,1517.8 202.7,1517.0 204.5,1517.0 206.4,1517.3 208.3,1517.1 210.2,1516.7 212.1,1515.7 214.0,1516.3 215.9,1515.5 217.8,1515.6 219.7,1514.7 221.6,1515.5 223.5,1514.8 225.4,1514.7 227.3,1513.9 229.2,1514.2 231.1,1513.9 233.0,1513.7 234.8,1513.2 236.7,1513.5 238.6,1512.8 240.5,1512.5 242.4,1512.2 244.3,1512.6 246.2,1511.7 248.1,1511.7 250.0,1511.3 251.9,1511.8 253.8,1511.5 255.7,1511.3 257.6,1510.5 259.5,1510.8 261.4,1510.5 263.3,1510.1 265.2,1509.8 267.0,1510.8 268.9,1509.6 270.8,1509.6 272.7,1509.4 274.6,1509.6 276.5,1508.8 278.4,1509.1 280.3,1508.8 282.2,1509.2 284.1,1508.0 286.0,1508.3 287.9,1508.3 289.8,1508.7 291.7,1507.9 293.6,1507.7 295.5,1507.8 297.3,1507.1 299.2,1506.6 301.1,1507.0 303.0,1507.3 304.9,1506.9 306.8,1506.2 308.7,1506.5 310.6,1506.5 312.5,1505.7 314.4,1505.9 316.3,1505.4 318.2,1505.1 320.1,1505.0 322.0,1504.8 323.9,1504.8 325.8,1504.3 327.7,1504.6 329.5,1504.1 331.4,1504.8 333.3,1504.5 335.2,1503.7 337.1,1504.6 339.0,1503.8 340.9,1504.1 342.8,1504.1 344.7,1503.8 346.6,1503.7 348.5,1503.8 350.4,1503.4 352.3,1504.2 354.2,1503.2 356.1,1504.0 358.0,1503.3 359.8,1503.3 361.7,1503.4 363.6,1502.9 365.5,1503.0 367.4,1503.3 369.3,1503.3 371.2,1503.8 373.1,1503.9 375.0,1502.8 376.9,1503.4 378.8,1502.9 380.7,1503.7 382.6,1503.1 384.5,1503.9 386.4,1503.5 388.3,1503.0 390.2,1502.9 392.0,1503.3 393.9,1504.1 395.8,1503.3 397.7,1503.8 399.6,1503.8 401.5,1503.8 403.4,1504.5 405.3,1503.9 407.2,1504.6 409.1,1504.6 411.0,1505.0 412.9,1504.7 414.8,1505.2 416.7,1504.8 418.6,1505.1 420.5,1505.2 422.3,1505.6 424.2,1505.8 426.1,1505.1 428.0,1505.2 429.9,1505.9 431.8,1506.4 433.7,1506.3 435.6,1506.2 437.5,1507.2 439.4,1506.6 441.3,1506.6 443.2,1506.8 445.1,1507.0 447.0,1508.2 448.9,1507.7 450.8,1508.8 452.7,1509.4 454.5,1510.0 456.4,1510.3 458.3,1510.4 460.2,1511.2 462.1,1512.0 464.0,1512.4 465.9,1512.4 467.8,1513.6 469.7,1513.3 471.6,1514.0 473.5,1515.3 475.4,1515.1 477.3,1515.3 479.2,1516.4 481.1,1516.4 483.0,1516.3 484.8,1516.8 486.7,1517.5 488.6,1518.0 490.5,1519.1 492.4,1518.6 494.3,1519.7 496.2,1520.0 498.1,1519.7 500.0,1520.6 501.9,1520.5 503.8,1520.4 505.7,1520.3 507.6,1520.7 509.5,1521.4 511.4,1521.1 513.3,1520.8 515.2,1521.1 517.0,1521.4 518.9,1521.1 520.8,1521.6 522.7,1521.0 524.6,1521.9 526.5,1521.1 528.4,1520.9 530.3,1521.4 532.2,1520.9 534.1,1521.4 536.0,1520.8 537.9,1520.6 539.8,1520.8 541.7,1519.9 543.6,1520.3 545.5,1519.9 547.3,1519.4 549.2,1519.8 551.1,1518.4 553.0,1519.0 554.9,1517.6 556.8,1518.0 558.7,1516.6 560.6,1515.9 562.5,1515.9 564.4,1516.0 566.3,1514.7 568.2,1514.7 570.1,1514.6 572.0,1513.9 573.9,1513.9 575.8,1513.1 577.7,1513.4 579.5,1513.5 581.4,1512.8 583.3,1512.5 585.2,1512.1 587.1,1512.7 589.0,1512.2 590.9,1512.6 592.8,1512.2 594.7,1511.3 596.6,1512.1 598.5,1512.0 600.4,1511.7 602.3,1511.6 604.2,1511.3 606.1,1511.2 608.0,1511.0 609.8,1510.8 611.7,1510.2 613.6,1510.0 615.5,1510.6 617.4,1510.3 619.3,1509.5 621.2,1510.1 623.1,1510.0 625.0,1509.7 626.9,1510.0 628.8,1510.0 630.7,1509.3 632.6,1509.7 634.5,1509.3 636.4,1509.3 638.3,1509.0 640.2,1509.6 642.0,1509.0 643.9,1509.6 645.8,1508.8 647.7,1509.2 649.6,1509.4 651.5,1509.1 653.4,1508.7 655.3,1508.3 657.2,1508.8 659.1,1508.7 661.0,1509.1 662.9,1509.1 664.8,1509.3 666.7,1508.6 668.6,1508.6 670.5,1508.8 672.3,1509.0 674.2,1508.2 676.1,1508.3 678.0,1508.2 679.9,1508.4 681.8,1508.4" fill="none" stroke="#198db4" stroke-width="4.0" stroke-linejoin="round" stroke-linecap="round"/>
<text x="539.9" y="1491.0" font-size="31" text-anchor="start" fill="#231815">0.03 mM</text>
<path d="M42.3 1486.0V1552.5H103.8" fill="none" stroke="#000" stroke-width="3.6" stroke-linejoin="miter"/>
<text x="35.2" y="1529.2" font-size="31" text-anchor="middle" fill="#000" transform="rotate(-90 35.2 1529.2)" textLength="84.5" lengthAdjust="spacingAndGlyphs">100 nS</text>
<text x="52.3" y="1589.9" font-size="30.6" text-anchor="start" fill="#000">10 s</text>
<polyline points="62.5,1619.3 63.1,1615.3 63.6,1610.9 64.2,1606.5 64.8,1602.7 65.3,1599.8 65.9,1598.0 66.5,1597.2 67.0,1596.8 67.6,1596.8 68.2,1597.5 68.8,1598.5 69.3,1600.3 69.9,1603.1 70.5,1606.9 71.0,1611.4 71.6,1616.1 72.2,1620.5 72.7,1624.2 73.3,1627.4 73.9,1630.0 74.4,1632.0 75.0,1633.6 75.6,1635.0 76.1,1636.0 76.7,1636.9 77.3,1637.7 77.8,1638.3 78.4,1638.8 79.0,1639.3 79.5,1639.7 80.1,1640.0 80.7,1640.3 81.2,1640.6 81.8,1640.9 82.4,1641.1 83.0,1641.3 83.5,1641.5 84.1,1641.6 84.7,1641.8 85.2,1641.9 85.8,1642.0 86.4,1642.1 86.9,1642.1 87.5,1642.1 88.1,1642.2 88.6,1642.2 89.2,1642.1 89.8,1642.1 90.3,1642.0 90.9,1642.0 91.5,1641.9 92.0,1641.8 92.6,1641.7 93.2,1641.6 93.8,1641.5 94.3,1641.4 94.9,1641.3 95.5,1641.1 96.0,1641.0 96.6,1640.9 97.2,1640.8 97.7,1640.6 98.3,1640.5 98.9,1640.4 99.4,1640.2 100.0,1640.1 100.6,1639.9 101.1,1639.8 101.7,1639.6 102.3,1639.5 102.8,1639.3 103.4,1639.2 104.0,1639.0 104.5,1638.8 105.1,1638.6 105.7,1638.4 106.2,1638.3 106.8,1638.1 107.4,1637.9 108.0,1637.7 108.5,1637.4 109.1,1637.2 109.7,1637.0 110.2,1636.8 110.8,1636.5 111.4,1636.3 111.9,1636.1 112.5,1635.9 113.1,1635.7 113.6,1635.5 114.2,1635.2 114.8,1635.0 115.3,1634.7 115.9,1634.4 116.5,1634.0 117.0,1633.6 117.6,1633.0 118.2,1632.4 118.8,1631.5 119.3,1630.4 119.9,1629.0 120.5,1627.1 121.0,1624.8 121.6,1622.0 122.2,1618.5 122.7,1614.6 123.3,1610.6 123.9,1606.8 124.4,1603.8 125.0,1601.7 125.6,1600.5 126.1,1600.1 126.7,1599.9 127.3,1600.3 127.8,1601.2 128.4,1602.4 129.0,1604.4 129.5,1607.3 130.1,1611.2 130.7,1615.6 131.2,1620.1 131.8,1624.3 132.4,1628.0 133.0,1631.1 133.5,1633.7 134.1,1635.8 134.7,1637.5 135.2,1639.0 135.8,1640.1 136.4,1641.1 136.9,1642.0 137.5,1642.7 138.1,1643.4 138.6,1644.0 139.2,1644.5 139.8,1644.9 140.3,1645.4 140.9,1645.8 141.5,1646.1 142.0,1646.4 142.6,1646.7 143.2,1646.9 143.8,1647.2 144.3,1647.4 144.9,1647.5 145.5,1647.7 146.0,1647.8 146.6,1647.9 147.2,1648.0 147.7,1648.1 148.3,1648.1 148.9,1648.2 149.4,1648.2 150.0,1648.3 150.6,1648.3 151.1,1648.3 151.7,1648.3 152.3,1648.4 152.8,1648.4 153.4,1648.4 154.0,1648.4 154.5,1648.4 155.1,1648.4 155.7,1648.4 156.2,1648.5 156.8,1648.5 157.4,1648.5 158.0,1648.5 158.5,1648.5 159.1,1648.5 159.7,1648.5 160.2,1648.4 160.8,1648.4 161.4,1648.4 161.9,1648.4 162.5,1648.4 163.1,1648.4 163.6,1648.4 164.2,1648.4 164.8,1648.4 165.3,1648.4 165.9,1648.3 166.5,1648.3 167.0,1648.3 167.6,1648.3 168.2,1648.2 168.8,1648.2 169.3,1648.2 169.9,1648.1 170.5,1648.0 171.0,1648.0 171.6,1647.9 172.2,1647.8 172.7,1647.7 173.3,1647.7 173.9,1647.6 174.4,1647.5 175.0,1647.3 175.6,1647.2 176.1,1647.1 176.7,1647.0 177.3,1646.9 177.8,1646.8 178.4,1646.7 179.0,1646.6 179.5,1646.4 180.1,1646.3 180.7,1646.2 181.2,1646.1 181.8,1646.0 182.4,1645.8 183.0,1645.7 183.5,1645.6 184.1,1645.5 184.7,1645.3 185.2,1645.2 185.8,1645.1 186.4,1644.9 186.9,1644.8 187.5,1644.6 188.1,1644.5 188.6,1644.4 189.2,1644.2 189.8,1644.1 190.3,1643.9 190.9,1643.8 191.5,1643.6 192.0,1643.5 192.6,1643.3 193.2,1643.1 193.8,1643.0 194.3,1642.8 194.9,1642.6 195.5,1642.5 196.0,1642.3 196.6,1642.1 197.2,1641.9 197.7,1641.7 198.3,1641.5 198.9,1641.3 199.4,1641.1 200.0,1640.9 200.6,1640.6 201.1,1640.4 201.7,1640.2 202.3,1640.0 202.8,1639.8 203.4,1639.6 204.0,1639.4 204.5,1639.3 205.1,1639.1 205.7,1638.9 206.2,1638.6 206.8,1638.4 207.4,1638.1 208.0,1637.8 208.5,1637.4 209.1,1636.9 209.7,1636.3 210.2,1635.5 210.8,1634.4 211.4,1633.1 211.9,1631.4 212.5,1629.2 213.1,1626.5 213.6,1623.2 214.2,1619.4 214.8,1615.1 215.3,1610.8 215.9,1606.8 216.5,1603.7 217.0,1601.7 217.6,1600.5 218.2,1600.1 218.8,1599.9 219.3,1600.5 219.9,1601.4 220.5,1602.7 221.0,1604.8 221.6,1607.9 222.2,1612.0 222.7,1616.7 223.3,1621.6 223.9,1626.4 224.4,1630.6 225.0,1634.3 225.6,1637.3 226.1,1639.9 226.7,1641.9 227.3,1643.7 227.8,1645.1 228.4,1646.3 229.0,1647.4 229.5,1648.3 230.1,1649.1 230.7,1649.8 231.2,1650.5 231.8,1651.1 232.4,1651.6 233.0,1652.1 233.5,1652.6 234.1,1653.0 234.7,1653.4 235.2,1653.8 235.8,1654.2 236.4,1654.6 236.9,1654.9 237.5,1655.3 238.1,1655.6 238.6,1655.9 239.2,1656.2 239.8,1656.5 240.3,1656.8 240.9,1657.0 241.5,1657.2 242.0,1657.4 242.6,1657.6 243.2,1657.7 243.8,1657.9 244.3,1658.0 244.9,1658.1 245.5,1658.2 246.0,1658.3 246.6,1658.3 247.2,1658.4 247.7,1658.4 248.3,1658.5 248.9,1658.5 249.4,1658.6 250.0,1658.6 250.6,1658.7 251.1,1658.7 251.7,1658.7 252.3,1658.8 252.8,1658.8 253.4,1658.8 254.0,1658.9 254.5,1658.9 255.1,1658.9 255.7,1659.0 256.2,1659.0 256.8,1659.0 257.4,1659.0 258.0,1659.1 258.5,1659.1 259.1,1659.1 259.7,1659.2 260.2,1659.2 260.8,1659.2 261.4,1659.2 261.9,1659.3 262.5,1659.3 263.1,1659.3 263.6,1659.3 264.2,1659.4 264.8,1659.4 265.3,1659.4 265.9,1659.4 266.5,1659.4 267.0,1659.5 267.6,1659.5 268.2,1659.5 268.8,1659.5 269.3,1659.6 269.9,1659.6 270.5,1659.6 271.0,1659.6 271.6,1659.6 272.2,1659.7 272.7,1659.7 273.3,1659.7 273.9,1659.7 274.4,1659.8 275.0,1659.8 275.6,1659.8 276.1,1659.8 276.7,1659.8 277.3,1659.9 277.8,1659.9 278.4,1659.9 279.0,1659.9 279.5,1659.9 280.1,1660.0 280.7,1660.0 281.2,1660.0 281.8,1660.0 282.4,1660.0 283.0,1660.0 283.5,1660.0 284.1,1660.0 284.7,1660.0 285.2,1659.9 285.8,1659.9 286.4,1659.9 286.9,1659.9 287.5,1659.8 288.1,1659.8 288.6,1659.7 289.2,1659.7 289.8,1659.6 290.3,1659.6 290.9,1659.5 291.5,1659.5 292.0,1659.4 292.6,1659.4 293.2,1659.3 293.8,1659.3 294.3,1659.3 294.9,1659.2 295.5,1659.2 296.0,1659.1 296.6,1659.1 297.2,1659.0 297.7,1659.0 298.3,1658.9 298.9,1658.9 299.4,1658.8 300.0,1658.8 300.6,1658.7 301.1,1658.7 301.7,1658.6 302.3,1658.6 302.8,1658.5 303.4,1658.5 304.0,1658.4 304.5,1658.4 305.1,1658.3 305.7,1658.3 306.2,1658.2 306.8,1658.2 307.4,1658.1 308.0,1658.1 308.5,1658.0 309.1,1658.0 309.7,1657.9 310.2,1657.9 310.8,1657.8 311.4,1657.8 311.9,1657.7 312.5,1657.7 313.1,1657.6 313.6,1657.5 314.2,1657.5 314.8,1657.4 315.3,1657.4 315.9,1657.3 316.5,1657.3 317.0,1657.2 317.6,1657.2 318.2,1657.1 318.8,1657.1 319.3,1657.0 319.9,1656.9 320.5,1656.9 321.0,1656.8 321.6,1656.8 322.2,1656.7 322.7,1656.7 323.3,1656.6 323.9,1656.5 324.4,1656.5 325.0,1656.4 325.6,1656.4 326.1,1656.3 326.7,1656.2 327.3,1656.2 327.8,1656.1 328.4,1656.0 329.0,1656.0 329.5,1655.9 330.1,1655.8 330.7,1655.8 331.2,1655.7 331.8,1655.6 332.4,1655.6 333.0,1655.5 333.5,1655.4 334.1,1655.4 334.7,1655.3 335.2,1655.2 335.8,1655.1 336.4,1655.1 336.9,1655.0 337.5,1654.9 338.1,1654.8 338.6,1654.7 339.2,1654.6 339.8,1654.5 340.3,1654.4 340.9,1654.3 341.5,1654.2 342.0,1654.1 342.6,1654.0 343.2,1653.8 343.8,1653.7 344.3,1653.6 344.9,1653.4 345.5,1653.3 346.0,1653.1 346.6,1653.0 347.2,1652.8 347.7,1652.7 348.3,1652.5 348.9,1652.3 349.4,1652.2 350.0,1652.0 350.6,1651.8 351.1,1651.7 351.7,1651.5 352.3,1651.3 352.8,1651.1 353.4,1650.9 354.0,1650.8 354.5,1650.6 355.1,1650.4 355.7,1650.1 356.2,1649.9 356.8,1649.7 357.4,1649.5 358.0,1649.3 358.5,1649.0 359.1,1648.8 359.7,1648.5 360.2,1648.2 360.8,1648.0 361.4,1647.7 361.9,1647.4 362.5,1647.1 363.1,1646.8 363.6,1646.5 364.2,1646.1 364.8,1645.7 365.3,1645.3 365.9,1644.9 366.5,1644.3 367.0,1643.7 367.6,1643.0 368.2,1642.2 368.8,1641.2 369.3,1639.9 369.9,1638.4 370.5,1636.6 371.0,1634.3 371.6,1631.5 372.2,1628.1 372.7,1624.0 373.3,1619.4 373.9,1614.5 374.4,1609.6 375.0,1605.2 375.6,1601.7 376.1,1599.4 376.7,1598.0 377.3,1597.4 377.8,1597.0 378.4,1597.4 379.0,1598.2 379.5,1599.4 380.1,1601.4 380.7,1604.4 381.2,1608.4 381.8,1613.3 382.4,1618.5 383.0,1623.6 383.5,1628.2 384.1,1632.2 384.7,1635.6 385.2,1638.4 385.8,1640.6 386.4,1642.5 386.9,1644.0 387.5,1645.2 388.1,1646.3 388.6,1647.2 389.2,1647.9 389.8,1648.5 390.3,1649.1 390.9,1649.6 391.5,1650.0 392.0,1650.3 392.6,1650.7 393.2,1651.0 393.8,1651.3 394.3,1651.5 394.9,1651.7 395.5,1651.9 396.0,1652.1 396.6,1652.3 397.2,1652.5 397.7,1652.6 398.3,1652.8 398.9,1652.9 399.4,1653.1 400.0,1653.2 400.6,1653.3 401.1,1653.4 401.7,1653.5 402.3,1653.6 402.8,1653.7 403.4,1653.8 404.0,1653.9 404.5,1654.0 405.1,1654.1 405.7,1654.2 406.2,1654.3 406.8,1654.3 407.4,1654.4 408.0,1654.5 408.5,1654.6 409.1,1654.6 409.7,1654.7 410.2,1654.8 410.8,1654.8 411.4,1654.9 411.9,1655.0 412.5,1655.0 413.1,1655.1 413.6,1655.1 414.2,1655.2 414.8,1655.2 415.3,1655.3 415.9,1655.3 416.5,1655.4 417.0,1655.4 417.6,1655.4 418.2,1655.5 418.8,1655.5 419.3,1655.5 419.9,1655.5 420.5,1655.6 421.0,1655.6 421.6,1655.6 422.2,1655.6 422.7,1655.6 423.3,1655.6 423.9,1655.6 424.4,1655.7 425.0,1655.7 425.6,1655.7 426.1,1655.7 426.7,1655.7 427.3,1655.7 427.8,1655.7 428.4,1655.7 429.0,1655.8 429.5,1655.8 430.1,1655.8 430.7,1655.8 431.2,1655.8 431.8,1655.8 432.4,1655.8 433.0,1655.8 433.5,1655.8 434.1,1655.8 434.7,1655.9 435.2,1655.9 435.8,1655.9 436.4,1655.9 436.9,1655.9 437.5,1655.9 438.1,1655.9 438.6,1655.9 439.2,1655.9 439.8,1655.9 440.3,1655.9 440.9,1656.0 441.5,1656.0 442.0,1656.0 442.6,1656.0 443.2,1656.0 443.8,1656.0 444.3,1656.0 444.9,1656.0 445.5,1656.0 446.0,1656.0 446.6,1656.0 447.2,1656.1 447.7,1656.1 448.3,1656.1 448.9,1656.1 449.4,1656.1 450.0,1656.1 450.6,1656.1 451.1,1656.1 451.7,1656.1 452.3,1656.1 452.8,1656.1 453.4,1656.2 454.0,1656.2 454.5,1656.2 455.1,1656.2 455.7,1656.2 456.2,1656.2 456.8,1656.2 457.4,1656.2 458.0,1656.2 458.5,1656.2 459.1,1656.2 459.7,1656.2 460.2,1656.3 460.8,1656.3 461.4,1656.3 461.9,1656.3 462.5,1656.3 463.1,1656.3 463.6,1656.3 464.2,1656.3 464.8,1656.3 465.3,1656.3 465.9,1656.3 466.5,1656.4 467.0,1656.4 467.6,1656.4 468.2,1656.4 468.8,1656.4 469.3,1656.4 469.9,1656.4 470.5,1656.4 471.0,1656.4 471.6,1656.4 472.2,1656.4 472.7,1656.4 473.3,1656.5 473.9,1656.5 474.4,1656.5 475.0,1656.5 475.6,1656.5 476.1,1656.5 476.7,1656.5 477.3,1656.5 477.8,1656.5 478.4,1656.5 479.0,1656.5 479.5,1656.5 480.1,1656.6 480.7,1656.6 481.2,1656.6 481.8,1656.6 482.4,1656.6 483.0,1656.6 483.5,1656.6 484.1,1656.6 484.7,1656.6 485.2,1656.6 485.8,1656.6 486.4,1656.7 486.9,1656.7 487.5,1656.7 488.1,1656.7 488.6,1656.7 489.2,1656.7 489.8,1656.7 490.3,1656.7 490.9,1656.7 491.5,1656.7 492.0,1656.7 492.6,1656.7 493.2,1656.7 493.8,1656.7 494.3,1656.7 494.9,1656.7 495.5,1656.7 496.0,1656.7 496.6,1656.6 497.2,1656.6 497.7,1656.6 498.3,1656.6 498.9,1656.6 499.4,1656.6 500.0,1656.6 500.6,1656.5 501.1,1656.5 501.7,1656.5 502.3,1656.5 502.8,1656.5 503.4,1656.5 504.0,1656.5 504.5,1656.4 505.1,1656.4 505.7,1656.4 506.2,1656.4 506.8,1656.4 507.4,1656.4 508.0,1656.4 508.5,1656.3 509.1,1656.3 509.7,1656.3 510.2,1656.3 510.8,1656.3 511.4,1656.3 511.9,1656.3 512.5,1656.2 513.1,1656.2 513.6,1656.2 514.2,1656.2 514.8,1656.2 515.3,1656.2 515.9,1656.2 516.5,1656.1 517.0,1656.1 517.6,1656.1 518.2,1656.1 518.8,1656.1 519.3,1656.1 519.9,1656.1 520.5,1656.0 521.0,1656.0 521.6,1656.0 522.2,1656.0 522.7,1656.0 523.3,1656.0 523.9,1656.0 524.4,1655.9 525.0,1655.9 525.6,1655.9 526.1,1655.9 526.7,1655.9 527.3,1655.9 527.8,1655.9 528.4,1655.8 529.0,1655.8 529.5,1655.8 530.1,1655.8 530.7,1655.8 531.2,1655.8 531.8,1655.8 532.4,1655.7 533.0,1655.7 533.5,1655.7 534.1,1655.7 534.7,1655.7 535.2,1655.7 535.8,1655.7 536.4,1655.6 536.9,1655.6 537.5,1655.6 538.1,1655.6 538.6,1655.6 539.2,1655.6 539.8,1655.6 540.3,1655.5 540.9,1655.5 541.5,1655.5 542.0,1655.5 542.6,1655.5 543.2,1655.5 543.8,1655.5 544.3,1655.4 544.9,1655.4 545.5,1655.4 546.0,1655.4 546.6,1655.4 547.2,1655.4 547.7,1655.4 548.3,1655.3 548.9,1655.3 549.4,1655.3 550.0,1655.3 550.6,1655.3 551.1,1655.3 551.7,1655.3 552.3,1655.2 552.8,1655.2 553.4,1655.2 554.0,1655.2 554.5,1655.2 555.1,1655.2 555.7,1655.2 556.2,1655.1 556.8,1655.1 557.4,1655.1 558.0,1655.1 558.5,1655.1 559.1,1655.1 559.7,1655.1 560.2,1655.0 560.8,1655.0 561.4,1655.0 561.9,1655.0 562.5,1655.0 563.1,1655.0 563.6,1655.0 564.2,1654.9 564.8,1654.9 565.3,1654.9 565.9,1654.9 566.5,1654.9 567.0,1654.8 567.6,1654.8 568.2,1654.8 568.8,1654.7 569.3,1654.7 569.9,1654.7 570.5,1654.6 571.0,1654.6 571.6,1654.6 572.2,1654.5 572.7,1654.5 573.3,1654.4 573.9,1654.4 574.4,1654.3 575.0,1654.3 575.6,1654.2 576.1,1654.2 576.7,1654.1 577.3,1654.1 577.8,1654.0 578.4,1654.0 579.0,1653.9 579.5,1653.9 580.1,1653.8 580.7,1653.8 581.2,1653.7 581.8,1653.7 582.4,1653.6 583.0,1653.6 583.5,1653.5 584.1,1653.5 584.7,1653.4 585.2,1653.4 585.8,1653.3 586.4,1653.3 586.9,1653.2 587.5,1653.2 588.1,1653.1 588.6,1653.1 589.2,1653.0 589.8,1653.0 590.3,1652.9 590.9,1652.9 591.5,1652.8 592.0,1652.8 592.6,1652.7 593.2,1652.7 593.8,1652.6 594.3,1652.6 594.9,1652.5 595.5,1652.5 596.0,1652.4 596.6,1652.4 597.2,1652.3 597.7,1652.3 598.3,1652.2 598.9,1652.2 599.4,1652.1 600.0,1652.1 600.6,1652.0 601.1,1652.0 601.7,1651.9 602.3,1651.9 602.8,1651.8 603.4,1651.8 604.0,1651.7 604.5,1651.7 605.1,1651.6 605.7,1651.6 606.2,1651.5 606.8,1651.5 607.4,1651.5 608.0,1651.4 608.5,1651.4 609.1,1651.3 609.7,1651.3 610.2,1651.2 610.8,1651.2 611.4,1651.1 611.9,1651.1 612.5,1651.0 613.1,1651.0 613.6,1650.9 614.2,1650.9 614.8,1650.8 615.3,1650.8 615.9,1650.7 616.5,1650.7 617.0,1650.6 617.6,1650.6 618.2,1650.5 618.8,1650.5 619.3,1650.4 619.9,1650.4 620.5,1650.3 621.0,1650.3 621.6,1650.2 622.2,1650.2 622.7,1650.1 623.3,1650.1 623.9,1650.0 624.4,1649.9 625.0,1649.9 625.6,1649.8 626.1,1649.7 626.7,1649.7 627.3,1649.6 627.8,1649.5 628.4,1649.5 629.0,1649.4 629.5,1649.3 630.1,1649.2 630.7,1649.2 631.2,1649.1 631.8,1649.0 632.4,1648.9 633.0,1648.8 633.5,1648.8 634.1,1648.7 634.7,1648.6 635.2,1648.5 635.8,1648.5 636.4,1648.4 636.9,1648.3 637.5,1648.2 638.1,1648.1 638.6,1648.1 639.2,1648.0 639.8,1647.9 640.3,1647.8 640.9,1647.8 641.5,1647.7 642.0,1647.6 642.6,1647.5 643.2,1647.5 643.8,1647.4 644.3,1647.3 644.9,1647.2 645.5,1647.1 646.0,1647.1 646.6,1647.0 647.2,1646.9 647.7,1646.8 648.3,1646.8 648.9,1646.7 649.4,1646.6 650.0,1646.5 650.6,1646.4 651.1,1646.4 651.7,1646.3 652.3,1646.2 652.8,1646.1 653.4,1646.1 654.0,1646.0 654.5,1645.9 655.1,1645.8 655.7,1645.8 656.2,1645.7 656.8,1645.6 657.4,1645.5 658.0,1645.4 658.5,1645.4 659.1,1645.3 659.7,1645.2 660.2,1645.1 660.8,1645.1 661.4,1645.0 661.9,1644.9 662.5,1644.8 663.1,1644.7 663.6,1644.7 664.2,1644.6 664.8,1644.5 665.3,1644.4 665.9,1644.4 666.5,1644.3 667.0,1644.2 667.6,1644.1 668.2,1644.1 668.8,1644.0 669.3,1643.9 669.9,1643.9 670.5,1643.8 671.0,1643.7 671.6,1643.7 672.2,1643.7" fill="none" stroke="#1466a8" stroke-width="4.0" stroke-linejoin="round" stroke-linecap="round"/>
<text x="539.9" y="1611.0" font-size="31" text-anchor="start" fill="#231815">0.05 mM</text>
<path d="M42.3 1630.0V1652.6H134.8" fill="none" stroke="#000" stroke-width="3.6" stroke-linejoin="miter"/>
<text x="35.2" y="1625.5" font-size="31" text-anchor="middle" fill="#000" transform="rotate(-90 35.2 1625.5)" textLength="83.0" lengthAdjust="spacingAndGlyphs">200 nS</text>
<text x="52.3" y="1682.8" font-size="30.6" text-anchor="start" fill="#000">10 s</text>
<polyline points="62.5,1741.5 63.2,1741.1 63.9,1739.8 64.6,1737.4 65.3,1733.8 66.0,1728.5 66.7,1721.4 67.4,1712.7 68.1,1703.6 68.8,1695.9 69.5,1691.2 70.2,1689.2 70.9,1688.6 71.6,1689.3 72.3,1691.7 73.0,1697.1 73.7,1705.4 74.4,1714.8 75.1,1723.5 75.8,1730.4 76.5,1735.3 77.2,1738.7 77.9,1740.7 78.6,1741.7 79.3,1741.7 80.0,1740.8 80.7,1738.8 81.4,1735.6 82.1,1730.8 82.8,1724.1 83.5,1715.6 84.2,1706.3 84.9,1697.9 85.6,1692.2 86.3,1689.6 87.0,1688.7 87.7,1689.1 88.4,1690.9 89.1,1695.4 89.8,1703.1 90.5,1712.5 91.2,1721.5 91.9,1729.0 92.6,1734.4 93.3,1738.2 94.0,1740.6 94.7,1741.8 95.4,1742.1 96.1,1741.4 96.8,1739.8 97.5,1736.9 98.2,1732.5 98.9,1726.3 99.6,1718.3 100.3,1709.0 101.0,1700.1 101.7,1693.5 102.4,1690.1 103.1,1688.9 103.8,1688.9 104.5,1690.2 105.2,1693.9 105.9,1700.8 106.6,1709.9 107.3,1719.1 108.0,1727.0 108.7,1733.0 109.4,1737.2 110.1,1740.0 110.8,1741.7 111.5,1742.4 112.2,1742.2 112.9,1741.2 113.6,1739.2 114.3,1736.0 115.0,1731.3 115.7,1724.8 116.4,1716.4 117.1,1707.1 117.8,1698.6 118.5,1692.7 119.2,1689.8 119.9,1688.8 120.6,1689.1 121.3,1690.8 122.0,1695.1 122.7,1702.7 123.4,1712.1 124.1,1721.3 124.8,1728.9 125.5,1734.6 126.2,1738.5 126.9,1741.0 127.6,1742.4 128.3,1742.7 129.0,1742.1 129.7,1740.5 130.4,1737.7 131.1,1733.4 131.8,1727.3 132.5,1719.3 133.2,1710.0 133.9,1700.9 134.6,1694.1 135.3,1690.4 136.0,1689.1 136.7,1689.0 137.4,1690.2 138.1,1693.7 138.8,1700.4 139.5,1709.4 140.2,1718.8 140.9,1726.9 141.6,1733.1 142.3,1737.5 143.0,1740.4 143.7,1742.2 144.4,1743.0 145.1,1742.9 145.8,1741.9 146.5,1740.0 147.2,1736.9 147.9,1732.3 148.6,1725.8 149.3,1717.5 150.0,1708.1 150.7,1699.4 151.4,1693.2 152.1,1690.1 152.8,1689.0 153.5,1689.2 154.2,1690.7 154.9,1694.8 155.6,1702.1 156.3,1711.4 157.0,1720.7 157.7,1728.5 158.4,1734.4 159.1,1738.5 159.8,1741.1 160.5,1742.7 161.2,1743.3 161.9,1743.1 162.6,1741.9 163.3,1739.8 164.0,1736.4 164.7,1731.4 165.4,1724.6 166.1,1715.9 166.8,1706.5 167.5,1698.0 168.2,1692.4 168.9,1689.8 169.6,1688.9 170.3,1689.4 171.0,1691.3 171.7,1696.0 172.4,1703.7 173.1,1713.2 173.8,1722.2 174.5,1729.6 175.2,1735.1 175.9,1739.0 176.6,1741.5 177.3,1743.0 178.0,1743.6 178.7,1743.4 179.4,1742.5 180.1,1740.6 180.8,1737.6 181.5,1733.2 182.2,1727.0 182.9,1719.0 183.6,1709.7 184.3,1700.7 185.0,1694.0 185.7,1690.5 186.4,1689.2 187.1,1689.2 187.8,1690.4 188.5,1694.0 189.2,1700.7 189.9,1709.8 190.6,1719.1 191.3,1727.1 192.0,1733.3 192.7,1737.7 193.4,1740.7 194.1,1742.6 194.8,1743.7 195.5,1743.9 196.2,1743.5 196.9,1742.4 197.6,1740.3 198.3,1737.1 199.0,1732.5 199.7,1726.2 200.4,1718.0 201.1,1708.7 201.8,1699.9 202.5,1693.6 203.2,1690.3 203.9,1689.2 204.6,1689.3 205.3,1690.7 206.0,1694.7 206.7,1701.8 207.4,1711.0 208.1,1720.3 208.8,1728.1 209.5,1734.1 210.2,1738.4 210.9,1741.3 211.6,1743.1 212.3,1744.0 213.0,1744.2 213.7,1743.7 214.4,1742.5 215.1,1740.3 215.8,1737.0 216.5,1732.2 217.2,1725.6 217.9,1717.2 218.6,1707.8 219.3,1699.2 220.0,1693.1 220.7,1690.2 221.4,1689.2 222.1,1689.4 222.8,1691.1 223.5,1695.3 224.2,1702.6 224.9,1711.8 225.6,1720.9 226.3,1728.5 227.0,1734.3 227.7,1738.4 228.4,1741.2 229.1,1743.1 229.8,1744.1 230.5,1744.5 231.2,1744.4 231.9,1743.6 232.6,1742.2 233.3,1739.9 234.0,1736.5 234.7,1731.6 235.4,1725.0 236.1,1716.7 236.8,1707.4 237.5,1698.9 238.2,1693.0 238.9,1690.2 239.6,1689.2 240.3,1689.5 241.0,1691.2 241.7,1695.5 242.4,1702.9 243.1,1712.1 243.8,1721.1 244.5,1728.6 245.2,1734.4 245.9,1738.5 246.6,1741.3 247.3,1743.2 248.0,1744.3 248.7,1744.8 249.4,1744.8 250.1,1744.2 250.8,1743.1 251.5,1741.2 252.2,1738.4 252.9,1734.3 253.6,1728.6 254.3,1721.1 255.0,1712.2 255.7,1703.1 256.4,1695.7 257.1,1691.4 257.8,1689.6 258.5,1689.2 259.2,1690.1 259.9,1692.9 260.6,1698.7 261.3,1707.1 262.0,1716.4 262.7,1724.7 263.4,1731.4 264.1,1736.3 264.8,1739.7 265.5,1742.1 266.2,1743.7 266.9,1744.6 267.6,1745.1 268.3,1745.1 269.0,1744.7 269.7,1743.7 270.4,1742.2 271.1,1739.9 271.8,1736.6 272.5,1731.9 273.2,1725.5 273.9,1717.4 274.6,1708.3 275.3,1699.8 276.0,1693.6 276.7,1690.5 277.4,1689.4 278.1,1689.5 278.8,1691.0 279.5,1694.9 280.2,1701.9 280.9,1710.9 281.6,1720.0 282.3,1727.6 283.0,1733.6 283.7,1737.8 284.4,1740.9 285.1,1742.9 285.8,1744.3 286.5,1745.1 287.2,1745.4 287.9,1745.4 288.6,1744.9 289.3,1744.0 290.0,1742.5 290.7,1740.3 291.4,1737.1 292.1,1732.6 292.8,1726.5 293.5,1718.7 294.2,1709.6 294.9,1700.9 295.6,1694.3 296.3,1690.8 297.0,1689.5 297.7,1689.5 298.4,1690.7 299.1,1694.3 299.8,1700.8 300.5,1709.7 301.2,1718.8 301.9,1726.7 302.6,1732.9 303.3,1737.4 304.0,1740.6 304.7,1742.8 305.4,1744.2 306.1,1745.2 306.8,1745.6 307.5,1745.7 308.2,1745.5 308.9,1744.8 309.6,1743.7 310.3,1742.0 311.0,1739.4 311.7,1735.9 312.4,1730.9 313.1,1724.2 313.8,1715.9 314.5,1706.7 315.2,1698.5 315.9,1692.9 316.6,1690.3 317.3,1689.4 318.0,1689.8 318.7,1691.6 319.4,1696.0 320.1,1703.4 320.8,1712.5 321.5,1721.2 322.2,1728.6 322.9,1734.1 323.6,1738.2 324.3,1741.0 325.0,1743.0 325.7,1744.4 326.4,1745.3 327.1,1745.8 327.8,1746.1 328.5,1746.0 329.2,1745.6 329.9,1744.9 330.6,1743.8 331.3,1742.2 332.0,1739.9 332.7,1736.7 333.4,1732.2 334.1,1726.1 334.8,1718.3 335.5,1709.3 336.2,1700.7 336.9,1694.3 337.6,1690.9 338.3,1689.6 339.0,1689.6 339.7,1690.9 340.4,1694.4 341.1,1701.0 341.8,1709.7 342.5,1718.7 343.2,1726.4 343.9,1732.5 344.6,1737.0 345.3,1740.2 346.0,1742.5 346.7,1744.0 347.4,1745.1 348.1,1745.8 348.8,1746.2 349.5,1746.4 350.2,1746.3 350.9,1745.9 351.6,1745.3 352.3,1744.3 353.0,1742.8 353.7,1740.8 354.4,1737.9 355.1,1734.0 355.8,1728.5 356.5,1721.4 357.2,1712.8 357.9,1703.9 358.6,1696.5 359.3,1691.9 360.0,1690.0 360.7,1689.4 361.4,1690.3 362.1,1692.8 362.8,1698.1 363.5,1706.2 364.2,1715.3 364.9,1723.6 365.6,1730.3 366.3,1735.4 367.0,1739.0 367.7,1741.6 368.4,1743.5 369.1,1744.8 369.8,1745.7 370.5,1746.2 371.2,1746.6 371.9,1746.7 372.6,1746.6 373.3,1746.2 374.0,1745.7 374.7,1744.8 375.4,1743.5 376.1,1741.8 376.8,1739.3 377.5,1735.9 378.2,1731.2 378.9,1724.9 379.6,1716.9 380.3,1708.0 381.0,1699.6 381.7,1693.7 382.4,1690.7 383.1,1689.6 383.8,1689.8 384.5,1691.4 385.2,1695.3 385.9,1702.2 386.6,1711.1 387.3,1720.0 388.0,1727.5 388.7,1733.3 389.4,1737.6 390.1,1740.7 390.8,1742.8 391.5,1744.4 392.2,1745.5 392.9,1746.2 393.6,1746.7 394.3,1746.9 395.0,1747.0 395.7,1746.8 396.4,1746.4 397.1,1745.8 397.8,1745.0 398.5,1743.7 399.2,1741.9 399.9,1739.5 400.6,1736.0 401.3,1731.3 402.0,1725.0 402.7,1717.0 403.4,1708.1 404.1,1699.8 404.8,1693.8 405.5,1690.8 406.2,1689.7 406.9,1689.9 407.6,1691.4 408.3,1695.3 409.0,1702.2 409.7,1711.1 410.4,1720.0 411.1,1727.5 411.8,1733.4 412.5,1737.7 413.2,1740.8 413.9,1743.0 414.6,1744.5 415.3,1745.7 416.0,1746.4 416.7,1746.9 417.4,1747.2 418.1,1747.3 418.8,1747.2 419.5,1746.9 420.2,1746.4 420.9,1745.7 421.6,1744.6 422.3,1743.1 423.0,1741.0 423.7,1738.2 424.4,1734.2 425.1,1728.8 425.8,1721.7 426.5,1713.1 427.2,1704.2 427.9,1696.8 428.6,1692.2 429.3,1690.2 430.0,1689.6 430.7,1690.4 431.4,1692.8 432.1,1698.1 432.8,1706.1 433.5,1715.2 434.2,1723.6 434.9,1730.4 435.6,1735.5 436.3,1739.2 437.0,1741.9 437.7,1743.8 438.4,1745.2 439.1,1746.1 439.8,1746.8 440.5,1747.2 441.2,1747.5 441.9,1747.6 442.6,1747.5 443.3,1747.3 444.0,1746.9 444.7,1746.2 445.4,1745.3 446.1,1744.1 446.8,1742.4 447.5,1740.1 448.2,1736.8 448.9,1732.4 449.6,1726.4 450.3,1718.7 451.0,1709.8 451.7,1701.3 452.4,1694.8 453.1,1691.2 453.8,1689.9 454.5,1689.8 455.2,1691.1 455.9,1694.5 456.6,1700.9 457.3,1709.5 458.0,1718.5 458.7,1726.3 459.4,1732.5 460.1,1737.0 460.8,1740.3 461.5,1742.7 462.2,1744.4 462.9,1745.6 463.6,1746.5 464.3,1747.1 465.0,1747.5 465.7,1747.8 466.4,1747.9 467.1,1747.8 467.8,1747.7 468.5,1747.3 469.2,1746.8 469.9,1746.1 470.6,1745.1 471.3,1743.7 472.0,1741.8 472.7,1739.3 473.4,1735.7 474.1,1730.8 474.8,1724.3 475.5,1716.2 476.2,1707.3 476.9,1699.2 477.6,1693.5 478.3,1690.8 479.0,1689.7 479.7,1690.1 480.4,1691.8 481.1,1696.1 481.8,1703.2 482.5,1712.1 483.2,1720.9 483.9,1728.3 484.6,1734.0 485.3,1738.1 486.0,1741.1 486.7,1743.3 487.4,1744.9 488.1,1746.0 488.8,1746.8 489.5,1747.4 490.2,1747.8 490.9,1748.1 491.6,1748.2 492.3,1748.2 493.0,1748.0 493.7,1747.8 494.4,1747.4 495.1,1746.8 495.8,1746.0 496.5,1744.9 497.2,1743.4 497.9,1741.4 498.6,1738.7 499.3,1734.9 500.0,1729.7 500.7,1722.8 501.4,1714.5 502.1,1705.6 502.8,1697.8 503.5,1692.8 504.2,1690.5 504.9,1689.7 505.6,1690.4 506.3,1692.5 507.0,1697.4 507.7,1705.0 508.4,1714.0 509.1,1722.6 509.8,1729.6 510.5,1735.0 511.2,1738.9 511.9,1741.7 512.6,1743.8 513.3,1745.2 514.0,1746.3 514.7,1747.1 515.4,1747.7 516.1,1748.1 516.8,1748.3 517.5,1748.5 518.2,1748.5 518.9,1748.4 519.6,1748.2 520.3,1747.9 521.0,1747.4 521.7,1746.8 522.4,1746.0 523.1,1744.8 523.8,1743.3 524.5,1741.2 525.2,1738.3 525.9,1734.3 526.6,1729.0 527.3,1721.9 528.0,1713.4 528.7,1704.6 529.4,1697.1 530.1,1692.4 530.8,1690.4 531.5,1689.7 532.2,1690.6 532.9,1693.0 533.6,1698.2 534.3,1706.2 535.0,1715.2 535.7,1723.7 536.4,1730.5 537.1,1735.7 537.8,1739.4 538.5,1742.2 539.2,1744.1 539.9,1745.6 540.6,1746.6 541.3,1747.4 542.0,1748.0 542.7,1748.4 543.4,1748.6 544.1,1748.8 544.8,1748.8 545.5,1748.7 546.2,1748.6 546.9,1748.3 547.6,1747.9 548.3,1747.3 549.0,1746.6 549.7,1745.5 550.4,1744.2 551.1,1742.3 551.8,1739.8 552.5,1736.3 553.2,1731.6 553.9,1725.2 554.6,1717.2 555.3,1708.3 556.0,1700.0 556.7,1694.1 557.4,1691.1 558.1,1690.0 558.8,1690.2 559.5,1691.7 560.2,1695.7 560.9,1702.7 561.6,1711.5 562.3,1720.4 563.0,1728.0 563.7,1733.8 564.4,1738.2 565.1,1741.3 565.8,1743.6 566.5,1745.2 567.2,1746.4 567.9,1747.3 568.6,1748.0 569.3,1748.5 570.0,1748.8 570.7,1749.0 571.4,1749.1 572.1,1749.1 572.8,1749.0 573.5,1748.8 574.2,1748.5 574.9,1748.1 575.6,1747.5 576.3,1746.7 577.0,1745.7 577.7,1744.3 578.4,1742.4 579.1,1739.8 579.8,1736.3 580.5,1731.5 581.2,1725.1 581.9,1717.0 582.6,1708.1 583.3,1699.8 584.0,1694.0 584.7,1691.1 585.4,1690.0 586.1,1690.3 586.8,1691.9 587.5,1696.0 588.2,1703.0 588.9,1711.9 589.6,1720.8 590.3,1728.3 591.0,1734.1 591.7,1738.3 592.4,1741.4 593.1,1743.7 593.8,1745.3 594.5,1746.5 595.2,1747.4 595.9,1748.1 596.6,1748.6 597.3,1748.9 598.0,1749.2 598.7,1749.3 599.4,1749.4 600.1,1749.4 600.8,1749.3 601.5,1749.1 602.2,1748.8 602.9,1748.4 603.6,1747.9 604.3,1747.2 605.0,1746.4 605.7,1745.2 606.4,1743.6 607.1,1741.4 607.8,1738.5 608.5,1734.5 609.2,1729.0 609.9,1721.9 610.6,1713.3 611.3,1704.5 612.0,1697.1 612.7,1692.5 613.4,1690.5 614.1,1689.9 614.8,1690.8 615.5,1693.3 616.2,1698.6 616.9,1706.7 617.6,1715.8 618.3,1724.2 619.0,1731.0 619.7,1736.1 620.4,1739.8 621.1,1742.6 621.8,1744.6 622.5,1746.0 623.2,1747.1 623.9,1747.9 624.6,1748.5 625.3,1749.0 626.0,1749.3 626.7,1749.5 627.4,1749.6 628.1,1749.7 628.8,1749.7 629.5,1749.6 630.2,1749.4 630.9,1749.2 631.6,1748.9 632.3,1748.4 633.0,1747.9 633.7,1747.1 634.4,1746.1 635.1,1744.8 635.8,1743.0 636.5,1740.7 637.2,1737.4 637.9,1732.9 638.6,1726.9 639.3,1719.2 640.0,1710.4 640.7,1701.8 641.4,1695.3 642.1,1691.7 642.8,1690.3 643.5,1690.2 644.2,1691.4 644.9,1694.8 645.6,1701.1 646.3,1709.7 647.0,1718.8 647.7,1726.7 648.4,1732.9 649.1,1737.5 649.8,1740.9 650.5,1743.4 651.2,1745.2 651.9,1746.5 652.6,1747.5 653.3,1748.2 654.0,1748.8 654.7,1749.2 655.4,1749.5 656.1,1749.8 656.8,1749.9 657.5,1750.0 658.2,1750.0 658.9,1750.0 659.6,1749.9 660.3,1749.7 661.0,1749.4 661.7,1749.1 662.4,1748.7 663.1,1748.1 663.8,1747.4 664.5,1746.5 665.2,1745.3 665.9,1743.7 666.6,1741.5 667.3,1738.5 668.0,1734.4 668.7,1728.9 669.4,1721.7 670.1,1713.1 670.8,1704.2 671.5,1696.9 672.2,1692.5" fill="none" stroke="#1455a6" stroke-width="4.3" stroke-linejoin="round" stroke-linecap="round"/>
<text x="539.7" y="1685.7" font-size="31" text-anchor="start" fill="#231815">0.1 mM</text>
<path d="M42.2 1722.0V1754.0H140.8" fill="none" stroke="#000" stroke-width="3.6" stroke-linejoin="miter"/>
<text x="35.2" y="1724.6" font-size="31" text-anchor="middle" fill="#000" transform="rotate(-90 35.2 1724.6)" textLength="84.6" lengthAdjust="spacingAndGlyphs">200 nS</text>
<text x="52.3" y="1786.5" font-size="30.6" text-anchor="start" fill="#000">10 s</text>
<polyline points="62.5,1796.0 63.2,1797.6 63.9,1801.1 64.6,1807.0 65.3,1814.6 66.0,1822.7 66.7,1830.0 67.4,1835.8 68.1,1839.8 68.8,1842.2 69.5,1843.0 70.2,1842.4 70.9,1840.2 71.6,1836.4 72.3,1830.9 73.0,1823.9 73.7,1816.1 74.4,1808.6 75.1,1802.6 75.8,1798.8 76.5,1796.8 77.2,1795.8 77.9,1795.4 78.6,1795.8 79.3,1797.1 80.0,1800.1 80.7,1805.7 81.4,1813.3 82.1,1821.8 82.8,1829.8 83.5,1836.2 84.2,1840.8 84.9,1843.6 85.6,1844.5 86.3,1843.8 87.0,1841.3 87.7,1837.0 88.4,1830.9 89.1,1823.2 89.8,1814.9 90.5,1807.3 91.2,1801.6 91.9,1798.2 92.6,1796.5 93.3,1795.7 94.0,1795.6 94.7,1796.2 95.4,1797.8 96.1,1801.5 96.8,1807.5 97.5,1815.3 98.2,1823.5 98.9,1831.0 99.6,1837.0 100.3,1841.4 101.0,1844.2 101.7,1845.6 102.4,1845.7 103.1,1844.5 103.8,1842.0 104.5,1837.9 105.2,1832.3 105.9,1825.2 106.6,1817.2 107.3,1809.5 108.0,1803.2 108.7,1799.2 109.4,1797.0 110.1,1796.0 110.8,1795.5 111.5,1796.0 112.2,1797.2 112.9,1800.1 113.6,1805.3 114.3,1812.7 115.0,1821.0 115.7,1828.9 116.4,1835.6 117.1,1840.7 117.8,1844.2 118.5,1846.2 119.2,1847.0 119.9,1846.7 120.6,1845.1 121.3,1842.2 122.0,1837.9 122.7,1832.0 123.4,1824.6 124.1,1816.6 124.8,1808.9 125.5,1802.8 126.2,1798.9 126.9,1796.9 127.6,1795.9 128.3,1795.6 129.0,1796.1 129.7,1797.5 130.4,1800.6 131.1,1806.0 131.8,1813.3 132.5,1821.4 133.2,1829.1 133.9,1835.5 134.6,1840.5 135.3,1844.1 136.0,1846.4 136.7,1847.8 137.4,1848.3 138.1,1848.0 138.8,1846.9 139.5,1844.8 140.2,1841.7 140.9,1837.2 141.6,1831.4 142.3,1824.3 143.0,1816.4 143.7,1808.9 144.4,1803.0 145.1,1799.1 145.8,1797.0 146.5,1796.0 147.2,1795.6 147.9,1796.2 148.6,1797.5 149.3,1800.6 150.0,1805.9 150.7,1813.2 151.4,1821.4 152.1,1829.3 152.8,1836.0 153.5,1841.1 154.2,1844.9 154.9,1847.6 155.6,1849.2 156.3,1850.1 157.0,1850.2 157.7,1849.6 158.4,1848.3 159.1,1846.2 159.8,1843.0 160.5,1838.6 161.2,1832.9 161.9,1825.8 162.6,1817.8 163.3,1810.1 164.0,1803.8 164.7,1799.6 165.4,1797.3 166.1,1796.2 166.8,1795.6 167.5,1796.2 168.2,1797.4 168.9,1800.2 169.6,1805.2 170.3,1812.2 171.0,1820.4 171.7,1828.3 172.4,1835.2 173.1,1840.6 173.8,1844.7 174.5,1847.7 175.2,1849.7 175.9,1851.1 176.6,1851.8 177.3,1852.1 178.0,1851.9 178.7,1851.3 179.4,1850.1 180.1,1848.3 180.8,1845.8 181.5,1842.3 182.2,1837.6 182.9,1831.6 183.6,1824.3 184.3,1816.4 185.0,1808.9 185.7,1803.0 186.4,1799.2 187.1,1797.1 187.8,1796.1 188.5,1795.7 189.2,1796.4 189.9,1797.8 190.6,1801.0 191.3,1806.4 192.0,1813.8 192.7,1822.1 193.4,1830.1 194.1,1836.8 194.8,1842.2 195.5,1846.2 196.2,1849.1 196.9,1851.2 197.6,1852.6 198.3,1853.5 199.0,1853.9 199.7,1854.0 200.4,1853.7 201.1,1853.0 201.8,1851.9 202.5,1850.2 203.2,1847.9 203.9,1844.8 204.6,1840.6 205.3,1835.1 206.0,1828.3 206.7,1820.5 207.4,1812.6 208.1,1805.7 208.8,1800.8 209.5,1798.0 210.2,1796.5 210.9,1795.7 211.6,1796.1 212.3,1797.1 213.0,1799.4 213.7,1803.8 214.4,1810.5 215.1,1818.7 215.8,1827.1 216.5,1834.6 217.2,1840.7 217.9,1845.4 218.6,1849.0 219.3,1851.5 220.0,1853.3 220.7,1854.6 221.4,1855.4 222.1,1855.8 222.8,1855.9 223.5,1855.7 224.2,1855.2 224.9,1854.4 225.6,1853.2 226.3,1851.5 227.0,1849.1 227.7,1845.9 228.4,1841.7 229.1,1836.3 229.8,1829.5 230.5,1821.6 231.2,1813.5 231.9,1806.4 232.6,1801.3 233.3,1798.2 234.0,1796.7 234.7,1795.8 235.4,1796.1 236.1,1797.0 236.8,1799.2 237.5,1803.5 238.2,1810.0 238.9,1818.2 239.6,1826.6 240.3,1834.3 241.0,1840.6 241.7,1845.5 242.4,1849.2 243.1,1851.8 243.8,1853.8 244.5,1855.2 245.2,1856.1 245.9,1856.7 246.6,1857.0 247.3,1857.0 248.0,1856.8 248.7,1856.4 249.4,1855.7 250.1,1854.6 250.8,1853.2 251.5,1851.2 252.2,1848.6 252.9,1845.1 253.6,1840.5 254.3,1834.6 255.0,1827.4 255.7,1819.4 256.4,1811.5 257.1,1804.8 257.8,1800.3 258.5,1797.7 259.2,1796.4 259.9,1795.7 260.6,1796.3 261.3,1797.6 262.0,1800.3 262.7,1805.3 263.4,1812.4 264.1,1820.8 264.8,1829.2 265.5,1836.5 266.2,1842.4 266.9,1847.0 267.6,1850.4 268.3,1852.9 269.0,1854.8 269.7,1856.1 270.4,1857.0 271.1,1857.6 271.8,1858.0 272.5,1858.2 273.2,1858.1 273.9,1857.9 274.6,1857.5 275.3,1856.9 276.0,1856.0 276.7,1854.8 277.4,1853.3 278.1,1851.2 278.8,1848.4 279.5,1844.8 280.2,1840.0 280.9,1833.9 281.6,1826.6 282.3,1818.5 283.0,1810.6 283.7,1804.2 284.4,1799.9 285.1,1797.6 285.8,1796.4 286.5,1795.8 287.2,1796.5 287.9,1797.9 288.6,1800.9 289.3,1806.2 290.0,1813.7 290.7,1822.2 291.4,1830.6 292.1,1837.9 292.8,1843.7 293.5,1848.2 294.2,1851.5 294.9,1854.0 295.6,1855.8 296.3,1857.1 297.0,1858.0 297.7,1858.7 298.4,1859.1 299.1,1859.3 299.8,1859.3 300.5,1859.2 301.2,1858.9 301.9,1858.4 302.6,1857.7 303.3,1856.8 304.0,1855.5 304.7,1853.9 305.4,1851.7 306.1,1848.9 306.8,1845.2 307.5,1840.3 308.2,1834.1 308.9,1826.6 309.6,1818.4 310.3,1810.5 311.0,1804.1 311.7,1799.9 312.4,1797.6 313.1,1796.4 313.8,1795.9 314.5,1796.6 315.2,1798.1 315.9,1801.2 316.6,1806.6 317.3,1814.1 318.0,1822.7 318.7,1831.1 319.4,1838.3 320.1,1844.1 320.8,1848.6 321.5,1852.0 322.2,1854.4 322.9,1856.3 323.6,1857.7 324.3,1858.7 325.0,1859.4 325.7,1859.9 326.4,1860.2 327.1,1860.4 327.8,1860.5 328.5,1860.4 329.2,1860.2 329.9,1859.9 330.6,1859.5 331.3,1858.9 332.0,1858.2 332.7,1857.2 333.4,1856.0 334.1,1854.4 334.8,1852.3 335.5,1849.6 336.2,1846.0 336.9,1841.4 337.6,1835.4 338.3,1828.2 339.0,1820.1 339.7,1812.1 340.4,1805.3 341.1,1800.6 341.8,1797.9 342.5,1796.6 343.2,1795.8 343.9,1796.5 344.6,1797.7 345.3,1800.5 346.0,1805.4 346.7,1812.7 347.4,1821.2 348.1,1829.8 348.8,1837.4 349.5,1843.6 350.2,1848.3 350.9,1851.9 351.6,1854.6 352.3,1856.6 353.0,1858.1 353.7,1859.3 354.4,1860.1 355.1,1860.7 355.8,1861.1 356.5,1861.4 357.2,1861.5 357.9,1861.6 358.6,1861.5 359.3,1861.4 360.0,1861.2 360.7,1860.8 361.4,1860.4 362.1,1859.8 362.8,1859.1 363.5,1858.2 364.2,1857.0 364.9,1855.5 365.6,1853.6 366.3,1851.1 367.0,1847.9 367.7,1843.6 368.4,1838.1 369.1,1831.3 369.8,1823.4 370.5,1815.1 371.2,1807.7 371.9,1802.2 372.6,1798.8 373.3,1797.0 374.0,1796.1 374.7,1796.2 375.4,1797.2 376.1,1799.3 376.8,1803.4 377.5,1809.9 378.2,1818.2 378.9,1827.0 379.6,1835.1 380.3,1841.8 381.0,1847.1 381.7,1851.2 382.4,1854.3 383.1,1856.5 383.8,1858.3 384.5,1859.5 385.2,1860.5 385.9,1861.2 386.6,1861.8 387.3,1862.2 388.0,1862.4 388.7,1862.6 389.4,1862.7 390.1,1862.7 390.8,1862.7 391.5,1862.5 392.2,1862.3 392.9,1862.1 393.6,1861.7 394.3,1861.3 395.0,1860.7 395.7,1860.1 396.4,1859.2 397.1,1858.2 397.8,1856.9 398.5,1855.2 399.2,1853.0 399.9,1850.3 400.6,1846.6 401.3,1841.9 402.0,1835.9 402.7,1828.6 403.4,1820.4 404.1,1812.2 404.8,1805.4 405.5,1800.7 406.2,1798.0 406.9,1796.7 407.6,1795.8 408.3,1796.6 409.0,1797.9 409.7,1800.7 410.4,1805.7 411.1,1813.0 411.8,1821.6 412.5,1830.2 413.2,1837.8 413.9,1844.0 414.6,1848.8 415.3,1852.4 416.0,1855.2 416.7,1857.2 417.4,1858.8 418.1,1860.0 418.8,1860.9 419.5,1861.6 420.2,1862.1 420.9,1862.5 421.6,1862.8 422.3,1863.0 423.0,1863.1 423.7,1863.1 424.4,1863.1 425.1,1863.1 425.8,1863.0 426.5,1862.8 427.2,1862.6 427.9,1862.3 428.6,1862.0 429.3,1861.6 430.0,1861.1 430.7,1860.5 431.4,1859.8 432.1,1858.9 432.8,1857.8 433.5,1856.5 434.2,1854.7 434.9,1852.5 435.6,1849.6 436.3,1845.8 437.0,1841.0 437.7,1834.8 438.4,1827.4 439.1,1819.2 439.8,1811.2 440.5,1804.6 441.2,1800.2 441.9,1797.8 442.6,1796.6 443.3,1796.0 444.0,1796.7 444.7,1798.2 445.4,1801.3 446.1,1806.6 446.8,1814.1 447.5,1822.8 448.2,1831.2 448.9,1838.7 449.6,1844.6 450.3,1849.3 451.0,1852.8 451.7,1855.4 452.4,1857.4 453.1,1859.0 453.8,1860.1 454.5,1861.0 455.2,1861.7 455.9,1862.2 456.6,1862.7 457.3,1863.0 458.0,1863.2 458.7,1863.4 459.4,1863.5 460.1,1863.6 460.8,1863.6 461.5,1863.6 462.2,1863.5 462.9,1863.4 463.6,1863.3 464.3,1863.1 465.0,1862.9 465.7,1862.6 466.4,1862.3 467.1,1862.0 467.8,1861.5 468.5,1861.0 469.2,1860.4 469.9,1859.7 470.6,1858.9 471.3,1857.8 472.0,1856.5 472.7,1854.8 473.4,1852.7 474.1,1850.0 474.8,1846.4 475.5,1841.8 476.2,1835.9 476.9,1828.7 477.6,1820.7 478.3,1812.6 479.0,1805.7 479.7,1800.9 480.4,1798.2 481.1,1796.8 481.8,1795.9 482.5,1796.6 483.2,1797.9 483.9,1800.5 484.6,1805.4 485.3,1812.6 486.0,1821.1 486.7,1829.7 487.4,1837.3 488.1,1843.6 488.8,1848.5 489.5,1852.2 490.2,1855.0 490.9,1857.1 491.6,1858.7 492.3,1860.0 493.0,1860.9 493.7,1861.7 494.4,1862.3 495.1,1862.7 495.8,1863.1 496.5,1863.4 497.2,1863.6 497.9,1863.8 498.6,1863.9 499.3,1864.0 500.0,1864.0 500.7,1864.0 501.4,1864.0 502.1,1863.9 502.8,1863.9 503.5,1863.7 504.2,1863.6 504.9,1863.4 505.6,1863.3 506.3,1863.0 507.0,1862.8 507.7,1862.4 508.4,1862.1 509.1,1861.7 509.8,1861.2 510.5,1860.6 511.2,1860.0 511.9,1859.2 512.6,1858.2 513.3,1857.0 514.0,1855.6 514.7,1853.7 515.4,1851.3 516.1,1848.2 516.8,1844.2 517.5,1839.0 518.2,1832.5 518.9,1824.9 519.6,1816.7 520.3,1809.1 521.0,1803.2 521.7,1799.4 522.4,1797.4 523.1,1796.4 523.8,1796.2 524.5,1797.1 525.2,1799.0 525.9,1802.6 526.6,1808.6 527.3,1816.6 528.0,1825.3 528.7,1833.5 529.4,1840.5 530.1,1846.1 530.8,1850.4 531.5,1853.7 532.2,1856.1 532.9,1858.0 533.6,1859.5 534.3,1860.6 535.0,1861.4 535.7,1862.1 536.4,1862.7 537.1,1863.1 537.8,1863.4 538.5,1863.7 539.2,1863.9 539.9,1864.1 540.6,1864.2 541.3,1864.3 542.0,1864.4 542.7,1864.4 543.4,1864.4 544.1,1864.4 544.8,1864.4 545.5,1864.3 546.2,1864.2 546.9,1864.1 547.6,1864.0 548.3,1863.9 549.0,1863.7 549.7,1863.5 550.4,1863.3 551.1,1863.0 551.8,1862.7 552.5,1862.4 553.2,1862.0 553.9,1861.6 554.6,1861.1 555.3,1860.5 556.0,1859.8 556.7,1859.0 557.4,1858.0 558.1,1856.8 558.8,1855.2 559.5,1853.3 560.2,1850.8 560.9,1847.6 561.6,1843.4 562.3,1838.1 563.0,1831.4 563.7,1823.6 564.4,1815.5 565.1,1808.1 565.8,1802.5 566.5,1799.1 567.2,1797.3 567.9,1796.3 568.6,1796.4 569.3,1797.4 570.0,1799.4 570.7,1803.4 571.4,1809.7 572.1,1817.9 572.8,1826.6 573.5,1834.6 574.2,1841.4 574.9,1846.8 575.6,1850.9 576.3,1854.1 577.0,1856.4 577.7,1858.3 578.4,1859.6 579.1,1860.7 579.8,1861.6 580.5,1862.3 581.2,1862.8 581.9,1863.3 582.6,1863.6 583.3,1863.9 584.0,1864.1 584.7,1864.3 585.4,1864.5 586.1,1864.6 586.8,1864.7 587.5,1864.8 588.2,1864.8 588.9,1864.8 589.6,1864.9 590.3,1864.9 591.0,1864.8 591.7,1864.8 592.4,1864.7 593.1,1864.7 593.8,1864.6 594.5,1864.5 595.2,1864.4 595.9,1864.2 596.6,1864.1 597.3,1863.9 598.0,1863.7 598.7,1863.5 599.4,1863.3 600.1,1863.0 600.8,1862.7 601.5,1862.4 602.2,1862.0 602.9,1861.6 603.6,1861.1 604.3,1860.6 605.0,1859.9 605.7,1859.1 606.4,1858.2 607.1,1857.0 607.8,1855.6 608.5,1853.9 609.2,1851.6 609.9,1848.7 610.6,1844.8 611.3,1839.9 612.0,1833.7 612.7,1826.3 613.4,1818.2 614.1,1810.5 614.8,1804.2 615.5,1800.1 616.2,1797.8 616.9,1796.6 617.6,1796.2 618.3,1797.0 619.0,1798.6 619.7,1801.8 620.4,1807.4 621.1,1815.0 621.8,1823.7 622.5,1832.1 623.2,1839.4 623.9,1845.2 624.6,1849.8 625.3,1853.2 626.0,1855.9 626.7,1857.8 627.4,1859.4 628.1,1860.6 628.8,1861.5 629.5,1862.3 630.2,1862.9 630.9,1863.3 631.6,1863.7 632.3,1864.1 633.0,1864.3 633.7,1864.5 634.4,1864.7 635.1,1864.9 635.8,1865.0 636.5,1865.1 637.2,1865.2 637.9,1865.2 638.6,1865.3 639.3,1865.3 640.0,1865.3 640.7,1865.3 641.4,1865.3 642.1,1865.2 642.8,1865.2 643.5,1865.1 644.2,1865.1 644.9,1865.0 645.6,1864.9 646.3,1864.8 647.0,1864.7 647.7,1864.5 648.4,1864.4 649.1,1864.2 649.8,1864.0 650.5,1863.8 651.2,1863.6 651.9,1863.3 652.6,1863.1 653.3,1862.7 654.0,1862.4 654.7,1862.0 655.4,1861.6 656.1,1861.0 656.8,1860.4 657.5,1859.8 658.2,1858.9 658.9,1857.9 659.6,1856.7 660.3,1855.2 661.0,1853.3 661.7,1850.8 662.4,1847.6 663.1,1843.4 663.8,1838.1 664.5,1831.5 665.2,1823.8 665.9,1815.7 666.6,1808.3 667.3,1802.7 668.0,1799.2 668.7,1797.4 669.4,1796.4 670.1,1796.5 670.8,1797.4 671.5,1799.4 672.2,1803.4" fill="none" stroke="#134089" stroke-width="4.3" stroke-linejoin="round" stroke-linecap="round"/>
<text x="539.7" y="1786.8" font-size="31" text-anchor="start" fill="#231815">0.2 mM</text>
<path d="M42.2 1830.3V1854.3H141.3" fill="none" stroke="#000" stroke-width="3.6" stroke-linejoin="miter"/>
<text x="35.2" y="1840.2" font-size="31" text-anchor="middle" fill="#000" transform="rotate(-90 35.2 1840.2)" textLength="84.8" lengthAdjust="spacingAndGlyphs">200 nS</text>
<text x="52.3" y="1886.5" font-size="30.6" text-anchor="start" fill="#000">10 s</text>
<polyline points="62.5,1912.7 63.2,1912.7 63.9,1913.0 64.6,1913.9 65.3,1915.7 66.0,1918.5 66.7,1921.9 67.4,1925.6 68.1,1929.2 68.8,1932.4 69.5,1935.2 70.2,1937.4 70.9,1939.1 71.6,1940.4 72.3,1941.4 73.0,1942.1 73.7,1942.5 74.4,1942.6 75.1,1942.6 75.8,1942.2 76.5,1941.6 77.2,1940.7 77.9,1939.3 78.6,1937.5 79.3,1935.1 80.0,1932.1 80.7,1928.4 81.4,1924.1 82.1,1919.5 82.8,1914.9 83.5,1911.0 84.2,1908.0 84.9,1906.1 85.6,1904.9 86.3,1904.1 87.0,1904.5 87.7,1905.3 88.4,1907.0 89.1,1910.0 89.8,1914.3 90.5,1919.5 91.2,1925.2 91.9,1930.6 92.6,1935.4 93.3,1939.5 94.0,1942.8 94.7,1945.4 95.4,1947.5 96.1,1949.1 96.8,1950.3 97.5,1951.2 98.2,1951.8 98.9,1952.3 99.6,1952.5 100.3,1952.5 101.0,1952.3 101.7,1952.0 102.4,1951.4 103.1,1950.6 103.8,1949.4 104.5,1948.0 105.2,1946.1 105.9,1943.6 106.6,1940.6 107.3,1936.8 108.0,1932.2 108.7,1927.1 109.4,1921.6 110.1,1916.4 110.8,1912.0 111.5,1908.9 112.2,1906.9 112.9,1905.8 113.6,1905.2 114.3,1905.7 115.0,1906.6 115.7,1908.4 116.4,1911.5 117.1,1915.8 117.8,1921.2 118.5,1926.8 119.2,1932.3 119.9,1937.1 120.6,1941.2 121.3,1944.5 122.0,1947.2 122.7,1949.3 123.4,1951.0 124.1,1952.3 124.8,1953.3 125.5,1954.1 126.2,1954.7 126.9,1955.1 127.6,1955.4 128.3,1955.5 129.0,1955.5 129.7,1955.4 130.4,1955.2 131.1,1954.8 131.8,1954.3 132.5,1953.6 133.2,1952.7 133.9,1951.5 134.6,1950.1 135.3,1948.2 136.0,1945.8 136.7,1942.9 137.4,1939.2 138.1,1934.9 138.8,1929.9 139.5,1924.4 140.2,1919.1 140.9,1914.4 141.6,1910.9 142.3,1908.5 143.0,1907.2 143.7,1906.5 144.4,1906.6 145.1,1907.4 145.8,1908.9 146.5,1911.5 147.2,1915.4 147.9,1920.4 148.6,1925.8 149.3,1931.2 150.0,1936.1 150.7,1940.3 151.4,1943.7 152.1,1946.5 152.8,1948.8 153.5,1950.5 154.2,1951.9 154.9,1953.1 155.6,1954.0 156.3,1954.7 157.0,1955.2 157.7,1955.6 158.4,1955.9 159.1,1956.1 159.8,1956.3 160.5,1956.3 161.2,1956.2 161.9,1956.1 162.6,1955.9 163.3,1955.6 164.0,1955.2 164.7,1954.6 165.4,1954.0 166.1,1953.1 166.8,1952.1 167.5,1950.8 168.2,1949.2 168.9,1947.2 169.6,1944.6 170.3,1941.5 171.0,1937.7 171.7,1933.2 172.4,1928.2 173.1,1922.9 173.8,1918.0 174.5,1913.8 175.2,1910.9 175.9,1909.1 176.6,1908.0 177.3,1907.4 178.0,1908.1 178.7,1909.1 179.4,1911.1 180.1,1914.2 180.8,1918.6 181.5,1923.9 182.2,1929.4 182.9,1934.7 183.6,1939.4 184.3,1943.4 185.0,1946.6 185.7,1949.3 186.4,1951.4 187.1,1953.1 187.8,1954.4 188.5,1955.5 189.2,1956.4 189.9,1957.1 190.6,1957.7 191.3,1958.2 192.0,1958.5 192.7,1958.8 193.4,1959.0 194.1,1959.2 194.8,1959.3 195.5,1959.3 196.2,1959.3 196.9,1959.2 197.6,1959.1 198.3,1958.9 199.0,1958.7 199.7,1958.4 200.4,1958.0 201.1,1957.5 201.8,1957.0 202.5,1956.3 203.2,1955.5 203.9,1954.5 204.6,1953.3 205.3,1951.8 206.0,1950.0 206.7,1947.7 207.4,1944.9 208.1,1941.5 208.8,1937.4 209.5,1932.6 210.2,1927.4 210.9,1922.2 211.6,1917.6 212.3,1913.9 213.0,1911.5 213.7,1910.1 214.4,1909.3 215.1,1909.2 215.8,1910.0 216.5,1911.4 217.2,1913.9 217.9,1917.7 218.6,1922.5 219.3,1928.0 220.0,1933.5 220.7,1938.6 221.4,1943.0 222.1,1946.7 222.8,1949.7 223.5,1952.1 224.2,1954.0 224.9,1955.6 225.6,1956.9 226.3,1958.0 227.0,1958.8 227.7,1959.5 228.4,1960.1 229.1,1960.6 229.8,1961.0 230.5,1961.4 231.2,1961.7 231.9,1961.9 232.6,1962.1 233.3,1962.2 234.0,1962.3 234.7,1962.3 235.4,1962.3 236.1,1962.3 236.8,1962.3 237.5,1962.2 238.2,1962.1 238.9,1961.9 239.6,1961.7 240.3,1961.5 241.0,1961.2 241.7,1960.9 242.4,1960.5 243.1,1960.0 243.8,1959.5 244.5,1958.9 245.2,1958.2 245.9,1957.3 246.6,1956.3 247.3,1955.1 248.0,1953.6 248.7,1951.8 249.4,1949.6 250.1,1946.9 250.8,1943.6 251.5,1939.6 252.2,1935.0 252.9,1929.9 253.6,1924.7 254.3,1920.0 255.0,1916.3 255.7,1913.7 256.4,1912.1 257.1,1911.3 257.8,1911.0 258.5,1911.8 259.2,1913.1 259.9,1915.4 260.6,1919.0 261.3,1923.6 262.0,1929.0 262.7,1934.5 263.4,1939.6 264.1,1944.1 264.8,1947.8 265.5,1950.9 266.2,1953.4 266.9,1955.5 267.6,1957.1 268.3,1958.5 269.0,1959.6 269.7,1960.5 270.4,1961.3 271.1,1961.9 271.8,1962.5 272.5,1962.9 273.2,1963.3 273.9,1963.7 274.6,1964.0 275.3,1964.2 276.0,1964.4 276.7,1964.6 277.4,1964.7 278.1,1964.8 278.8,1964.9 279.5,1965.0 280.2,1965.0 280.9,1965.0 281.6,1965.0 282.3,1964.9 283.0,1964.9 283.7,1964.8 284.4,1964.6 285.1,1964.5 285.8,1964.3 286.5,1964.1 287.2,1963.9 287.9,1963.6 288.6,1963.3 289.3,1963.0 290.0,1962.6 290.7,1962.2 291.4,1961.7 292.1,1961.2 292.8,1960.5 293.5,1959.8 294.2,1959.0 294.9,1958.0 295.6,1956.8 296.3,1955.4 297.0,1953.7 297.7,1951.6 298.4,1949.0 299.1,1945.9 299.8,1942.2 300.5,1937.8 301.2,1932.9 301.9,1927.8 302.6,1923.0 303.3,1919.0 304.0,1916.1 304.7,1914.4 305.4,1913.4 306.1,1912.8 306.8,1913.5 307.5,1914.6 308.2,1916.6 308.9,1919.8 309.6,1924.2 310.3,1929.4 311.0,1934.8 311.7,1940.0 312.4,1944.6 313.1,1948.5 313.8,1951.7 314.5,1954.3 315.2,1956.5 315.9,1958.2 316.6,1959.7 317.3,1960.9 318.0,1961.9 318.7,1962.7 319.4,1963.5 320.1,1964.1 320.8,1964.6 321.5,1965.1 322.2,1965.5 322.9,1965.9 323.6,1966.2 324.3,1966.5 325.0,1966.8 325.7,1967.0 326.4,1967.2 327.1,1967.4 327.8,1967.5 328.5,1967.6 329.2,1967.8 329.9,1967.8 330.6,1967.9 331.3,1968.0 332.0,1968.0 332.7,1968.0 333.4,1968.0 334.1,1968.0 334.8,1968.0 335.5,1968.0 336.2,1967.9 336.9,1967.8 337.6,1967.7 338.3,1967.6 339.0,1967.5 339.7,1967.4 340.4,1967.2 341.1,1967.1 341.8,1966.9 342.5,1966.7 343.2,1966.5 343.9,1966.2 344.6,1966.0 345.3,1965.7 346.0,1965.4 346.7,1965.1 347.4,1964.7 348.1,1964.3 348.8,1963.9 349.5,1963.4 350.2,1962.9 350.9,1962.3 351.6,1961.6 352.3,1960.8 353.0,1959.9 353.7,1958.9 354.4,1957.7 355.1,1956.2 355.8,1954.5 356.5,1952.4 357.2,1949.8 357.9,1946.6 358.6,1942.9 359.3,1938.5 360.0,1933.7 360.7,1928.7 361.4,1924.1 362.1,1920.4 362.8,1917.7 363.5,1916.1 364.2,1915.2 364.9,1914.8 365.6,1915.5 366.3,1916.8 367.0,1919.0 367.7,1922.4 368.4,1926.9 369.1,1932.1 369.8,1937.6 370.5,1942.7 371.2,1947.2 371.9,1951.1 372.6,1954.3 373.3,1956.9 374.0,1959.0 374.7,1960.7 375.4,1962.2 376.1,1963.4 376.8,1964.4 377.5,1965.3 378.2,1966.0 378.9,1966.7 379.6,1967.3 380.3,1967.8 381.0,1968.3 381.7,1968.7 382.4,1969.1 383.1,1969.4 383.8,1969.7 384.5,1970.0 385.2,1970.3 385.9,1970.5 386.6,1970.7 387.3,1970.9 388.0,1971.1 388.7,1971.3 389.4,1971.4 390.1,1971.5 390.8,1971.7 391.5,1971.8 392.2,1971.9 392.9,1971.9 393.6,1972.0 394.3,1972.1 395.0,1972.1 395.7,1972.1 396.4,1972.2 397.1,1972.2 397.8,1972.2 398.5,1972.2 399.2,1972.2 399.9,1972.2 400.6,1972.1 401.3,1972.1 402.0,1972.0 402.7,1972.0 403.4,1971.9 404.1,1971.8 404.8,1971.7 405.5,1971.6 406.2,1971.5 406.9,1971.4 407.6,1971.3 408.3,1971.1 409.0,1971.0 409.7,1970.8 410.4,1970.7 411.1,1970.5 411.8,1970.3 412.5,1970.1 413.2,1969.9 413.9,1969.6 414.6,1969.4 415.3,1969.1 416.0,1968.8 416.7,1968.6 417.4,1968.2 418.1,1967.9 418.8,1967.6 419.5,1967.2 420.2,1966.8 420.9,1966.3 421.6,1965.9 422.3,1965.4 423.0,1964.8 423.7,1964.2 424.4,1963.5 425.1,1962.7 425.8,1961.7 426.5,1960.7 427.2,1959.5 427.9,1958.0 428.6,1956.2 429.3,1954.1 430.0,1951.5 430.7,1948.4 431.4,1944.7 432.1,1940.4 432.8,1935.7 433.5,1930.9 434.2,1926.4 434.9,1922.9 435.6,1920.4 436.3,1919.0 437.0,1918.1 437.7,1917.9 438.4,1918.7 439.1,1920.0 439.8,1922.2 440.5,1925.6 441.2,1930.0 441.9,1935.1 442.6,1940.3 443.3,1945.2 444.0,1949.5 444.7,1953.1 445.4,1956.1 446.1,1958.6 446.8,1960.6 447.5,1962.2 448.2,1963.6 448.9,1964.8 449.6,1965.8 450.3,1966.6 451.0,1967.4 451.7,1968.0 452.4,1968.6 453.1,1969.1 453.8,1969.6 454.5,1970.0 455.2,1970.4 455.9,1970.7 456.6,1971.1 457.3,1971.4 458.0,1971.7 458.7,1971.9 459.4,1972.2 460.1,1972.4 460.8,1972.6 461.5,1972.8 462.2,1973.0 462.9,1973.1 463.6,1973.3 464.3,1973.4 465.0,1973.5 465.7,1973.7 466.4,1973.8 467.1,1973.9 467.8,1974.0 468.5,1974.1 469.2,1974.1 469.9,1974.2 470.6,1974.3 471.3,1974.3 472.0,1974.4 472.7,1974.4 473.4,1974.4 474.1,1974.4 474.8,1974.5 475.5,1974.5 476.2,1974.5 476.9,1974.5 477.6,1974.5 478.3,1974.4 479.0,1974.4 479.7,1974.4 480.4,1974.3 481.1,1974.3 481.8,1974.2 482.5,1974.2 483.2,1974.1 483.9,1974.0 484.6,1974.0 485.3,1973.9 486.0,1973.8 486.7,1973.7 487.4,1973.6 488.1,1973.5 488.8,1973.4 489.5,1973.2 490.2,1973.1 490.9,1973.0 491.6,1972.8 492.3,1972.7 493.0,1972.5 493.7,1972.3 494.4,1972.1 495.1,1971.9 495.8,1971.8 496.5,1971.5 497.2,1971.3 497.9,1971.1 498.6,1970.9 499.3,1970.6 500.0,1970.4 500.7,1970.1 501.4,1969.8 502.1,1969.5 502.8,1969.2 503.5,1968.8 504.2,1968.5 504.9,1968.1 505.6,1967.7 506.3,1967.3 507.0,1966.8 507.7,1966.3 508.4,1965.7 509.1,1965.1 509.8,1964.4 510.5,1963.6 511.2,1962.7 511.9,1961.7 512.6,1960.5 513.3,1959.0 514.0,1957.3 514.7,1955.2 515.4,1952.6 516.1,1949.6 516.8,1945.9 517.5,1941.7 518.2,1937.2 518.9,1932.8 519.6,1928.8 520.3,1925.7 521.0,1923.6 521.7,1922.4 522.4,1921.7 523.1,1921.8 523.8,1922.7 524.5,1924.1 525.2,1926.4 525.9,1929.8 526.6,1934.1 527.3,1939.0 528.0,1943.8 528.7,1948.2 529.4,1952.0 530.1,1955.2 530.8,1957.9 531.5,1960.0 532.2,1961.8 532.9,1963.3 533.6,1964.5 534.3,1965.6 535.0,1966.5 535.7,1967.3 536.4,1967.9 537.1,1968.5 537.8,1969.1 538.5,1969.5 539.2,1970.0 539.9,1970.4 540.6,1970.7 541.3,1971.1 542.0,1971.4 542.7,1971.7 543.4,1971.9 544.1,1972.2 544.8,1972.4 545.5,1972.7 546.2,1972.9 546.9,1973.1 547.6,1973.2 548.3,1973.4 549.0,1973.6 549.7,1973.7 550.4,1973.9 551.1,1974.0 551.8,1974.1 552.5,1974.2 553.2,1974.3 553.9,1974.4 554.6,1974.5 555.3,1974.6 556.0,1974.7 556.7,1974.8 557.4,1974.8 558.1,1974.9 558.8,1975.0 559.5,1975.0 560.2,1975.1 560.9,1975.1 561.6,1975.1 562.3,1975.2 563.0,1975.2 563.7,1975.2 564.4,1975.2 565.1,1975.2 565.8,1975.2 566.5,1975.2 567.2,1975.2 567.9,1975.2 568.6,1975.2 569.3,1975.2 570.0,1975.2 570.7,1975.1 571.4,1975.1 572.1,1975.1 572.8,1975.0 573.5,1975.0 574.2,1974.9 574.9,1974.9 575.6,1974.8 576.3,1974.7 577.0,1974.7 577.7,1974.6 578.4,1974.5 579.1,1974.4 579.8,1974.4 580.5,1974.3 581.2,1974.2 581.9,1974.1 582.6,1974.0 583.3,1973.8 584.0,1973.7 584.7,1973.6 585.4,1973.5 586.1,1973.4 586.8,1973.2 587.5,1973.1 588.2,1972.9 588.9,1972.8 589.6,1972.6 590.3,1972.4 591.0,1972.3 591.7,1972.1 592.4,1971.9 593.1,1971.7 593.8,1971.5 594.5,1971.3 595.2,1971.1 595.9,1970.9 596.6,1970.6 597.3,1970.4 598.0,1970.1 598.7,1969.8 599.4,1969.5 600.1,1969.2 600.8,1968.9 601.5,1968.6 602.2,1968.2 602.9,1967.8 603.6,1967.4 604.3,1966.9 605.0,1966.4 605.7,1965.9 606.4,1965.3 607.1,1964.6 607.8,1963.8 608.5,1962.9 609.2,1961.8 609.9,1960.5 610.6,1959.0 611.3,1957.2 612.0,1955.0 612.7,1952.3 613.4,1949.1 614.1,1945.4 614.8,1941.5 615.5,1937.6 616.2,1934.2 616.9,1931.5 617.6,1929.7 618.3,1928.7 619.0,1928.1 619.7,1928.2 620.4,1929.0 621.1,1930.2 621.8,1932.3 622.5,1935.3 623.2,1939.1 623.9,1943.4 624.6,1947.6 625.3,1951.5 626.0,1954.8 626.7,1957.7 627.4,1960.0 628.1,1961.9 628.8,1963.5 629.5,1964.8 630.2,1965.9 630.9,1966.8 631.6,1967.6 632.3,1968.3 633.0,1968.9 633.7,1969.4 634.4,1969.9 635.1,1970.3 635.8,1970.7 636.5,1971.1 637.2,1971.4 637.9,1971.7 638.6,1972.0 639.3,1972.3 640.0,1972.5 640.7,1972.7 641.4,1973.0 642.1,1973.2 642.8,1973.3 643.5,1973.5 644.2,1973.7 644.9,1973.9 645.6,1974.0 646.3,1974.2 647.0,1974.3 647.7,1974.4 648.4,1974.6 649.1,1974.7 649.8,1974.8 650.5,1974.9 651.2,1975.0 651.9,1975.1 652.6,1975.2 653.3,1975.2 654.0,1975.3 654.7,1975.4 655.4,1975.5 656.1,1975.5 656.8,1975.6 657.5,1975.6 658.2,1975.7 658.9,1975.7 659.6,1975.8 660.3,1975.8 661.0,1975.8 661.7,1975.9 662.4,1975.9 663.1,1975.9 663.8,1975.9 664.5,1976.0 665.2,1976.0 665.9,1976.0 666.6,1976.0 667.3,1976.0 668.0,1976.0 668.7,1976.0 669.4,1976.0 670.1,1976.0 670.8,1976.0 671.5,1975.9 672.2,1975.9" fill="none" stroke="#0e6068" stroke-width="4.3" stroke-linejoin="round" stroke-linecap="round"/>
<text x="539.7" y="1902.4" font-size="31" text-anchor="start" fill="#231815">0.5 mM</text>
<path d="M42.2 1940.2V1962.6H153.6" fill="none" stroke="#000" stroke-width="3.6" stroke-linejoin="miter"/>
<text x="35.2" y="1932.3" font-size="31" text-anchor="middle" fill="#000" transform="rotate(-90 35.2 1932.3)" textLength="82.9" lengthAdjust="spacingAndGlyphs">200 nS</text>
<text x="52.3" y="1994.6" font-size="30.6" text-anchor="start" fill="#000">10 s</text>
<polyline points="62.5,2062.7 63.7,2062.9 64.9,2063.0 66.1,2063.1 67.3,2063.1 68.5,2063.1 69.7,2063.0 70.9,2062.9 72.1,2062.7 73.3,2062.5 74.5,2062.2 75.7,2061.7 76.9,2061.2 78.1,2060.6 79.3,2059.8 80.5,2058.8 81.7,2057.6 82.9,2056.1 84.1,2054.3 85.3,2052.2 86.5,2049.7 87.7,2046.8 88.9,2043.3 90.1,2039.4 91.3,2035.2 92.5,2030.7 93.7,2026.1 94.9,2021.6 96.1,2017.6 97.3,2014.1 98.5,2011.3 99.7,2009.1 100.9,2007.6 102.1,2006.6 103.3,2005.9 104.5,2005.5 105.7,2005.1 106.9,2004.9 108.1,2004.6 109.3,2004.5 110.5,2005.1 111.7,2005.7 112.9,2006.3 114.1,2007.0 115.3,2007.8 116.5,2008.8 117.7,2010.2 118.9,2012.0 120.1,2014.4 121.3,2017.3 122.5,2020.8 123.7,2024.9 124.9,2029.2 126.1,2033.6 127.3,2038.0 128.5,2042.1 129.7,2045.9 130.9,2049.3 132.1,2052.3 133.3,2054.9 134.5,2057.1 135.7,2058.9 136.9,2060.5 138.1,2061.9 139.3,2063.1 140.5,2064.0 141.7,2064.9 142.9,2065.6 144.1,2066.2 145.3,2066.7 146.5,2067.2 147.7,2067.6 148.9,2067.9 150.1,2068.2 151.3,2068.4 152.5,2068.6 153.7,2068.7 154.9,2068.8 156.1,2068.8 157.3,2068.8 158.5,2068.7 159.7,2068.6 160.9,2068.4 162.1,2068.1 163.3,2067.8 164.5,2067.3 165.7,2066.8 166.9,2066.1 168.1,2065.2 169.3,2064.2 170.5,2062.9 171.7,2061.3 172.9,2059.5 174.1,2057.2 175.3,2054.5 176.5,2051.4 177.7,2047.8 178.9,2043.7 180.1,2039.3 181.3,2034.5 182.5,2029.8 183.7,2025.2 184.9,2021.1 186.1,2017.6 187.3,2014.8 188.5,2012.7 189.7,2011.2 190.9,2010.2 192.1,2009.6 193.3,2009.2 194.5,2008.9 195.7,2008.6 196.9,2008.4 198.1,2008.4 199.3,2009.0 200.5,2009.5 201.7,2010.1 202.9,2010.8 204.1,2011.6 205.3,2012.7 206.5,2014.0 207.7,2015.9 208.9,2018.3 210.1,2021.3 211.3,2024.8 212.5,2028.8 213.7,2033.0 214.9,2037.4 216.1,2041.7 217.3,2045.7 218.5,2049.3 219.7,2052.6 220.9,2055.5 222.1,2057.9 223.3,2060.0 224.5,2061.9 225.7,2063.4 226.9,2064.7 228.1,2065.8 229.3,2066.8 230.5,2067.6 231.7,2068.3 232.9,2068.9 234.1,2069.4 235.3,2069.9 236.5,2070.3 237.7,2070.6 238.9,2070.9 240.1,2071.2 241.3,2071.4 242.5,2071.5 243.7,2071.7 244.9,2071.7 246.1,2071.8 247.3,2071.8 248.5,2071.8 249.7,2071.7 250.9,2071.6 252.1,2071.4 253.3,2071.2 254.5,2070.9 255.7,2070.5 256.9,2070.0 258.1,2069.4 259.3,2068.7 260.5,2067.8 261.7,2066.7 262.9,2065.3 264.1,2063.7 265.3,2061.7 266.5,2059.4 267.7,2056.7 268.9,2053.4 270.1,2049.8 271.3,2045.6 272.5,2041.2 273.7,2036.5 274.9,2031.9 276.1,2027.5 277.3,2023.6 278.5,2020.4 279.7,2017.9 280.9,2016.0 282.1,2014.7 283.3,2013.8 284.5,2013.2 285.7,2012.9 286.9,2012.6 288.1,2012.3 289.3,2012.1 290.5,2012.3 291.7,2012.9 292.9,2013.4 294.1,2014.0 295.3,2014.7 296.5,2015.5 297.7,2016.6 298.9,2018.1 300.1,2020.1 301.3,2022.6 302.5,2025.7 303.7,2029.3 304.9,2033.4 306.1,2037.7 307.3,2042.0 308.5,2046.1 309.7,2050.0 310.9,2053.6 312.1,2056.7 313.3,2059.4 314.5,2061.8 315.7,2063.8 316.9,2065.5 318.1,2067.0 319.3,2068.2 320.5,2069.3 321.7,2070.2 322.9,2071.0 324.1,2071.7 325.3,2072.3 326.5,2072.8 327.7,2073.3 328.9,2073.7 330.1,2074.0 331.3,2074.3 332.5,2074.6 333.7,2074.8 334.9,2075.0 336.1,2075.2 337.3,2075.3 338.5,2075.5 339.7,2075.5 340.9,2075.6 342.1,2075.6 343.3,2075.6 344.5,2075.5 345.7,2075.5 346.9,2075.3 348.1,2075.2 349.3,2074.9 350.5,2074.6 351.7,2074.2 352.9,2073.8 354.1,2073.2 355.3,2072.5 356.5,2071.7 357.7,2070.7 358.9,2069.4 360.1,2067.9 361.3,2066.1 362.5,2063.9 363.7,2061.3 364.9,2058.3 366.1,2054.8 367.3,2050.8 368.5,2046.5 369.7,2041.8 370.9,2037.1 372.1,2032.5 373.3,2028.3 374.5,2024.6 375.7,2021.7 376.9,2019.4 378.1,2017.8 379.3,2016.7 380.5,2015.9 381.7,2015.4 382.9,2015.1 384.1,2014.8 385.3,2014.5 386.5,2014.3 387.7,2014.8 388.9,2015.4 390.1,2015.9 391.3,2016.5 392.5,2017.2 393.7,2018.2 394.9,2019.4 396.1,2021.1 397.3,2023.3 398.5,2026.0 399.7,2029.3 400.9,2033.1 402.1,2037.2 403.3,2041.4 404.5,2045.6 405.7,2049.6 406.9,2053.2 408.1,2056.5 409.3,2059.3 410.5,2061.8 411.7,2064.0 412.9,2065.8 414.1,2067.4 415.3,2068.7 416.5,2069.8 417.7,2070.8 418.9,2071.7 420.1,2072.4 421.3,2073.0 422.5,2073.6 423.7,2074.1 424.9,2074.5 426.1,2074.9 427.3,2075.2 428.5,2075.5 429.7,2075.7 430.9,2075.9 432.1,2076.1 433.3,2076.3 434.5,2076.4 435.7,2076.6 436.9,2076.6 438.1,2076.7 439.3,2076.7 440.5,2076.7 441.7,2076.7 442.9,2076.7 444.1,2076.6 445.3,2076.4 446.5,2076.2 447.7,2076.0 448.9,2075.7 450.1,2075.3 451.3,2074.9 452.5,2074.3 453.7,2073.6 454.9,2072.8 456.1,2071.8 457.3,2070.6 458.5,2069.1 459.7,2067.4 460.9,2065.2 462.1,2062.7 463.3,2059.7 464.5,2056.3 465.7,2052.4 466.9,2048.1 468.1,2043.5 469.3,2038.8 470.5,2034.2 471.7,2030.0 472.9,2026.4 474.1,2023.4 475.3,2021.1 476.5,2019.4 477.7,2018.3 478.9,2017.5 480.1,2017.0 481.3,2016.7 482.5,2016.4 483.7,2016.1 484.9,2015.8 486.1,2016.3 487.3,2016.9 488.5,2017.4 489.7,2018.0 490.9,2018.7 492.1,2019.6 493.3,2020.8 494.5,2022.5 495.7,2024.6 496.9,2027.3 498.1,2030.5 499.3,2034.3 500.5,2038.3 501.7,2042.5 502.9,2046.7 504.1,2050.7 505.3,2054.3 506.5,2057.6 507.7,2060.5 508.9,2063.0 510.1,2065.1 511.3,2066.9 512.5,2068.5 513.7,2069.9 514.9,2071.0 516.1,2072.0 517.3,2072.9 518.5,2073.6 519.7,2074.2 520.9,2074.8 522.1,2075.3 523.3,2075.7 524.5,2076.1 525.7,2076.4 526.9,2076.7 528.1,2077.0 529.3,2077.2 530.5,2077.5 531.7,2077.6 532.9,2077.8 534.1,2077.9 535.3,2078.0 536.5,2078.1 537.7,2078.2 538.9,2078.2 540.1,2078.3 541.3,2078.3 542.5,2078.2 543.7,2078.2 544.9,2078.1 546.1,2077.9 547.3,2077.7 548.5,2077.5 549.7,2077.2 550.9,2076.9 552.1,2076.4 553.3,2075.9 554.5,2075.3 555.7,2074.5 556.9,2073.5 558.1,2072.4 559.3,2071.0 560.5,2069.3 561.7,2067.3 562.9,2064.9 564.1,2062.1 565.3,2058.8 566.5,2055.1 567.7,2050.9 568.9,2046.4 570.1,2041.8 571.3,2037.2 572.5,2032.9 573.7,2029.1 574.9,2026.0 576.1,2023.5 577.3,2021.7 578.5,2020.4 579.7,2019.6 580.9,2019.0 582.1,2018.6 583.3,2018.3 584.5,2018.0 585.7,2017.7 586.9,2018.1 588.1,2018.6 589.3,2019.1 590.5,2019.6 591.7,2020.3 592.9,2021.1 594.1,2022.2 595.3,2023.7 596.5,2025.6 597.7,2028.1 598.9,2031.2 600.1,2034.7 601.3,2038.7 602.5,2042.8 603.7,2046.9 604.9,2050.9 606.1,2054.6 607.3,2058.0 608.5,2060.9 609.7,2063.5 610.9,2065.7 612.1,2067.6 613.3,2069.3 614.5,2070.7 615.7,2071.9 616.9,2072.9 618.1,2073.8 619.3,2074.6 620.5,2075.2 621.7,2075.8 622.9,2076.3 624.1,2076.8 625.3,2077.2 626.5,2077.6 627.7,2077.9 628.9,2078.2 630.1,2078.5 631.3,2078.7 632.5,2078.9 633.7,2079.1 634.9,2079.3 636.1,2079.4 637.3,2079.6 638.5,2079.7 639.7,2079.8 640.9,2079.9 642.1,2080.0 643.3,2080.1 644.5,2080.1 645.7,2080.1 646.9,2080.2 648.1,2080.1 649.3,2080.1 650.5,2080.1 651.7,2080.0 652.9,2079.9 654.1,2079.8 655.3,2079.6 656.5,2079.4 657.7,2079.1 658.9,2078.8 660.1,2078.4 661.3,2078.0 662.5,2077.4 663.7,2076.7 664.9,2075.9 666.1,2074.9 667.3,2073.7 668.5,2072.3 669.7,2070.6 670.9,2068.6 672.1,2066.1" fill="none" stroke="#139aa0" stroke-width="4.3" stroke-linejoin="round" stroke-linecap="round"/>
<text x="540.4" y="2007.7" font-size="31" text-anchor="start" fill="#231815">1 mM</text>
<path d="M42.2 2047.8V2068.7H142.4" fill="none" stroke="#000" stroke-width="3.6" stroke-linejoin="miter"/>
<text x="35.2" y="2048.3" font-size="31" text-anchor="middle" fill="#000" transform="rotate(-90 35.2 2048.3)" textLength="84.1" lengthAdjust="spacingAndGlyphs">200 nS</text>
<text x="52.3" y="2100.4" font-size="30.6" text-anchor="start" fill="#000">10 s</text>
<text x="686.5" y="1243.5" font-size="35" text-anchor="start" fill="#231815" font-weight="bold">H</text>
<clipPath id="clipH"><rect x="733.8" y="1277.0" width="595.9000000000001" height="816.8000000000002"/></clipPath>
<g clip-path="url(#clipH)">
<polyline points="735.7,1285.2 740.7,1288.0 745.7,1290.8 750.7,1293.6 755.7,1296.5 760.7,1299.3 765.7,1302.3 770.7,1305.3 775.7,1307.6 780.7,1309.6 785.7,1312.0 790.7,1315.2 795.7,1317.6 800.7,1319.5 805.7,1321.9 810.7,1324.3 815.7,1325.9 820.7,1327.6 825.7,1329.5 830.7,1331.7 835.7,1334.9 840.7,1336.4 845.7,1336.5 850.7,1338.5 855.7,1340.8 860.7,1342.9 865.7,1344.7 870.7,1346.1 875.7,1347.4 880.7,1348.5 885.7,1350.0 890.7,1351.7 895.7,1353.3 900.7,1354.4 905.7,1355.2 910.7,1356.4 915.7,1357.8 920.7,1359.0 925.7,1360.0 930.7,1360.9 935.7,1361.8 940.7,1362.6 945.7,1363.4 950.7,1364.2 955.7,1365.1 960.7,1365.9 965.7,1366.7 970.7,1367.4 975.7,1368.1 980.7,1368.7 985.7,1369.3 990.7,1369.8 995.7,1370.2 1000.7,1370.6 1005.7,1371.0 1010.7,1371.4 1015.7,1371.8 1020.7,1372.2 1025.7,1372.6 1030.7,1372.9 1035.7,1373.3 1040.7,1373.7 1045.7,1374.0 1050.7,1374.3 1055.7,1374.6 1060.7,1374.9 1065.7,1375.1 1070.7,1375.3 1075.7,1375.5 1080.7,1375.7 1085.7,1375.9 1090.7,1376.0 1095.7,1376.2 1100.7,1376.3 1105.7,1376.5 1110.7,1376.6 1115.7,1376.7 1120.7,1376.8 1125.7,1376.9 1130.7,1376.9 1135.7,1377.0 1140.7,1377.1 1145.7,1377.2 1150.7,1377.2 1155.7,1377.3 1160.7,1377.4 1165.7,1377.4 1170.7,1377.5 1175.7,1377.5 1180.7,1377.5 1185.7,1377.6 1190.7,1377.6 1195.7,1377.6 1200.7,1377.7 1205.7,1377.7 1210.7,1377.7 1215.7,1377.8 1220.7,1377.8 1225.7,1377.8 1230.7,1377.9 1235.7,1377.9 1240.7,1377.9 1245.7,1377.9 1250.7,1378.0 1255.7,1378.0 1260.7,1378.0 1265.7,1378.0 1270.7,1378.0 1275.7,1378.1 1280.7,1378.1 1285.7,1378.1 1290.7,1378.1 1295.7,1378.1 1300.7,1378.1 1305.7,1378.1 1310.7,1378.1 1315.7,1378.1 1320.7,1378.2 1325.7,1378.2 1329.7,1378.2" fill="none" stroke="#5aa9ba" stroke-width="3.8" stroke-linejoin="round" stroke-linecap="round"/>
<polyline points="735.7,1400.8 740.7,1404.5 745.7,1407.2 750.7,1408.4 755.7,1409.1 760.7,1409.4 765.7,1408.8 770.7,1407.1 775.7,1406.4 780.7,1406.1 785.7,1405.4 790.7,1404.2 795.7,1403.9 800.7,1404.2 805.7,1404.5 810.7,1405.2 815.7,1407.0 820.7,1409.5 825.7,1412.1 830.7,1414.8 835.7,1416.9 840.7,1420.3 845.7,1423.4 850.7,1425.4 855.7,1427.3 860.7,1429.7 865.7,1432.1 870.7,1434.2 875.7,1435.8 880.7,1437.4 885.7,1439.2 890.7,1441.0 895.7,1442.8 900.7,1444.9 905.7,1447.3 910.7,1448.4 915.7,1449.4 920.7,1450.6 925.7,1452.0 930.7,1453.4 935.7,1454.7 940.7,1456.1 945.7,1457.2 950.7,1458.3 955.7,1459.3 960.7,1460.3 965.7,1461.3 970.7,1462.1 975.7,1463.0 980.7,1463.8 985.7,1464.5 990.7,1465.2 995.7,1465.9 1000.7,1466.6 1005.7,1467.2 1010.7,1467.8 1015.7,1468.4 1020.7,1469.0 1025.7,1469.7 1030.7,1470.4 1035.7,1471.1 1040.7,1471.7 1045.7,1472.4 1050.7,1473.0 1055.7,1473.5 1060.7,1473.9 1065.7,1474.2 1070.7,1474.5 1075.7,1474.8 1080.7,1475.1 1085.7,1475.4 1090.7,1475.6 1095.7,1475.8 1100.7,1476.0 1105.7,1476.2 1110.7,1476.4 1115.7,1476.6 1120.7,1476.8 1125.7,1476.9 1130.7,1477.1 1135.7,1477.2 1140.7,1477.4 1145.7,1477.5 1150.7,1477.7 1155.7,1477.8 1160.7,1477.9 1165.7,1478.0 1170.7,1478.1 1175.7,1478.2 1180.7,1478.3 1185.7,1478.4 1190.7,1478.4 1195.7,1478.5 1200.7,1478.6 1205.7,1478.6 1210.7,1478.7 1215.7,1478.7 1220.7,1478.8 1225.7,1478.8 1230.7,1478.9 1235.7,1478.9 1240.7,1478.9 1245.7,1479.0 1250.7,1479.0 1255.7,1479.1 1260.7,1479.1 1265.7,1479.1 1270.7,1479.2 1275.7,1479.2 1280.7,1479.2 1285.7,1479.2 1290.7,1479.3 1295.7,1479.3 1300.7,1479.3 1305.7,1479.3 1310.7,1479.3 1315.7,1479.3 1320.7,1479.3 1325.7,1479.4 1329.7,1479.4" fill="none" stroke="#3a9aa8" stroke-width="3.8" stroke-linejoin="round" stroke-linecap="round"/>
<polyline points="783.0,1480.1 788.5,1505.0 798.6,1559.2 816.1,1495.8 824.4,1523.4 830.4,1569.4 836.7,1542.3 842.8,1554.6 848.6,1561.4 853.8,1539.9 858.8,1568.1 867.6,1526.1 872.2,1529.8 875.9,1541.8 880.5,1532.6 883.2,1523.0 886.9,1527.0 890.6,1528.0 893.4,1519.3 897.0,1521.5 899.4,1532.6 904.9,1518.8 909.0,1525.2 911.8,1527.4 916.4,1524.3 920.0,1529.2 923.7,1529.2 923.7,1528.8 925.9,1531.4 928.1,1533.2 930.3,1533.4 932.5,1531.9 934.7,1532.4 936.9,1533.3 939.1,1534.3 941.3,1536.4 943.5,1532.8 945.7,1532.9 947.9,1534.4 950.1,1533.4 952.3,1532.7 954.5,1535.4 956.7,1534.6 958.9,1534.2 961.1,1533.5 963.3,1534.3 965.5,1534.1 967.7,1534.7 969.9,1534.8 972.1,1534.4 974.3,1534.8 976.5,1534.4 978.7,1534.5 980.9,1538.4 983.1,1537.9 985.3,1537.9 987.5,1539.1 989.7,1538.4 991.9,1539.5 994.1,1538.7 996.3,1538.7 998.5,1538.3 1000.7,1538.8 1002.9,1538.8 1005.1,1539.1 1007.3,1540.7 1009.5,1540.3 1011.7,1541.7 1013.9,1541.7 1016.1,1543.5 1018.3,1544.2 1020.5,1544.6 1022.7,1545.2 1024.9,1545.5 1027.1,1546.3 1029.3,1546.0 1031.5,1547.1 1033.7,1548.1 1035.9,1547.8 1038.1,1549.4 1040.3,1550.0 1042.5,1549.9 1044.7,1550.4 1046.9,1551.1 1049.1,1551.6 1051.3,1553.1 1053.5,1552.8 1055.7,1552.9 1057.9,1553.7 1060.1,1555.3 1062.3,1556.4 1064.5,1556.4 1066.7,1557.2 1068.9,1558.0 1071.1,1559.0 1073.3,1559.0 1075.5,1560.2 1077.7,1560.9 1079.9,1561.7 1082.1,1561.8 1084.3,1562.5 1086.5,1563.5 1088.7,1565.0 1090.9,1565.0 1093.1,1566.1 1095.3,1566.4 1097.5,1566.8 1099.7,1567.5 1101.9,1569.3 1104.1,1570.0 1106.3,1570.1 1108.5,1571.1 1110.7,1571.7 1112.9,1572.5 1115.1,1573.2 1117.3,1573.0 1119.5,1574.3 1121.7,1574.9 1123.9,1574.9 1126.1,1575.9 1128.3,1575.9 1130.5,1576.2 1132.7,1576.1 1134.9,1577.1 1137.1,1576.2 1139.3,1576.1 1141.5,1577.3 1143.7,1577.3 1145.9,1577.0 1148.1,1577.6 1150.3,1576.6 1152.5,1577.0 1154.7,1577.2 1156.9,1577.6 1159.1,1577.5 1161.3,1577.6 1163.5,1578.2 1165.7,1579.2 1167.9,1579.5 1170.1,1579.4 1172.3,1579.3 1174.5,1579.2 1176.7,1580.4 1178.9,1580.0 1181.1,1580.3 1183.3,1579.3 1185.5,1579.5 1187.7,1580.3 1189.9,1580.1 1192.1,1580.2 1194.3,1579.7 1196.5,1579.4 1198.7,1579.6 1200.9,1580.2 1203.1,1579.6 1205.3,1580.1 1207.5,1579.9 1209.7,1580.8 1211.9,1579.9 1214.1,1581.1 1216.3,1581.6 1218.5,1580.5 1220.7,1581.4 1222.9,1581.5 1225.1,1581.7 1227.3,1581.3 1229.5,1580.8 1231.7,1581.0 1233.9,1581.7 1236.1,1581.6 1238.3,1580.5 1240.5,1580.4 1242.7,1580.4 1244.9,1580.3 1247.1,1580.9 1249.3,1580.5 1251.5,1581.5 1253.7,1581.2 1255.9,1580.5 1258.1,1581.1 1260.3,1580.8 1262.5,1581.1 1264.7,1580.7 1266.9,1580.6 1269.1,1580.7 1271.3,1581.0 1273.5,1581.4 1275.7,1581.2 1277.9,1580.5 1280.1,1581.5 1282.3,1581.7 1284.5,1581.6 1286.7,1581.6 1288.9,1580.5 1291.1,1581.2 1293.3,1580.7 1295.5,1581.6 1297.7,1580.8 1299.9,1581.6 1302.1,1581.0 1304.3,1581.6 1306.5,1581.1 1308.7,1580.7 1310.9,1581.2 1313.1,1581.1 1315.3,1582.0 1317.5,1581.1 1319.7,1581.4 1321.9,1581.5 1324.1,1582.1 1326.3,1580.9 1328.5,1581.6 1329.7,1581.5" fill="none" stroke="#0a86ad" stroke-width="3.8" stroke-linejoin="round" stroke-linecap="round"/>
<polyline points="732.0,1635.6 753.0,1666.0 778.0,1608.9 796.8,1621.8 812.9,1634.7 825.8,1617.2 837.6,1634.7 847.9,1621.2 856.6,1664.1 865.8,1658.6 872.2,1656.8 879.6,1641.1 886.0,1618.7 892.1,1620.0 897.4,1661.4 901.6,1657.7 907.2,1647.0 912.3,1645.7 917.3,1657.7 921.0,1658.6 924.6,1651.2 928.3,1653.1 932.9,1664.1 936.2,1670.2 939.4,1635.6 942.5,1626.4 946.7,1637.4 951.7,1673.3 954.1,1658.6 956.8,1665.0 959.6,1669.6 962.4,1652.2 964.7,1647.6 967.0,1657.7 969.7,1677.9 972.5,1671.5 974.3,1679.8 977.4,1639.3 980.4,1636.5 984.4,1662.3 986.6,1652.2 989.9,1675.2 993.6,1654.0 997.3,1674.2 1001.0,1661.4 1003.7,1654.9 1007.4,1676.1 1010.2,1668.7 1014.2,1664.1 1019.4,1680.7 1023.4,1647.6 1025.8,1668.7 1028.6,1658.6 1030.4,1673.3 1032.6,1658.6 1035.9,1672.4 1039.6,1663.2 1042.4,1674.2 1045.1,1679.8 1047.0,1670.6 1049.7,1680.7 1052.0,1662.3 1055.3,1672.4 1057.1,1679.8 1059.9,1668.7 1063.5,1674.2" fill="none" stroke="#1268a3" stroke-width="3.6" stroke-linejoin="round" stroke-linecap="round"/>
<polyline points="1003.9,1669.2 1005.9,1676.6 1007.1,1663.7 1008.8,1674.0 1010.4,1669.7 1012.0,1671.8 1013.9,1667.7 1015.4,1675.7 1016.7,1670.4 1018.5,1676.0 1020.0,1672.2 1021.7,1668.5 1023.4,1658.5 1024.9,1661.9 1026.5,1661.8 1028.3,1671.9 1029.8,1658.9 1031.3,1666.5 1033.0,1658.3 1034.4,1671.3 1036.1,1661.2 1037.9,1676.7 1039.3,1665.8 1040.9,1676.3 1042.4,1670.5 1044.1,1677.8 1045.7,1666.0 1047.3,1677.5 1048.9,1667.5 1050.7,1680.2 1052.1,1663.7 1053.9,1678.0 1055.3,1671.3 1056.7,1678.1 1058.3,1671.8 1060.0,1677.6 1061.6,1667.2 1063.1,1680.0 1065.0,1667.2 1066.4,1676.5 1067.9,1669.3 1069.8,1679.5 1071.3,1674.0 1072.9,1677.1 1074.5,1673.6 1076.2,1676.8 1077.8,1672.8 1079.2,1678.9 1081.0,1674.0 1082.7,1678.9 1084.1,1668.7 1085.6,1678.8 1087.4,1670.9 1088.8,1680.5 1090.7,1672.6 1091.9,1681.1 1093.6,1674.6 1095.2,1679.0 1096.7,1674.9 1098.4,1681.0 1100.2,1675.3 1101.8,1678.9 1103.2,1674.8 1104.7,1679.4 1106.5,1675.2 1108.2,1681.5 1109.7,1677.3 1111.2,1682.1 1112.7,1678.4 1114.3,1681.5 1116.1,1680.0 1117.7,1682.5 1119.1,1678.5 1120.7,1681.7 1122.3,1678.9 1124.3,1681.3 1125.6,1679.5 1127.1,1681.7 1129.0,1678.5 1130.3,1681.0 1132.1,1678.9 1133.8,1682.5 1135.3,1680.5 1137.0,1682.3 1138.4,1679.8 1139.9,1682.4 1141.7,1680.7 1143.4,1681.8 1144.8,1681.1 1146.6,1682.3 1148.0,1680.8 1149.6,1682.0 1151.1,1680.1 1152.8,1682.4 1154.7,1680.6 1156.1,1682.6 1157.7,1681.3 1159.4,1682.3 1161.1,1680.5 1162.6,1682.1 1163.9,1681.4 1165.6,1682.7 1167.5,1681.1 1168.8,1681.9 1170.6,1681.3 1172.3,1682.6 1173.8,1681.8 1175.4,1682.1 1176.8,1681.5 1178.4,1682.7 1180.3,1681.2 1181.5,1682.7 1183.1,1681.5 1184.8,1682.7 1186.5,1681.5 1188.0,1682.7 1189.6,1682.1 1191.4,1682.6 1192.8,1682.2 1194.7,1682.9 1196.0,1681.9 1197.6,1682.9 1199.1,1681.8 1201.1,1682.9 1202.3,1682.2 1204.2,1682.8 1205.5,1681.9 1207.2,1682.8 1208.9,1682.3 1210.5,1682.8 1212.2,1681.8 1213.7,1682.6 1215.2,1682.0 1216.7,1683.0 1218.5,1681.9 1220.0,1682.6 1221.7,1682.1 1223.1,1682.8 1224.9,1682.4 1226.4,1683.0 1228.3,1682.3 1229.6,1683.0 1231.2,1682.2 1233.0,1682.9 1234.6,1682.2 1236.2,1683.0 1237.6,1682.4 1239.4,1682.9 1240.9,1682.3 1242.5,1683.1 1244.2,1682.2 1245.9,1683.0 1247.2,1682.3 1248.7,1683.0 1250.3,1682.5 1252.0,1682.9 1253.5,1682.5 1255.4,1682.9 1256.7,1682.3 1258.5,1683.1 1259.9,1682.3 1261.8,1683.1 1263.5,1682.3 1264.7,1683.1 1266.4,1682.3 1268.0,1683.1 1269.7,1682.4 1271.3,1683.2 1273.0,1682.5 1274.4,1683.1 1276.2,1682.4 1277.5,1683.3 1279.4,1682.4 1281.0,1683.1 1282.4,1682.7 1284.2,1683.2 1285.8,1682.5 1287.1,1683.2 1288.9,1682.6 1290.6,1683.3 1292.1,1682.9 1293.8,1683.0 1295.1,1682.7 1297.0,1683.0 1298.4,1682.7 1300.1,1683.4 1301.6,1682.9 1303.3,1683.4 1304.7,1682.9 1306.5,1683.4" fill="none" stroke="#1268a3" stroke-width="3.0" stroke-linejoin="round" stroke-linecap="round"/>
<polyline points="733.8,1683.8 1306.7,1683.8" fill="none" stroke="#1268a3" stroke-width="3.6" stroke-linejoin="round" stroke-linecap="round"/>
<polyline points="735.7,1756.5 749.8,1751.0 761.8,1752.2 773.8,1755.0 783.9,1761.1 793.1,1765.7 801.9,1768.1 809.6,1766.0 817.0,1764.8 823.4,1765.7 829.9,1769.4 837.2,1774.0 844.2,1776.3 852.0,1773.4 857.5,1771.2 863.0,1772.1 870.4,1777.6 875.9,1780.4 881.4,1775.8 886.0,1772.7 890.6,1774.0 894.3,1778.6 897.6,1782.6 902.6,1774.9 907.2,1771.7 910.8,1774.9 914.5,1784.1 919.1,1769.4 922.8,1765.1 925.6,1767.5 928.3,1773.0 932.9,1749.1 934.8,1745.4 937.5,1748.2 940.3,1738.1 943.0,1726.1 945.8,1739.9 948.6,1736.2 952.2,1749.1 955.0,1726.1 958.7,1732.6 961.4,1718.8 963.3,1732.6 966.0,1728.9 969.7,1737.2 972.5,1724.3 974.3,1733.5 978.0,1713.2 980.7,1723.4 984.1,1713.2 986.3,1728.9 989.9,1709.6 992.7,1691.7 996.4,1691.2 998.2,1714.2 999.1,1725.2" fill="none" stroke="#1455a5" stroke-width="3.6" stroke-linejoin="round" stroke-linecap="round"/>
<polyline points="997.5,1720.4 998.1,1728.7 999.3,1722.6 1000.2,1749.2 1001.3,1720.5 1002.3,1761.4 1003.1,1722.2 1004.3,1753.2 1005.4,1731.9 1006.1,1763.3 1007.3,1741.3 1008.4,1759.0 1009.3,1748.5 1010.3,1757.5 1011.4,1737.1 1012.1,1769.7 1013.4,1734.6 1014.3,1763.9 1015.2,1738.9 1016.2,1768.7 1017.2,1745.0 1018.1,1765.5 1019.2,1736.2 1020.4,1759.5 1021.3,1735.9 1022.2,1767.7 1023.3,1743.8 1024.2,1772.2 1025.4,1743.2 1026.2,1758.9 1027.5,1735.6 1028.5,1769.5 1029.5,1732.5 1030.3,1781.6 1031.4,1732.1 1032.5,1768.0 1033.5,1746.6 1034.5,1772.4 1035.2,1741.0 1036.3,1753.1 1037.1,1722.6 1038.2,1773.4 1039.5,1748.4 1040.2,1778.6 1041.2,1732.9 1042.4,1769.4 1043.3,1724.6 1044.3,1755.1 1045.5,1725.5 1046.5,1758.5 1047.3,1735.7 1048.4,1763.1 1049.2,1732.1 1050.3,1775.3 1051.3,1733.6 1052.4,1765.8 1053.4,1706.3 1054.3,1772.9 1055.2,1736.4 1056.1,1748.9 1057.3,1729.6 1058.3,1776.5 1059.3,1732.4 1060.1,1764.7 1061.4,1736.2 1062.5,1779.9 1063.4,1739.6 1064.3,1780.4 1065.1,1744.0 1066.3,1769.6 1067.3,1749.1 1068.3,1773.3 1069.5,1738.0 1070.5,1782.3 1071.3,1753.2 1072.4,1766.4 1073.2,1744.3 1074.2,1779.1 1075.5,1735.4 1076.3,1778.6 1077.4,1733.9 1078.3,1774.6 1079.2,1725.5 1080.2,1783.2 1081.5,1723.9 1082.2,1773.3 1083.2,1728.0 1084.3,1769.9 1085.2,1744.7 1086.2,1758.9 1087.4,1752.3 1088.4,1780.3 1089.3,1732.9 1090.4,1778.2 1091.4,1737.0 1092.4,1776.0 1093.1,1749.7 1094.4,1767.2 1095.5,1747.8 1096.2,1767.1 1097.4,1746.8 1098.4,1782.1 1099.4,1754.5 1100.4,1776.4 1101.4,1763.5 1102.2,1776.7 1103.1,1755.6 1104.2,1772.7 1105.2,1759.5 1106.3,1776.8 1107.3,1766.1 1108.4,1780.5 1109.5,1763.2 1110.5,1781.1 1111.5,1767.8 1112.3,1783.0 1113.4,1764.6 1114.3,1783.6 1115.4,1765.8 1116.2,1779.3 1117.1,1763.8 1118.3,1782.0 1119.3,1769.9 1120.2,1781.1 1121.4,1764.3 1122.2,1780.9 1123.3,1770.8 1124.3,1774.2 1125.3,1768.3 1126.5,1779.1 1127.4,1773.0 1128.1,1781.0 1129.3,1770.4 1130.1,1781.4 1131.3,1761.7 1132.4,1773.3 1133.4,1769.3 1134.2,1782.6 1135.1,1770.1 1136.3,1780.3 1137.2,1771.9 1138.3,1783.7 1139.4,1769.7 1140.4,1782.6 1141.4,1773.9 1142.2,1781.1 1143.5,1770.7 1144.2,1782.9 1145.3,1772.0 1146.2,1779.2 1147.1,1777.1 1148.3,1779.7 1149.2,1777.4 1150.5,1780.9 1151.2,1776.7 1152.5,1779.9 1153.4,1775.1 1154.1,1783.7 1155.4,1778.1 1156.4,1779.8 1157.2,1776.7 1158.5,1782.0 1159.5,1777.5 1160.4,1783.5 1161.1,1778.0 1162.2,1780.8 1163.1,1776.0 1164.2,1781.7 1165.1,1779.7 1166.4,1781.0 1167.3,1777.8 1168.4,1781.2 1169.4,1776.7 1170.3,1783.1 1171.5,1778.1 1172.5,1783.0 1173.2,1777.4 1174.4,1782.2 1175.2,1780.0 1176.4,1781.7 1177.2,1778.2 1178.5,1782.6 1179.3,1779.7 1180.4,1782.9 1181.3,1779.5 1182.5,1782.7 1183.4,1780.5 1184.3,1783.5 1185.4,1780.7 1186.5,1781.5 1187.3,1779.0 1188.2,1783.4 1189.5,1779.8 1190.1,1782.3 1191.3,1779.4 1192.3,1781.9 1193.3,1779.4 1194.1,1783.6 1195.5,1780.3 1196.4,1782.4 1197.3,1779.5 1198.4,1782.8 1199.1,1780.2 1200.2,1782.0 1201.3,1781.0 1202.2,1782.5 1203.3,1779.9 1204.4,1783.3 1205.4,1780.5 1206.4,1783.5 1207.5,1780.3 1208.1,1782.2 1209.4,1781.7 1210.2,1782.9 1211.4,1781.5 1212.5,1783.1 1213.4,1782.1 1214.2,1782.5 1215.3,1781.1 1216.5,1783.4 1217.4,1781.7 1218.5,1783.2 1219.4,1781.4 1220.3,1783.3 1221.2,1781.4 1222.2,1783.9 1223.1,1781.5 1224.2,1783.5 1225.4,1782.5 1226.4,1783.2 1227.2,1781.6 1228.2,1783.4 1229.3,1782.7 1230.2,1782.9 1231.4,1781.7 1232.2,1783.3 1233.5,1782.7 1234.5,1783.3 1235.2,1782.8 1236.4,1783.3 1237.2,1782.5 1238.3,1783.5 1239.1,1782.7 1240.2,1783.7 1241.2,1782.7 1242.2,1783.9 1243.3,1782.2 1244.3,1783.3 1245.4,1782.3 1246.3,1783.8 1247.3,1782.8 1248.4,1783.4 1249.4,1782.9 1250.4,1783.3 1251.3,1782.4 1252.4,1783.4 1253.4,1782.8 1254.3,1783.4 1255.1,1782.8 1256.4,1783.7 1257.4,1783.1 1258.2,1783.7 1259.4,1783.1 1260.1,1783.9 1261.3,1783.1 1262.5,1783.9 1263.4,1782.8 1264.2,1783.4 1265.2,1782.8 1266.3,1783.6 1267.2,1783.0 1268.3,1783.9 1269.3,1782.6 1270.5,1783.3 1271.4,1782.6 1272.2,1783.9 1273.2,1782.9 1274.1,1783.9 1275.2,1782.7 1276.1,1783.4 1277.2,1782.9 1278.1,1783.6 1279.4,1782.8 1280.3,1784.0 1281.3,1782.8 1282.1,1783.7 1283.2,1783.2 1284.2,1783.6 1285.2,1782.8 1286.2,1784.0 1287.1,1782.8 1288.3,1783.5 1289.3,1783.0 1290.1,1783.6 1291.4,1782.8 1292.3,1784.0 1293.4,1783.1 1294.3,1784.0 1295.3,1783.0 1296.4,1784.0 1297.3,1783.4 1298.4,1783.7 1299.4,1783.4 1300.1,1783.9 1301.4,1783.3 1302.2,1783.7 1303.4,1783.5 1304.4,1784.0 1305.2,1783.1 1306.1,1783.6 1307.3,1783.4 1308.4,1783.8 1309.2,1783.5 1310.3,1784.0 1311.3,1783.1 1312.1,1784.0 1313.1,1783.3 1314.3,1784.0 1315.4,1783.2 1316.1,1783.7 1317.2,1783.5 1318.1,1783.8 1319.5,1783.5 1320.2,1784.0 1321.5,1783.3 1322.2,1783.8 1323.4,1783.6 1324.5,1783.7 1325.4,1783.3 1326.2,1784.1 1327.2,1783.4 1328.3,1784.0 1329.5,1783.4" fill="none" stroke="#1455a5" stroke-width="3.3" stroke-linejoin="round" stroke-linecap="round"/>
<polyline points="806.9,1785.0 808.7,1792.4 824.4,1809.8 838.2,1827.3 850.1,1838.4 860.2,1843.9 869.4,1853.1 876.8,1853.1 885.1,1845.7 891.5,1848.5 898.0,1862.8 904.4,1865.4 909.0,1860.4 914.5,1849.4 919.7,1852.2 924.6,1876.6 931.1,1861.4 937.5,1845.2 942.1,1849.4 944.9,1870.6 948.6,1830.1 951.3,1811.7 955.0,1810.8 958.3,1825.5 961.1,1799.7 964.2,1817.2 967.0,1835.6 969.7,1816.3 972.5,1824.6 974.9,1817.2 978.0,1825.5 982.0,1808.9 984.8,1822.7 987.2,1817.2 989.0,1836.5 990.9,1817.2 994.5,1836.5 999.1,1830.1" fill="none" stroke="#0f4080" stroke-width="3.6" stroke-linejoin="round" stroke-linecap="round"/>
<polyline points="999.3,1836.0 1000.3,1852.1 1001.2,1829.1 1002.3,1857.7 1003.2,1826.9 1004.3,1851.8 1005.3,1829.2 1006.0,1844.4 1007.3,1827.2 1008.1,1850.9 1009.3,1820.1 1010.3,1865.1 1011.0,1835.2 1012.1,1860.9 1013.1,1825.9 1014.3,1843.7 1015.3,1819.5 1016.0,1862.1 1017.3,1827.1 1018.3,1847.6 1019.1,1834.7 1020.3,1854.2 1021.1,1814.7 1022.0,1876.3 1023.2,1825.1 1024.0,1844.7 1025.3,1826.2 1026.2,1847.7 1027.2,1820.5 1028.2,1855.5 1029.1,1829.6 1030.1,1849.6 1031.3,1826.4 1032.0,1870.7 1033.1,1830.6 1034.0,1852.4 1035.0,1823.5 1036.1,1863.3 1037.3,1824.4 1038.3,1865.7 1039.3,1829.9 1040.2,1852.5 1041.1,1820.2 1042.1,1857.0 1043.1,1816.9 1044.3,1841.6 1045.0,1825.8 1046.2,1863.5 1047.1,1828.3 1048.3,1856.6 1049.1,1817.1 1050.1,1855.6 1051.1,1836.1 1052.1,1875.3 1053.3,1825.2 1054.2,1853.4 1055.0,1844.6 1056.0,1858.7 1057.3,1830.2 1058.3,1863.0 1059.2,1837.7 1060.3,1863.4 1061.0,1844.5 1062.0,1863.0 1063.0,1842.3 1064.1,1855.6 1065.1,1846.3 1066.1,1858.2 1067.1,1845.3 1068.3,1852.8 1069.1,1849.8 1070.0,1870.3 1071.3,1837.8 1072.3,1873.9 1073.2,1837.8 1074.1,1874.6 1075.2,1847.0 1076.0,1855.2 1077.0,1836.1 1078.3,1868.0 1079.1,1841.0 1080.3,1868.7 1081.0,1846.3 1082.0,1876.4 1083.2,1858.1 1084.0,1877.1 1085.2,1849.0 1086.0,1868.2 1087.0,1849.3 1088.2,1863.4 1089.0,1860.5 1090.2,1869.7 1091.1,1860.0 1092.3,1875.0 1093.2,1860.3 1094.0,1874.4 1095.3,1850.9 1096.1,1876.2 1097.0,1854.0 1098.2,1881.0 1099.3,1864.5 1100.3,1881.2 1101.2,1862.4 1102.0,1881.1 1103.2,1860.3 1104.0,1883.1 1105.3,1852.6 1106.2,1871.6 1107.2,1861.0 1108.2,1884.0 1109.3,1860.0 1110.3,1884.1 1111.2,1859.9 1112.0,1875.1 1113.0,1866.7 1114.1,1881.7 1115.1,1875.6 1116.2,1878.1 1117.1,1875.7 1118.2,1885.1 1119.2,1872.4 1120.2,1884.9 1121.3,1877.7 1122.0,1884.8 1123.3,1874.4 1124.1,1884.6 1125.0,1873.1 1126.1,1882.9 1127.2,1875.5 1128.0,1882.6 1129.2,1878.7 1130.0,1882.9 1131.2,1878.6 1132.2,1883.9 1133.2,1879.7 1134.3,1883.3 1135.3,1881.1 1136.0,1884.0 1137.3,1879.9 1138.2,1883.4 1139.0,1879.7 1140.1,1883.9 1141.3,1880.2 1142.3,1885.1 1143.3,1881.5 1144.0,1883.6 1145.3,1880.4 1146.2,1884.7 1147.2,1881.7 1148.2,1883.8 1149.2,1880.3 1150.2,1885.3 1151.0,1881.7 1152.3,1885.4 1153.2,1879.8 1154.0,1885.0 1155.0,1879.7 1156.3,1883.0 1157.0,1881.3 1158.0,1884.9 1159.3,1881.4 1160.3,1882.4 1161.1,1880.2 1162.0,1885.3 1163.3,1880.1 1164.1,1882.1 1165.3,1879.8 1166.2,1885.0 1167.1,1880.2 1168.0,1884.7 1169.1,1879.1 1170.3,1882.3 1171.3,1879.1 1172.2,1885.3 1173.3,1882.0 1174.3,1882.9 1175.0,1880.9 1176.2,1885.1 1177.3,1881.0 1178.3,1885.3 1179.2,1881.1 1180.1,1885.3 1181.3,1881.1 1182.2,1884.1 1183.1,1882.0 1184.3,1885.0 1185.2,1882.2 1186.3,1883.4 1187.3,1882.6 1188.3,1885.0 1189.1,1882.6 1190.0,1885.1 1191.3,1883.5 1192.3,1885.1 1193.1,1882.6 1194.2,1884.1 1195.2,1882.7 1196.2,1885.5 1197.2,1883.4 1198.0,1884.8 1199.3,1884.0 1200.0,1884.4 1201.2,1883.2 1202.2,1884.4 1203.1,1883.3 1204.1,1885.4 1205.2,1884.3 1206.3,1885.4 1207.1,1884.3 1208.2,1885.5 1209.0,1883.7 1210.1,1884.7 1211.1,1883.7 1212.1,1884.6 1213.0,1884.0 1214.0,1885.5 1215.1,1883.9 1216.2,1885.3 1217.3,1884.6 1218.2,1885.5 1219.1,1884.2 1220.1,1885.4 1221.1,1884.7 1222.2,1885.5 1223.3,1884.4 1224.0,1885.5 1225.1,1884.5 1226.0,1885.2 1227.3,1884.8 1228.2,1885.5 1229.3,1884.9 1230.2,1885.2 1231.1,1884.7 1232.0,1885.6 1233.1,1884.8 1234.1,1885.5 1235.2,1884.6 1236.1,1885.1 1237.0,1884.6 1238.3,1885.5 1239.2,1885.1 1240.0,1885.5 1241.0,1885.0 1242.2,1885.5 1243.0,1884.9 1244.2,1885.1 1245.0,1884.9 1246.0,1885.3 1247.0,1884.9 1248.2,1885.3 1249.1,1884.9 1250.0,1885.3 1251.0,1884.7 1252.0,1885.4 1253.3,1884.7 1254.1,1885.6 1255.1,1885.1 1256.3,1885.3 1257.0,1884.8 1258.1,1885.6 1259.3,1885.0 1260.2,1885.3 1261.3,1884.8 1262.3,1885.5 1263.3,1884.8 1264.1,1885.6 1265.2,1885.1 1266.1,1885.6 1267.1,1885.1 1268.1,1885.5 1269.1,1884.9 1270.3,1885.6 1271.0,1885.1 1272.1,1885.6 1273.2,1885.0 1274.2,1885.5 1275.0,1884.9 1276.2,1885.5 1277.3,1885.0 1278.0,1885.7 1279.1,1885.1 1280.0,1885.5 1281.2,1885.0 1282.0,1885.6 1283.1,1884.9 1284.3,1885.7 1285.2,1885.0 1286.2,1885.4 1287.2,1885.0 1288.1,1885.4 1289.0,1885.2 1290.1,1885.7 1291.3,1885.2 1292.0,1885.7 1293.2,1885.1 1294.2,1885.5 1295.1,1885.2 1296.3,1885.7 1297.0,1885.1 1298.1,1885.7 1299.1,1885.3 1300.2,1885.7 1301.2,1885.2 1302.3,1885.7 1303.1,1885.2 1304.0,1885.5 1305.2,1885.1 1306.2,1885.6 1307.3,1885.1 1308.1,1885.5 1309.0,1885.4 1310.2,1885.8 1311.2,1885.4 1312.0,1885.7 1313.2,1885.4 1314.1,1885.5 1315.0,1885.4 1316.1,1885.8 1317.3,1885.2 1318.1,1885.7 1319.3,1885.4 1320.3,1885.7 1321.1,1885.2 1322.1,1885.6 1323.0,1885.2 1324.1,1885.6 1325.3,1885.5 1326.3,1885.7 1327.3,1885.3 1328.1,1885.8 1329.1,1885.3" fill="none" stroke="#0f4080" stroke-width="3.3" stroke-linejoin="round" stroke-linecap="round"/>
<polyline points="859.3,1887.5 868.5,1910.5 884.2,1926.1 897.0,1929.8 909.0,1951.9 919.1,1951.3 928.3,1913.2 936.6,1966.6 944.0,1905.9 951.3,1915.1 957.8,1911.4 968.8,1930.7 973.8,1957.4 978.9,1918.2 983.5,1952.8 992.7,1937.2 996.4,1942.7 1000.1,1924.3 1003.7,1962.9 1011.4,1918.2 1014.2,1921.5 1017.0,1970.3 1020.6,1969.4 1025.6,1912.0 1031.1,1968.4 1034.4,1949.1 1036.3,1948.2 1039.0,1921.5 1043.3,1968.4 1046.4,1955.6 1051.9,1949.5 1054.7,1951.9 1056.5,1965.7 1059.3,1951.0 1064.8,1987.8 1067.6,1974.9 1071.6,1951.9 1074.9,1981.3 1080.4,1975.8 1086.0,1966.6 1091.5,1985.9 1095.2,1974.9 1099.8,1970.3 1103.4,1985.9 1106.2,1975.8 1109.9,1982.2 1119.1,1985.0 1124.6,1983.2 1137.5,1982.6 1152.2,1984.4 1166.9,1983.2 1174.3,1985.9 1198.2,1986.3 1244.2,1987.2 1329.7,1987.6" fill="none" stroke="#06616a" stroke-width="3.8" stroke-linejoin="round" stroke-linecap="round"/>
</g>
<line x1="733.8" y1="1379.1" x2="1329.7" y2="1379.1" stroke="#000" stroke-width="3.4"/>
<line x1="733.8" y1="1480.2" x2="1329.7" y2="1480.2" stroke="#000" stroke-width="3.4"/>
<line x1="733.8" y1="1582.2" x2="1329.7" y2="1582.2" stroke="#000" stroke-width="3.4"/>
<line x1="1306.7" y1="1683.8" x2="1329.7" y2="1683.8" stroke="#000" stroke-width="3.4"/>
<line x1="733.8" y1="1785.9" x2="1329.7" y2="1785.9" stroke="#000" stroke-width="3.4"/>
<line x1="733.8" y1="1887.5" x2="1329.7" y2="1887.5" stroke="#000" stroke-width="3.4"/>
<line x1="733.8" y1="1989.2" x2="1329.7" y2="1989.2" stroke="#000" stroke-width="3.4"/>
<rect x="733.8" y="1277.0" width="595.9" height="813.8" fill="none" stroke="#000" stroke-width="3.4"/>
<g clip-path="url(#clipH)">
<polyline points="732.0,2036.5 748.9,2032.8 763.3,2041.1 774.3,2072.0 784.2,2049.9 793.4,2065.0 801.9,2067.2 809.3,2060.8 816.1,2073.9 822.9,2067.2 829.0,2069.1 834.5,2078.5 839.4,2070.0 845.5,2077.0 850.1,2078.8 853.8,2075.2 857.8,2083.4 862.1,2079.8 865.8,2081.6 870.4,2087.1 873.1,2083.4 880.5,2089.3 886.5,2083.4 890.6,2075.2 895.2,2062.3 898.9,2039.3 901.6,2024.6 904.4,2012.6 907.2,2019.0 910.8,2043.0 914.9,2017.2 917.3,2040.2 921.0,2016.3 923.3,2031.9 925.6,2009.8 927.4,2028.2" fill="none" stroke="#0a939c" stroke-width="3.6" stroke-linejoin="round" stroke-linecap="round"/>
<polyline points="927.6,2016.9 928.3,2025.4 929.4,2023.4 930.6,2032.0 931.3,2021.4 932.4,2032.0 933.5,2023.4 934.4,2033.0 935.4,2030.7 936.3,2037.6 937.4,2032.3 938.6,2050.0 939.2,2044.0 940.4,2052.9 941.3,2045.6 942.2,2058.9 943.4,2051.5 944.5,2065.6 945.3,2049.0 946.3,2062.4 947.4,2052.2 948.4,2069.8 949.4,2054.0 950.5,2074.1 951.2,2052.4 952.5,2072.7 953.4,2057.8 954.3,2079.2 955.3,2060.2 956.2,2078.8 957.5,2054.8 958.5,2067.7 959.3,2057.4 960.3,2067.5 961.4,2057.6 962.4,2071.5 963.3,2058.6 964.4,2072.7 965.4,2060.3 966.6,2074.2 967.5,2055.4 968.5,2074.0 969.4,2062.5 970.3,2072.4 971.5,2058.5 972.2,2075.9 973.4,2065.7 974.4,2077.0 975.5,2060.7 976.6,2076.1 977.2,2064.7 978.6,2075.4 979.3,2066.2 980.3,2075.9 981.4,2062.9 982.3,2073.5 983.5,2066.2 984.3,2071.8 985.6,2064.2 986.3,2076.6 987.3,2069.3 988.5,2074.1 989.4,2066.3 990.5,2077.4 991.3,2067.0 992.3,2074.6 993.4,2068.6 994.3,2081.2 995.6,2073.7 996.4,2081.8 997.4,2073.4 998.4,2083.4 999.3,2074.2 1000.5,2080.8 1001.2,2074.7 1002.2,2088.4 1003.4,2073.6 1004.2,2084.3 1005.5,2078.1 1006.6,2080.6 1007.6,2073.9 1008.6,2078.6 1009.5,2073.0 1010.2,2078.5 1011.5,2077.3 1012.5,2084.2 1013.5,2076.4 1014.6,2084.5 1015.2,2072.5 1016.4,2079.3 1017.3,2073.8 1018.3,2082.5 1019.5,2079.3 1020.3,2084.5 1021.6,2076.1 1022.6,2085.7 1023.4,2078.9 1024.4,2086.9 1025.4,2078.1 1026.6,2085.7 1027.3,2079.2 1028.2,2085.2 1029.4,2079.9 1030.6,2087.4 1031.5,2080.5 1032.2,2087.6 1033.6,2081.7 1034.4,2088.8 1035.4,2081.8 1036.5,2087.2 1037.4,2082.7 1038.5,2086.8 1039.2,2083.3 1040.3,2086.5 1041.2,2083.6 1042.2,2090.0 1043.3,2084.1 1044.3,2087.6 1045.2,2084.8 1046.6,2089.4 1047.3,2083.6 1048.5,2090.1 1049.3,2084.6 1050.3,2088.9 1051.4,2086.6 1052.3,2090.0 1053.5,2084.8 1054.4,2090.0 1055.2,2086.4 1056.4,2089.0 1057.6,2087.8 1058.4,2088.2 1059.4,2087.1 1060.4,2090.0 1061.4,2088.5 1062.3,2088.9 1063.4,2087.2 1064.3,2088.6 1065.3,2088.0 1066.4,2089.1 1067.2,2088.6 1068.5,2090.0 1069.3,2087.6 1070.4,2089.0 1071.4,2088.5 1072.2,2090.1 1073.6,2088.5 1074.6,2090.1 1075.4,2088.5 1076.4,2089.3 1077.3,2087.6 1078.5,2089.9 1079.5,2087.8 1080.2,2089.6 1081.4,2088.0 1082.3,2089.4 1083.5,2088.9 1084.5,2090.2 1085.6,2088.3 1086.5,2090.1 1087.4,2088.4 1088.4,2090.0 1089.5,2088.9 1090.5,2089.6 1091.4,2088.7 1092.2,2089.5 1093.6,2088.7 1094.4,2089.7 1095.4,2088.9 1096.4,2089.2 1097.6,2088.3 1098.4,2089.2 1099.4,2088.3 1100.3,2089.9 1101.3,2087.9 1102.6,2090.1 1103.5,2088.1 1104.6,2089.9 1105.3,2088.4 1106.3,2089.9 1107.3,2088.1 1108.3,2090.1 1109.6,2087.9 1110.3,2089.4 1111.2,2088.8 1112.4,2089.7 1113.6,2088.9 1114.5,2089.7 1115.2,2088.6 1116.2,2090.2 1117.4,2088.7 1118.4,2090.1 1119.4,2089.0 1120.3,2089.4 1121.5,2088.5 1122.6,2090.2 1123.3,2088.0 1124.3,2089.2 1125.6,2088.3 1126.5,2090.2 1127.2,2088.7 1128.6,2090.3 1129.5,2088.9 1130.4,2089.8 1131.2,2089.0 1132.3,2090.2 1133.6,2088.6 1134.2,2090.2 1135.5,2088.2 1136.3,2089.8 1137.4,2088.7 1138.3,2090.3 1139.6,2088.9 1140.5,2090.1 1141.2,2089.1 1142.3,2090.3 1143.4,2088.3 1144.3,2089.3 1145.4,2088.2 1146.3,2089.7 1147.4,2088.6 1148.3,2089.6 1149.4,2088.3 1150.4,2090.1 1151.6,2088.9 1152.3,2089.3 1153.4,2088.6 1154.3,2090.0 1155.4,2088.3 1156.4,2090.3 1157.5,2089.1 1158.3,2090.4 1159.5,2088.4 1160.2,2090.4 1161.3,2089.0 1162.4,2090.3" fill="none" stroke="#0a939c" stroke-width="3.3" stroke-linejoin="round" stroke-linecap="round"/>
<polyline points="1019.7,2089.6 1162.5,2089.8" fill="none" stroke="#0a939c" stroke-width="4.6" stroke-linejoin="round" stroke-linecap="round"/>
</g>
<line x1="793.6" y1="2090.8" x2="793.6" y2="2086.2" stroke="#000" stroke-width="3.6"/>
<line x1="828.6" y1="2090.8" x2="828.6" y2="2086.2" stroke="#000" stroke-width="3.6"/>
<line x1="853.4" y1="2090.8" x2="853.4" y2="2086.2" stroke="#000" stroke-width="3.6"/>
<line x1="872.6" y1="2090.8" x2="872.6" y2="2086.2" stroke="#000" stroke-width="3.6"/>
<line x1="888.3" y1="2090.8" x2="888.3" y2="2086.2" stroke="#000" stroke-width="3.6"/>
<line x1="901.6" y1="2090.8" x2="901.6" y2="2086.2" stroke="#000" stroke-width="3.6"/>
<line x1="913.2" y1="2090.8" x2="913.2" y2="2086.2" stroke="#000" stroke-width="3.6"/>
<line x1="923.3" y1="2090.8" x2="923.3" y2="2086.2" stroke="#000" stroke-width="3.6"/>
<line x1="932.4" y1="2090.8" x2="932.4" y2="2080.3" stroke="#000" stroke-width="3.6"/>
<line x1="992.2" y1="2090.8" x2="992.2" y2="2086.2" stroke="#000" stroke-width="3.6"/>
<line x1="1027.2" y1="2090.8" x2="1027.2" y2="2086.2" stroke="#000" stroke-width="3.6"/>
<line x1="1052.0" y1="2090.8" x2="1052.0" y2="2086.2" stroke="#000" stroke-width="3.6"/>
<line x1="1071.2" y1="2090.8" x2="1071.2" y2="2086.2" stroke="#000" stroke-width="3.6"/>
<line x1="1086.9" y1="2090.8" x2="1086.9" y2="2086.2" stroke="#000" stroke-width="3.6"/>
<line x1="1100.2" y1="2090.8" x2="1100.2" y2="2086.2" stroke="#000" stroke-width="3.6"/>
<line x1="1111.8" y1="2090.8" x2="1111.8" y2="2086.2" stroke="#000" stroke-width="3.6"/>
<line x1="1121.9" y1="2090.8" x2="1121.9" y2="2086.2" stroke="#000" stroke-width="3.6"/>
<line x1="1131.0" y1="2090.8" x2="1131.0" y2="2080.3" stroke="#000" stroke-width="3.6"/>
<line x1="1190.8" y1="2090.8" x2="1190.8" y2="2086.2" stroke="#000" stroke-width="3.6"/>
<line x1="1225.8" y1="2090.8" x2="1225.8" y2="2086.2" stroke="#000" stroke-width="3.6"/>
<line x1="1250.6" y1="2090.8" x2="1250.6" y2="2086.2" stroke="#000" stroke-width="3.6"/>
<line x1="1269.8" y1="2090.8" x2="1269.8" y2="2086.2" stroke="#000" stroke-width="3.6"/>
<line x1="1285.5" y1="2090.8" x2="1285.5" y2="2086.2" stroke="#000" stroke-width="3.6"/>
<line x1="1298.8" y1="2090.8" x2="1298.8" y2="2086.2" stroke="#000" stroke-width="3.6"/>
<line x1="1310.4" y1="2090.8" x2="1310.4" y2="2086.2" stroke="#000" stroke-width="3.6"/>
<line x1="1320.5" y1="2090.8" x2="1320.5" y2="2086.2" stroke="#000" stroke-width="3.6"/>
<text x="1187.3" y="1311.9" font-size="31" text-anchor="start" fill="#000">0.01 mM</text>
<text x="1187.3" y="1413.7" font-size="31" text-anchor="start" fill="#000">0.02 mM</text>
<text x="1187.3" y="1516.0" font-size="31" text-anchor="start" fill="#000">0.03 mM</text>
<text x="1187.3" y="1617.7" font-size="31" text-anchor="start" fill="#000">0.05 mM</text>
<text x="1187.3" y="1719.8" font-size="31" text-anchor="start" fill="#000">0.1 mM</text>
<text x="1187.3" y="1821.4" font-size="31" text-anchor="start" fill="#000">0.2 mM</text>
<text x="1187.3" y="1923.4" font-size="31" text-anchor="start" fill="#000">0.5 mM</text>
<text x="1187.3" y="2025.5" font-size="31" text-anchor="start" fill="#000">1 mM</text>
<text x="740.7" y="2129.6" font-size="32" text-anchor="middle" fill="#000" textLength="58.2" lengthAdjust="spacingAndGlyphs">0.01</text>
<text x="937.5" y="2129.6" font-size="32" text-anchor="middle" fill="#000" textLength="41.6" lengthAdjust="spacingAndGlyphs">0.1</text>
<text x="1133.6" y="2129.6" font-size="32" text-anchor="middle" fill="#000" textLength="16.6" lengthAdjust="spacingAndGlyphs">1</text>
<text x="1335.0" y="2129.6" font-size="32" text-anchor="middle" fill="#000" textLength="33.3" lengthAdjust="spacingAndGlyphs">10</text>
<text x="1044.0" y="2155.8" font-size="31" text-anchor="middle" fill="#000"><tspan font-style="italic">Frequency</tspan> / Hz</text>
<text x="714.5" y="1621.5" font-size="31" text-anchor="middle" fill="#000" transform="rotate(-90 714.5 1621.5)"><tspan font-style="italic">Amplitude</tspan> / arb. units</text>
</svg></body></html>
